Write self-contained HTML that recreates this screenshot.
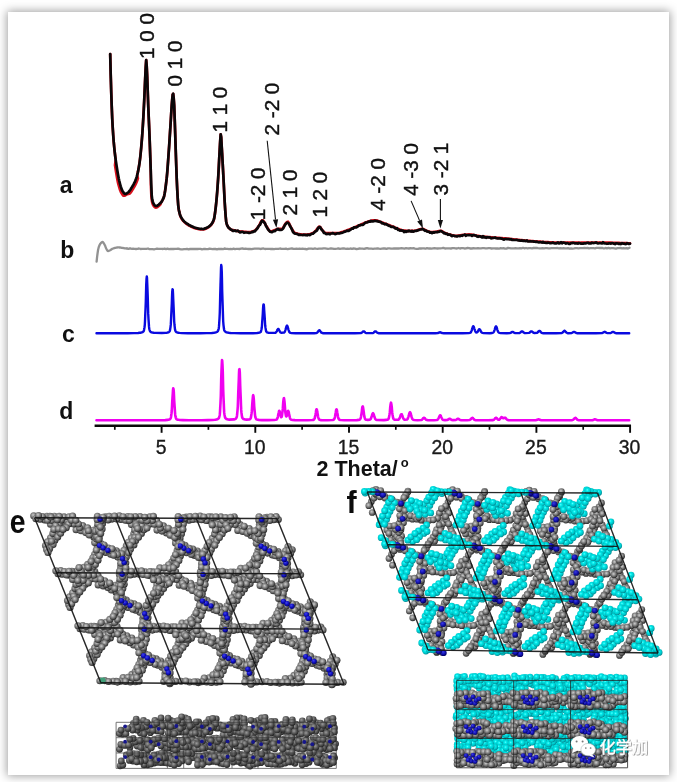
<!DOCTYPE html>
<html><head><meta charset="utf-8"><title>XRD patterns and structures</title>
<style>
html,body{margin:0;padding:0;background:#fff;}
body{width:677px;height:782px;overflow:hidden;position:relative;font-family:"Liberation Sans","Noto Sans CJK SC",sans-serif;}
#card{position:absolute;left:8px;top:12px;width:661px;height:763px;background:#fff;box-shadow:0 0 9px 1px rgba(0,0,0,0.38);}
svg{position:absolute;left:0;top:0;}
text{font-family:"Liberation Sans","Noto Sans CJK SC",sans-serif;}
</style></head>
<body>
<div id="card"></div>
<svg width="677" height="782" viewBox="0 0 677 782">
<g opacity="0.999">
<g fill="none" stroke-linejoin="round" stroke-linecap="round">
<polyline points="110.2,54.0 110.7,74.5 111.2,91.3 111.7,105.8 112.2,118.1 112.7,127.4 113.2,135.0 113.7,141.5 114.2,147.0 114.7,151.9 115.2,156.1 115.7,159.8 115.0,165.1 115.5,168.3 116.0,171.5 116.5,174.6 117.0,177.5 117.5,180.2 118.0,182.6 118.5,184.6 119.0,186.4 119.5,188.2 120.0,189.8 120.5,191.1 121.0,192.3 121.5,193.1 122.0,193.9 122.5,194.6 123.0,195.2 123.5,195.7 124.0,195.8 124.5,195.7 125.0,195.5 125.5,195.3 126.0,194.9 126.5,194.5 129.4,193.8 129.9,193.3 130.4,192.8 130.9,192.2 131.4,191.4 131.9,190.7 132.4,189.8 132.9,189.0 133.4,188.2 133.9,187.3 134.4,186.5 134.9,185.6 135.4,184.6 135.9,183.6 136.4,182.5 136.9,181.2 137.4,179.9 137.9,178.4 137.2,175.0 137.7,172.9 138.2,170.6 138.7,167.9 139.2,164.9 139.7,161.6 140.2,157.6 140.7,152.9 141.2,147.6 141.7,141.7 142.2,135.4 142.7,128.0 143.2,119.7 143.7,110.6 144.2,101.0 144.7,89.6 145.2,78.1 145.7,67.7 146.2,60.2 146.7,66.1 147.2,76.4 147.7,90.5 148.2,105.0 148.7,116.9 149.2,128.3 149.7,140.6 150.2,155.0 150.7,169.4 150.9,184.8 151.4,196.7 151.9,200.9 152.4,203.1 152.9,204.5 153.4,205.4 153.9,206.1 154.4,206.8 154.9,207.2 155.4,207.5 155.9,207.6 156.4,207.5 156.9,207.3 157.4,207.0 157.9,206.7 158.4,206.3 158.9,205.9 159.4,205.4 159.9,205.0 160.4,204.4 161.2,202.2 161.7,201.5 162.2,200.7 162.7,199.8 163.2,198.7 163.7,197.5 164.2,195.8 164.7,193.3 165.2,190.1 165.7,186.5 166.2,182.5 166.7,178.2 167.2,172.8 167.7,166.4 168.2,159.5 168.7,152.5 169.2,145.3 169.7,137.5 170.2,129.7 170.7,121.8 171.2,113.5 171.7,105.7 172.2,99.7 172.7,94.6 173.2,93.9 173.7,98.2 174.2,105.5 174.7,119.1 175.2,133.9 175.7,149.5 176.2,164.3 176.7,178.3 177.2,188.9 177.7,197.9 178.2,205.1 178.7,209.3 179.2,211.7 179.7,213.7 180.2,215.7 180.7,216.9 181.2,217.9 181.7,218.8 182.2,219.6 182.7,220.2 183.2,220.9 183.7,221.4 184.2,221.9 184.7,222.4 185.2,222.8 185.7,223.2 186.2,223.6 186.7,224.0 187.2,224.3 187.7,224.7 188.2,225.0 188.7,225.3 189.2,225.6 189.7,225.8 190.2,226.1 190.7,226.4 191.2,226.6 191.7,226.9 192.2,227.1 192.7,227.3 193.2,227.6 193.7,227.8 194.2,228.0 194.7,228.1 195.2,228.3 195.7,228.4 196.2,228.5 196.7,228.7 197.2,228.8 197.7,228.9 198.2,229.0 198.7,229.1 199.2,229.2 199.7,229.3 200.2,229.3 200.7,229.4 201.2,229.4 201.7,229.5 202.2,229.5 202.7,229.5 203.2,229.5 203.7,229.4 204.2,229.2 204.7,229.1 205.2,228.9 205.7,228.7 206.2,228.5 206.7,228.2 207.2,227.9 207.7,227.7 208.2,227.4 208.7,227.1 209.2,226.7 209.7,226.3 210.2,225.9 210.7,225.4 211.2,224.8 211.7,224.2 212.2,223.4 212.7,222.5 213.2,221.6 213.7,220.5 214.2,218.2 214.7,215.3 215.2,211.7 215.7,207.6 216.2,203.2 216.7,197.9 217.2,191.8 217.7,184.9 218.2,177.5 218.7,168.5 219.2,158.8 219.7,150.0 220.2,140.8 220.7,134.4 221.2,137.5 221.7,146.5 222.2,154.9 222.7,163.8 223.2,173.1 223.7,182.5 224.2,192.5 224.7,202.2 225.2,209.9 225.7,216.7 226.2,221.7 226.7,223.8 227.2,225.2 227.7,226.3 228.2,227.1 228.7,227.7 229.2,228.2 229.7,228.6 230.2,229.0 230.7,229.4 231.2,229.7 231.7,230.0 232.0,230.2 233.0,230.0 234.0,230.3 235.0,230.6 236.0,230.8 237.0,231.0 238.0,231.2 239.0,231.3 240.0,231.4 241.0,231.5 242.0,231.6 243.0,231.7 244.0,231.8 245.0,231.9 246.0,231.9 247.0,232.0 248.0,232.0 249.0,232.0 250.0,232.0 251.0,231.9 252.0,231.7 253.0,231.3 254.0,230.9 255.0,230.4 256.0,229.7 257.0,228.4 258.0,226.9 259.0,225.4 260.0,223.7 261.0,221.7 262.0,220.3 263.0,220.3 264.0,221.7 265.0,223.7 266.0,225.4 267.0,227.0 268.0,228.8 269.0,230.3 270.0,231.3 271.0,231.4 272.0,231.2 273.0,230.8 274.0,230.4 275.0,230.1 276.0,229.6 277.0,229.2 278.0,228.9 279.0,228.9 280.0,228.9 281.0,228.9 282.0,228.9 283.0,228.0 284.0,226.1 285.0,224.4 286.0,223.1 287.0,222.0 288.0,221.7 289.0,223.2 290.0,225.5 291.0,227.3 292.0,229.1 293.0,230.9 294.0,232.3 295.0,233.0 296.0,233.4 297.0,233.6 298.0,233.9 299.0,234.1 300.0,234.3 301.0,234.4 302.0,234.5 303.0,234.6 304.0,234.6 305.0,234.6 306.0,234.6 307.0,234.5 308.0,234.4 309.0,234.2 310.0,234.0 311.0,233.7 312.0,233.4 313.0,233.0 314.0,232.3 315.0,231.4 316.0,230.4 317.0,229.2 318.0,227.7 319.0,226.7 320.0,226.8 321.0,228.2 322.0,229.8 323.0,230.9 324.0,232.0 325.0,232.8 326.0,233.0 327.0,233.0 328.0,233.0 329.0,233.0 330.0,233.0 331.0,233.0 332.0,233.0 333.0,233.0 334.0,233.0 335.0,233.0 336.0,233.0 337.0,233.0 338.0,233.0 339.0,232.9 340.0,232.7 341.0,232.4 342.0,232.1 343.0,231.8 344.0,231.4 345.0,231.0 346.0,230.7 347.0,230.3 348.0,229.9 349.0,229.6 350.0,229.2 351.0,228.8 352.0,228.4 353.0,228.0 354.0,227.6 355.0,227.1 356.0,226.7 357.0,226.2 358.0,225.8 359.0,225.4 360.0,224.9 361.0,224.5 362.0,224.1 363.0,223.6 364.0,223.2 365.0,222.7 366.0,222.3 367.0,222.0 368.0,221.6 369.0,221.4 370.0,221.1 371.0,220.8 372.0,220.6 373.0,220.4 374.0,220.3 375.0,220.3 376.0,220.4 377.0,220.6 378.0,220.9 379.0,221.3 380.0,221.7 381.0,222.1 382.0,222.4 383.0,222.8 384.0,223.2 385.0,223.5 386.0,223.9 387.0,224.3 388.0,224.7 389.0,225.1 390.0,225.5 391.0,225.9 392.0,226.3 393.0,226.6 394.0,227.0 395.0,227.4 396.0,227.9 397.0,228.3 398.0,228.8 399.0,229.2 400.0,229.6 401.0,229.9 402.0,230.2 403.0,230.5 404.0,230.6 405.0,230.7 406.0,230.8 407.0,230.8 408.0,230.8 409.0,230.8 410.0,230.8 411.0,230.8 412.0,230.8 413.0,230.8 414.0,230.8 415.0,230.7 416.0,230.5 417.0,230.2 418.0,229.9 419.0,229.5 420.0,229.2 421.0,229.0 422.0,228.9 423.0,228.9 424.0,229.3 425.0,229.9 426.0,230.5 427.0,230.9 428.0,231.3 429.0,231.6 430.0,231.9 431.0,232.0 432.0,232.0 433.0,232.0 434.0,231.9 435.0,231.8 436.0,231.8 437.0,231.6 438.0,231.3 439.0,231.0 440.0,230.8 441.0,230.8 442.0,231.2 443.0,231.8 444.0,232.4 445.0,232.9 446.0,233.3 447.0,233.7 448.0,234.1 449.0,234.4 450.0,234.6 451.0,234.9 452.0,235.2 453.0,235.4 454.0,235.7 455.0,235.8 456.0,235.8 457.0,235.8 458.0,235.7 459.0,235.6 460.0,235.4 461.0,235.2 462.0,235.1 463.0,234.9 464.0,234.8 465.0,234.7 466.0,234.6 467.0,234.5 468.0,234.5 469.0,234.4 470.0,234.5 471.0,234.6 472.0,234.7 473.0,234.9 474.0,235.1 475.0,235.3 476.0,235.5 477.0,235.7 478.0,235.9 479.0,236.1 480.0,236.2 481.0,236.4 482.0,236.5 483.0,236.6 484.0,236.7 485.0,236.8 486.0,236.9 487.0,237.0 488.0,237.1 489.0,237.1 490.0,237.2 491.0,237.3 492.0,237.4 493.0,237.5 494.0,237.5 495.0,237.6 496.0,237.7 497.0,237.8 498.0,237.9 499.0,237.9 500.0,238.0 501.0,238.1 502.0,238.2 503.0,238.3 504.0,238.4 505.0,238.4 506.0,238.5 507.0,238.6 508.0,238.7 509.0,238.8 510.0,238.9 511.0,239.1 512.0,239.2 513.0,239.3 514.0,239.4 515.0,239.5 516.0,239.6 517.0,239.7 518.0,239.8 519.0,239.9 520.0,240.0 521.0,240.1 522.0,240.2 523.0,240.3 524.0,240.4 525.0,240.5 526.0,240.6 527.0,240.7 528.0,240.8 529.0,240.9 530.0,240.9 531.0,241.0 532.0,241.1 533.0,241.2 534.0,241.3 535.0,241.3 536.0,241.4 537.0,241.5 538.0,241.6 539.0,241.7 540.0,241.7 541.0,241.8 542.0,241.9 543.0,242.0 544.0,242.0 545.0,242.1 546.0,242.1 547.0,242.2 548.0,242.2 549.0,242.3 550.0,242.3 551.0,242.4 552.0,242.4 553.0,242.4 554.0,242.5 555.0,242.5 556.0,242.5 557.0,242.5 558.0,242.5 559.0,242.5 560.0,242.6 561.0,242.6 562.0,242.6 563.0,242.6 564.0,242.6 565.0,242.6 566.0,242.7 567.0,242.7 568.0,242.7 569.0,242.7 570.0,242.7 571.0,242.7 572.0,242.7 573.0,242.7 574.0,242.7 575.0,242.7 576.0,242.7 577.0,242.7 578.0,242.7 579.0,242.7 580.0,242.8 581.0,242.7 582.0,242.7 583.0,242.7 584.0,242.7 585.0,242.7 586.0,242.7 587.0,242.7 588.0,242.7 589.0,242.7 590.0,242.7 591.0,242.7 592.0,242.7 593.0,242.7 594.0,242.7 595.0,242.7 596.0,242.7 597.0,242.7 598.0,242.7 599.0,242.7 600.0,242.7 601.0,242.7 602.0,242.7 603.0,242.7 604.0,242.7 605.0,242.7 606.0,242.7 607.0,242.7 608.0,242.7 609.0,242.7 610.0,242.7 611.0,242.7 612.0,242.8 613.0,242.8 614.0,242.8 615.0,242.8 616.0,242.8 617.0,242.9 618.0,242.9 619.0,242.9 620.0,243.0 621.0,243.0 622.0,243.0 623.0,243.1 624.0,243.1 625.0,243.1 626.0,243.2 627.0,243.2 628.0,243.3 629.0,243.3 630.0,243.3" stroke="#d8101c" stroke-width="2.7"/>
<polyline points="110.2,54.0 110.7,74.5 111.2,91.2 111.7,105.7 112.2,118.0 112.7,127.3 113.2,135.0 113.7,141.6 114.2,147.0 114.7,151.8 115.2,156.1 115.7,159.9 116.2,163.3 116.7,166.4 117.2,169.7 117.7,172.8 118.2,175.6 118.7,178.3 119.2,180.6 119.7,182.6 120.2,184.5 120.7,186.4 121.2,187.8 121.7,189.4 122.2,190.5 122.7,191.3 123.2,191.9 123.7,192.8 124.2,193.4 124.7,193.9 125.2,193.8 125.7,193.9 126.2,193.6 126.7,193.4 127.2,193.2 127.7,192.6 128.2,192.3 128.7,191.9 129.2,191.2 129.7,190.6 130.2,190.0 130.7,189.2 131.2,188.2 131.7,187.5 132.2,186.8 132.7,185.7 133.2,185.0 133.7,184.1 134.2,183.0 134.7,182.3 135.2,181.0 135.7,179.6 136.2,178.4 136.7,176.9 137.2,175.0 137.7,173.0 138.2,170.5 138.7,167.9 139.2,165.1 139.7,161.6 140.2,157.6 140.7,152.8 141.2,147.6 141.7,141.6 142.2,135.3 142.7,128.0 143.2,119.8 143.7,110.8 144.2,100.8 144.7,89.6 145.2,78.2 145.7,67.5 146.2,60.2 146.7,66.1 147.2,76.5 147.7,90.6 148.2,105.0 148.7,116.9 149.2,128.2 149.7,140.8 150.2,155.0 150.7,169.4 151.2,183.2 151.7,195.1 152.2,199.3 152.7,201.4 153.2,202.9 153.7,203.8 154.2,204.7 154.7,205.2 155.2,205.6 155.7,206.0 156.2,206.0 156.7,206.0 157.2,205.7 157.7,205.5 158.2,204.9 158.7,204.7 159.2,204.1 159.7,203.6 160.2,203.3 160.7,202.7 161.2,202.2 161.7,201.8 162.2,200.6 162.7,199.7 163.2,198.7 163.7,197.6 164.2,195.8 164.7,193.2 165.2,190.2 165.7,186.5 166.2,182.4 166.7,178.2 167.2,172.8 167.7,166.3 168.2,159.5 168.7,152.4 169.2,145.4 169.7,137.5 170.2,129.7 170.7,121.8 171.2,113.5 171.7,105.5 172.2,99.6 172.7,94.6 173.2,93.7 173.7,98.3 174.2,105.3 174.7,119.1 175.2,133.8 175.7,149.6 176.2,164.3 176.7,178.1 177.2,189.0 177.7,198.1 178.2,205.1 178.7,209.2 179.2,211.7 179.7,213.6 180.2,215.3 180.7,216.3 181.2,217.4 181.7,218.2 182.2,219.0 182.7,219.6 183.2,220.5 183.7,220.9 184.2,221.5 184.7,221.9 185.2,222.2 185.7,222.7 186.2,223.1 186.7,223.5 187.2,223.8 187.7,224.1 188.2,224.3 188.7,224.7 189.2,225.2 189.7,225.3 190.2,225.5 190.7,225.9 191.2,226.3 191.7,226.2 192.2,226.6 192.7,226.8 193.2,226.9 193.7,227.3 194.2,227.5 194.7,227.6 195.2,227.7 195.7,228.0 196.2,228.0 196.7,228.1 197.2,228.2 197.7,228.3 198.2,228.6 198.7,228.5 199.2,228.7 199.7,228.8 200.2,228.8 200.7,228.8 201.2,229.0 201.7,228.9 202.2,229.0 202.7,229.0 203.2,229.1 203.7,228.9 204.2,228.8 204.7,228.5 205.2,228.3 205.7,228.3 206.2,228.1 206.7,227.7 207.2,227.5 207.7,227.2 208.2,227.0 208.7,226.7 209.2,226.2 209.7,226.0 210.2,225.3 210.7,225.0 211.2,224.4 211.7,223.7 212.2,223.1 212.7,222.2 213.2,221.0 213.7,219.8 214.2,218.3 214.7,215.2 215.2,211.7 215.7,207.7 216.2,203.0 216.7,197.7 217.2,191.8 217.7,184.9 218.2,177.5 218.7,168.5 219.2,158.7 219.7,149.8 220.2,140.8 220.7,134.3 221.2,137.3 221.7,146.6 222.2,154.9 222.7,163.9 223.2,173.0 223.7,182.4 224.2,192.4 224.7,202.1 225.2,209.9 225.7,216.6 226.2,221.8 226.7,223.9 227.2,225.4 227.7,226.1 228.2,227.2 228.7,227.7 229.2,228.2 229.7,228.5 230.2,229.0 230.7,229.5 231.2,229.7 231.7,230.0 232.0,230.1 233.0,231.0 234.0,230.9 235.0,230.4 236.0,231.1 237.0,230.9 238.0,230.6 239.0,231.7 240.0,232.5 241.0,232.1 242.0,231.8 243.0,232.0 244.0,232.8 245.0,232.5 246.0,232.5 247.0,232.5 248.0,232.6 249.0,232.9 250.0,232.8 251.0,232.5 252.0,231.8 253.0,232.1 254.0,231.2 255.0,231.4 256.0,229.8 257.0,228.9 258.0,227.5 259.0,225.5 260.0,224.8 261.0,222.7 262.0,220.7 263.0,221.1 264.0,222.3 265.0,223.3 266.0,226.1 267.0,227.6 268.0,229.4 269.0,230.5 270.0,231.7 271.0,231.9 272.0,232.2 273.0,231.5 274.0,231.0 275.0,231.2 276.0,230.0 277.0,229.6 278.0,228.8 279.0,230.0 280.0,229.8 281.0,229.8 282.0,229.7 283.0,228.6 284.0,226.8 285.0,224.9 286.0,223.6 287.0,222.6 288.0,222.8 289.0,223.9 290.0,226.0 291.0,227.6 292.0,229.5 293.0,232.0 294.0,233.0 295.0,233.6 296.0,233.8 297.0,233.8 298.0,234.4 299.0,235.0 300.0,234.7 301.0,234.9 302.0,235.0 303.0,235.2 304.0,234.6 305.0,235.1 306.0,234.9 307.0,235.4 308.0,234.7 309.0,234.9 310.0,235.1 311.0,234.2 312.0,233.8 313.0,233.6 314.0,232.8 315.0,231.6 316.0,231.2 317.0,230.4 318.0,228.1 319.0,227.1 320.0,227.0 321.0,228.9 322.0,230.0 323.0,231.1 324.0,233.0 325.0,233.0 326.0,234.0 327.0,234.1 328.0,233.7 329.0,233.8 330.0,234.3 331.0,233.5 332.0,233.4 333.0,233.1 334.0,233.6 335.0,234.1 336.0,233.9 337.0,233.3 338.0,233.3 339.0,233.3 340.0,233.3 341.0,232.9 342.0,232.8 343.0,232.4 344.0,231.9 345.0,231.6 346.0,231.3 347.0,230.8 348.0,230.7 349.0,230.8 350.0,230.0 351.0,229.4 352.0,228.4 353.0,228.7 354.0,227.4 355.0,227.2 356.0,227.5 357.0,227.0 358.0,226.3 359.0,225.3 360.0,225.4 361.0,224.8 362.0,224.8 363.0,225.0 364.0,223.8 365.0,223.0 366.0,222.5 367.0,222.5 368.0,222.1 369.0,221.5 370.0,221.7 371.0,220.9 372.0,221.5 373.0,221.3 374.0,221.2 375.0,220.6 376.0,221.1 377.0,221.1 378.0,221.4 379.0,221.7 380.0,221.8 381.0,222.1 382.0,223.3 383.0,223.3 384.0,223.8 385.0,224.4 386.0,223.9 387.0,224.6 388.0,225.3 389.0,225.8 390.0,225.9 391.0,226.8 392.0,226.9 393.0,226.8 394.0,227.2 395.0,228.3 396.0,228.6 397.0,228.2 398.0,229.8 399.0,229.9 400.0,230.6 401.0,230.3 402.0,230.7 403.0,230.6 404.0,232.1 405.0,231.2 406.0,231.9 407.0,231.1 408.0,231.4 409.0,230.7 410.0,231.2 411.0,231.6 412.0,230.9 413.0,231.7 414.0,231.4 415.0,230.9 416.0,230.9 417.0,230.6 418.0,230.4 419.0,229.9 420.0,229.5 421.0,229.4 422.0,229.1 423.0,229.0 424.0,229.9 425.0,230.8 426.0,230.5 427.0,231.5 428.0,231.6 429.0,231.8 430.0,232.7 431.0,232.4 432.0,233.1 433.0,232.3 434.0,232.6 435.0,232.3 436.0,232.0 437.0,232.3 438.0,231.8 439.0,231.8 440.0,231.3 441.0,231.0 442.0,231.7 443.0,232.3 444.0,233.3 445.0,233.2 446.0,233.9 447.0,233.7 448.0,234.8 449.0,234.5 450.0,234.6 451.0,235.4 452.0,236.1 453.0,235.5 454.0,235.8 455.0,236.1 456.0,236.0 457.0,236.5 458.0,236.0 459.0,235.9 460.0,236.2 461.0,235.5 462.0,235.8 463.0,235.2 464.0,235.0 465.0,234.6 466.0,235.8 467.0,235.0 468.0,235.1 469.0,235.0 470.0,235.1 471.0,235.1 472.0,235.9 473.0,235.1 474.0,235.1 475.0,235.5 476.0,235.6 477.0,236.5 478.0,236.8 479.0,236.3 480.0,236.3 481.0,236.8 482.0,237.5 483.0,236.1 484.0,237.4 485.0,237.0 486.0,237.8 487.0,237.1 488.0,237.5 489.0,237.2 490.0,237.4 491.0,238.3 492.0,238.2 493.0,237.9 494.0,237.8 495.0,237.5 496.0,238.1 497.0,238.3 498.0,238.4 499.0,238.5 500.0,238.2 501.0,238.6 502.0,238.7 503.0,239.3 504.0,239.6 505.0,239.0 506.0,238.8 507.0,239.2 508.0,239.1 509.0,239.1 510.0,239.5 511.0,239.2 512.0,239.9 513.0,239.8 514.0,240.0 515.0,240.0 516.0,239.9 517.0,239.9 518.0,240.3 519.0,240.3 520.0,240.6 521.0,240.7 522.0,240.3 523.0,240.9 524.0,240.5 525.0,240.9 526.0,241.1 527.0,240.5 528.0,241.4 529.0,241.5 530.0,241.4 531.0,241.4 532.0,241.5 533.0,241.4 534.0,241.7 535.0,241.7 536.0,242.0 537.0,241.6 538.0,242.2 539.0,242.3 540.0,242.2 541.0,242.2 542.0,242.6 543.0,241.9 544.0,242.7 545.0,242.7 546.0,242.8 547.0,242.9 548.0,242.6 549.0,242.8 550.0,243.1 551.0,243.1 552.0,243.0 553.0,242.5 554.0,243.2 555.0,243.4 556.0,243.4 557.0,243.1 558.0,242.5 559.0,243.4 560.0,243.1 561.0,242.2 562.0,243.3 563.0,242.6 564.0,242.7 565.0,243.0 566.0,243.6 567.0,243.1 568.0,243.3 569.0,243.9 570.0,243.8 571.0,243.2 572.0,243.2 573.0,242.8 574.0,243.0 575.0,243.4 576.0,243.4 577.0,243.3 578.0,243.6 579.0,243.0 580.0,243.3 581.0,243.6 582.0,243.5 583.0,243.7 584.0,243.4 585.0,243.2 586.0,243.4 587.0,242.9 588.0,242.7 589.0,243.5 590.0,243.2 591.0,243.4 592.0,242.7 593.0,243.1 594.0,243.0 595.0,242.9 596.0,242.4 597.0,243.1 598.0,243.5 599.0,243.3 600.0,243.0 601.0,243.2 602.0,243.5 603.0,242.2 604.0,243.2 605.0,243.4 606.0,243.5 607.0,243.8 608.0,243.6 609.0,243.4 610.0,243.4 611.0,243.6 612.0,243.1 613.0,243.3 614.0,243.7 615.0,244.1 616.0,243.3 617.0,243.4 618.0,243.5 619.0,244.0 620.0,243.5 621.0,244.1 622.0,243.2 623.0,243.6 624.0,243.6 625.0,244.0 626.0,244.1 627.0,243.2 628.0,243.5 629.0,244.0 630.0,243.7" stroke="#0a0608" stroke-width="2.7"/>
<polyline points="96.6,261.6 97.1,256.8 97.6,253.0 98.1,249.8 98.6,247.7 99.1,246.2 99.6,245.0 100.1,244.0 100.6,243.4 101.1,242.8 101.6,242.4 102.1,242.1 102.6,242.0 103.1,242.3 103.6,243.0 104.1,243.8 104.6,244.7 105.1,245.7 105.6,247.0 106.1,248.2 106.6,249.2 107.1,250.1 107.6,250.9 108.1,251.0 108.6,250.9 109.1,250.7 109.6,250.5 110.1,250.3 110.6,250.0 111.1,249.6 111.6,249.3 112.1,248.9 112.6,248.7 113.1,248.5 113.6,248.3 114.1,248.2 114.6,248.0 115.1,247.9 115.6,247.8 116.1,247.7 116.6,247.6 117.1,247.5 117.6,247.4 118.1,247.4 118.6,247.4 119.1,247.4 119.6,247.5 120.1,247.5 120.6,247.6 121.1,247.7 121.6,247.8 122.1,247.9 122.6,247.9 123.1,248.0 123.6,248.1 124.1,248.2 124.6,248.3 125.1,248.3 125.6,248.3 126.1,248.6 126.6,248.5 127.1,248.6 127.6,248.4 128.1,248.9 128.6,248.9 129.1,248.7 129.6,248.7 130.0,248.2 131.5,248.8 133.0,248.7 134.5,248.9 136.0,249.0 137.5,248.8 139.0,248.5 140.5,249.0 142.0,248.8 143.5,248.9 145.0,248.9 146.5,248.9 148.0,248.5 149.5,249.2 151.0,249.1 152.5,249.2 154.0,249.4 155.5,249.0 157.0,248.6 158.5,248.8 160.0,248.8 161.5,248.9 163.0,249.0 164.5,248.6 166.0,249.1 167.5,248.7 169.0,249.1 170.5,249.0 172.0,248.9 173.5,249.0 175.0,248.9 176.5,248.9 178.0,248.7 179.5,249.0 181.0,249.4 182.5,249.4 184.0,249.2 185.5,249.1 187.0,248.8 188.5,249.3 190.0,249.0 191.5,249.0 193.0,248.9 194.5,249.0 196.0,248.9 197.5,249.0 199.0,248.8 200.5,248.9 202.0,249.4 203.5,249.0 205.0,248.9 206.5,249.1 208.0,249.1 209.5,248.7 211.0,248.9 212.5,249.1 214.0,249.0 215.5,249.0 217.0,249.3 218.5,248.8 220.0,249.0 221.5,248.8 223.0,249.2 224.5,248.5 226.0,248.8 227.5,248.8 229.0,249.1 230.5,249.0 232.0,249.2 233.5,248.6 235.0,249.1 236.5,248.9 238.0,248.8 239.5,249.0 241.0,248.7 242.5,248.5 244.0,248.8 245.5,248.6 247.0,248.8 248.5,249.0 250.0,249.0 251.5,249.2 253.0,248.8 254.5,248.6 256.0,248.7 257.5,248.7 259.0,248.6 260.5,249.0 262.0,248.7 263.5,248.5 265.0,249.0 266.5,248.8 268.0,248.9 269.5,248.9 271.0,249.0 272.5,248.9 274.0,249.1 275.5,248.9 277.0,248.9 278.5,248.9 280.0,248.5 281.5,248.8 283.0,248.8 284.5,248.9 286.0,248.6 287.5,249.2 289.0,248.8 290.5,248.6 292.0,248.5 293.5,248.8 295.0,248.8 296.5,248.7 298.0,248.8 299.5,248.7 301.0,248.9 302.5,248.7 304.0,248.8 305.5,249.0 307.0,249.3 308.5,248.6 310.0,248.7 311.5,248.6 313.0,248.9 314.5,248.5 316.0,248.7 317.5,248.8 319.0,248.6 320.5,248.6 322.0,248.6 323.5,248.3 325.0,248.4 326.5,248.6 328.0,248.8 329.5,248.7 331.0,248.4 332.5,248.6 334.0,248.9 335.5,248.8 337.0,248.7 338.5,248.5 340.0,248.8 341.5,248.6 343.0,248.4 344.5,248.5 346.0,248.9 347.5,248.7 349.0,248.9 350.5,248.5 352.0,248.8 353.5,248.5 355.0,248.6 356.5,249.1 358.0,248.8 359.5,248.5 361.0,248.6 362.5,248.7 364.0,248.8 365.5,248.5 367.0,248.2 368.5,248.5 370.0,248.6 371.5,248.6 373.0,248.8 374.5,248.6 376.0,248.7 377.5,248.3 379.0,248.7 380.5,248.9 382.0,248.7 383.5,248.5 385.0,248.5 386.5,248.8 388.0,248.3 389.5,248.4 391.0,248.6 392.5,248.6 394.0,248.4 395.5,248.5 397.0,248.4 398.5,248.5 400.0,248.4 401.5,248.2 403.0,248.4 404.5,248.6 406.0,248.2 407.5,248.4 409.0,248.5 410.5,248.2 412.0,248.4 413.5,248.2 415.0,248.6 416.5,248.8 418.0,248.8 419.5,248.3 421.0,248.5 422.5,248.4 424.0,248.4 425.5,248.7 427.0,248.1 428.5,248.5 430.0,248.3 431.5,248.6 433.0,248.4 434.5,248.2 436.0,248.4 437.5,248.5 439.0,248.3 440.5,248.4 442.0,248.2 443.5,247.9 445.0,248.5 446.5,248.4 448.0,248.3 449.5,248.3 451.0,248.5 452.5,248.2 454.0,248.2 455.5,248.3 457.0,248.5 458.5,248.0 460.0,248.5 461.5,248.2 463.0,248.1 464.5,248.5 466.0,248.3 467.5,248.0 469.0,248.2 470.5,248.5 472.0,248.5 473.5,248.2 475.0,248.4 476.5,248.4 478.0,248.1 479.5,248.3 481.0,248.3 482.5,248.2 484.0,248.2 485.5,248.3 487.0,248.3 488.5,248.2 490.0,248.2 491.5,248.5 493.0,248.3 494.5,248.4 496.0,248.5 497.5,248.4 499.0,248.7 500.5,248.1 502.0,248.4 503.5,248.2 505.0,248.6 506.5,248.6 508.0,247.9 509.5,248.1 511.0,248.4 512.5,248.4 514.0,248.4 515.5,248.2 517.0,248.3 518.5,248.4 520.0,248.2 521.5,248.4 523.0,247.8 524.5,248.4 526.0,248.0 527.5,248.4 529.0,248.2 530.5,248.1 532.0,248.3 533.5,248.0 535.0,248.0 536.5,247.9 538.0,248.2 539.5,248.3 541.0,248.4 542.5,248.2 544.0,248.4 545.5,248.2 547.0,248.2 548.5,248.3 550.0,248.4 551.5,248.2 553.0,248.2 554.5,248.2 556.0,248.2 557.5,248.0 559.0,248.4 560.5,248.1 562.0,248.3 563.5,248.1 565.0,248.3 566.5,248.3 568.0,248.1 569.5,248.6 571.0,248.3 572.5,248.6 574.0,248.4 575.5,248.1 577.0,248.1 578.5,248.3 580.0,248.2 581.5,248.2 583.0,248.2 584.5,247.8 586.0,248.2 587.5,247.8 589.0,248.3 590.5,248.1 592.0,248.1 593.5,248.2 595.0,248.3 596.5,247.9 598.0,247.9 599.5,248.0 601.0,247.8 602.5,248.0 604.0,248.5 605.5,248.0 607.0,248.3 608.5,247.9 610.0,248.3 611.5,248.1 613.0,248.2 614.5,248.3 616.0,248.6 617.5,248.2 619.0,248.2 620.5,248.0 622.0,248.3 623.5,248.2 625.0,248.4 626.5,248.2 628.0,248.5 629.5,247.8" stroke="#929292" stroke-width="2.3"/>
<polyline points="96.5,333.3 102.8,333.3 109.0,333.3 115.2,333.3 121.5,333.3 127.8,333.2 134.0,333.1 138.0,333.0 139.8,332.8 140.8,332.7 141.5,332.5 142.0,332.3 142.5,332.1 142.8,332.0 143.0,331.8 143.2,331.6 143.5,331.3 143.8,330.8 144.0,330.1 144.2,329.1 144.5,327.4 144.8,324.8 145.0,321.0 145.2,315.9 145.5,309.3 145.8,301.6 146.0,293.2 146.2,285.3 146.5,279.2 146.8,276.4 147.0,277.6 147.2,282.6 147.5,289.9 147.8,298.2 148.0,306.3 148.2,313.4 148.5,319.1 148.8,323.4 149.0,326.4 149.2,328.5 149.5,329.8 149.8,330.6 150.0,331.1 150.2,331.5 150.5,331.7 150.8,331.9 151.0,332.1 151.5,332.3 152.0,332.5 152.8,332.6 153.8,332.8 155.5,332.9 161.8,333.0 165.5,332.9 167.0,332.7 167.8,332.5 168.2,332.4 168.8,332.1 169.0,332.0 169.2,331.8 169.5,331.4 169.8,330.9 170.0,330.2 170.2,329.0 170.5,327.1 170.8,324.4 171.0,320.6 171.2,315.8 171.5,309.9 171.8,303.5 172.0,297.2 172.2,292.1 172.5,289.3 172.8,289.6 173.0,293.0 173.2,298.4 173.5,304.8 173.8,311.2 174.0,316.8 174.2,321.5 174.5,325.0 174.8,327.6 175.0,329.3 175.2,330.4 175.5,331.1 175.8,331.5 176.0,331.8 176.2,332.0 176.5,332.2 177.0,332.4 177.5,332.6 178.2,332.7 179.5,332.9 181.8,333.1 188.0,333.2 194.2,333.2 200.5,333.2 206.8,333.1 211.8,333.0 213.8,332.8 215.0,332.6 215.8,332.4 216.2,332.3 216.8,332.0 217.0,331.9 217.2,331.7 217.5,331.5 217.8,331.3 218.0,330.9 218.2,330.4 218.5,329.5 218.8,328.2 219.0,326.2 219.2,323.1 219.5,318.6 219.8,312.4 220.0,304.5 220.2,295.2 220.5,285.2 220.8,275.7 221.0,268.4 221.2,265.0 221.5,266.5 221.8,272.4 222.0,281.3 222.2,291.2 222.5,300.9 222.8,309.4 223.0,316.3 223.2,321.5 223.5,325.1 223.8,327.5 224.0,329.1 224.2,330.1 224.5,330.7 224.8,331.1 225.0,331.4 225.2,331.7 225.5,331.8 226.0,332.1 226.5,332.3 227.0,332.5 227.8,332.6 228.8,332.8 230.5,333.0 234.2,333.1 240.5,333.2 246.8,333.2 253.0,333.2 257.0,333.0 258.5,332.8 259.5,332.6 260.0,332.4 260.2,332.3 260.5,332.1 260.8,331.8 261.0,331.3 261.2,330.5 261.5,329.2 261.8,327.5 262.0,325.0 262.2,321.8 262.5,318.0 262.8,313.7 263.0,309.6 263.2,306.3 263.5,304.4 263.8,304.6 264.0,306.8 264.2,310.4 264.5,314.6 264.8,318.8 265.0,322.5 265.2,325.5 265.5,327.9 265.8,329.5 266.0,330.6 266.2,331.4 266.5,331.8 266.8,332.1 267.0,332.3 267.5,332.5 268.2,332.7 269.5,332.9 275.5,332.7 275.8,332.5 276.0,332.3 276.2,332.0 276.5,331.6 276.8,331.2 277.0,330.7 277.2,330.1 277.5,329.6 277.8,329.2 278.0,328.9 278.5,329.0 278.8,329.4 279.0,329.8 279.2,330.3 279.5,330.9 279.8,331.3 280.0,331.8 280.2,332.1 280.5,332.4 280.8,332.6 281.2,332.8 284.0,332.6 284.2,332.4 284.5,332.1 284.8,331.7 285.0,331.2 285.2,330.6 285.5,329.8 285.8,328.9 286.0,328.0 286.2,327.1 286.5,326.3 286.8,325.7 287.0,325.5 287.2,325.7 287.5,326.3 287.8,327.1 288.0,328.0 288.2,328.9 288.5,329.8 288.8,330.6 289.0,331.2 289.2,331.8 289.5,332.2 289.8,332.4 290.0,332.6 290.5,332.9 291.5,333.1 295.5,333.2 301.8,333.3 308.0,333.3 314.2,333.2 316.2,333.1 316.8,332.9 317.0,332.7 317.2,332.5 317.5,332.3 317.8,332.0 318.0,331.7 318.2,331.3 318.5,330.9 318.8,330.6 319.0,330.4 319.5,330.3 319.8,330.5 320.0,330.8 320.2,331.2 320.5,331.5 320.8,331.9 321.0,332.2 321.2,332.5 321.5,332.7 321.8,332.8 322.2,333.0 323.5,333.2 329.8,333.3 336.0,333.3 342.2,333.3 348.5,333.3 354.8,333.3 360.8,333.1 361.2,332.9 361.5,332.8 361.8,332.7 362.0,332.5 362.2,332.3 362.5,332.0 362.8,331.8 363.0,331.6 363.2,331.4 364.0,331.4 364.2,331.6 364.5,331.8 364.8,332.1 365.0,332.3 365.2,332.5 365.5,332.7 366.0,333.0 366.8,333.1 373.0,333.0 373.5,332.7 373.8,332.5 374.0,332.3 374.2,332.1 374.5,331.8 374.8,331.6 375.0,331.4 375.8,331.4 376.0,331.6 376.2,331.8 376.5,332.0 376.8,332.3 377.0,332.5 377.2,332.7 377.5,332.8 378.0,333.0 379.0,333.2 385.2,333.3 391.5,333.3 397.8,333.3 404.0,333.3 410.2,333.3 416.5,333.3 422.8,333.3 429.0,333.3 435.2,333.3 437.8,333.1 438.2,332.9 438.8,332.7 439.2,332.5 439.8,332.3 440.8,332.5 441.2,332.7 441.8,332.9 442.2,333.1 443.8,333.2 450.0,333.3 456.2,333.3 462.5,333.3 468.8,333.1 469.8,332.9 470.2,332.7 470.5,332.6 470.8,332.3 471.0,332.0 471.2,331.5 471.5,331.0 471.8,330.3 472.0,329.5 472.2,328.6 472.5,327.8 472.8,327.0 473.0,326.5 473.2,326.2 473.5,326.3 473.8,326.8 474.0,327.4 474.2,328.3 474.5,329.1 474.8,329.9 475.0,330.6 475.2,331.2 475.5,331.7 475.8,332.1 476.0,332.3 476.5,332.5 477.0,332.4 477.2,332.2 477.5,331.9 477.8,331.6 478.0,331.2 478.2,330.7 478.5,330.2 478.8,329.8 479.0,329.4 479.2,329.2 479.5,329.2 479.8,329.4 480.0,329.7 480.2,330.2 480.5,330.7 480.8,331.2 481.0,331.6 481.2,332.0 481.5,332.3 481.8,332.5 482.0,332.7 482.5,332.9 483.5,333.1 489.8,333.2 492.2,333.0 493.0,332.7 493.2,332.5 493.5,332.3 493.8,331.9 494.0,331.5 494.2,330.9 494.5,330.2 494.8,329.3 495.0,328.5 495.2,327.7 495.5,326.9 495.8,326.5 496.0,326.3 496.2,326.5 496.5,326.9 496.8,327.7 497.0,328.5 497.2,329.3 497.5,330.2 497.8,330.9 498.0,331.5 498.2,331.9 498.5,332.3 498.8,332.5 499.0,332.7 499.5,332.9 500.5,333.1 506.8,333.2 510.0,333.0 510.5,332.9 510.8,332.7 511.0,332.6 511.2,332.4 511.5,332.2 511.8,332.1 512.0,331.9 513.0,331.9 513.2,332.1 513.5,332.2 513.8,332.4 514.0,332.6 514.2,332.7 514.8,333.0 515.5,333.1 519.5,333.0 520.0,332.7 520.2,332.6 520.5,332.4 520.8,332.1 521.0,331.9 521.2,331.7 521.5,331.5 522.0,331.3 522.5,331.5 522.8,331.7 523.0,331.9 523.2,332.1 523.5,332.4 523.8,332.6 524.0,332.7 524.5,333.0 525.2,333.1 529.0,332.9 529.5,332.7 529.8,332.5 530.0,332.3 530.2,332.0 530.5,331.8 530.8,331.6 531.0,331.4 531.8,331.4 532.0,331.5 532.2,331.7 532.5,332.0 532.8,332.2 533.0,332.4 533.2,332.6 533.5,332.8 534.0,333.0 537.2,332.7 537.5,332.5 537.8,332.3 538.0,332.0 538.2,331.7 538.5,331.4 538.8,331.2 539.0,330.9 539.8,330.9 540.0,331.1 540.2,331.4 540.5,331.7 540.8,332.0 541.0,332.3 541.2,332.5 541.5,332.7 541.8,332.9 542.2,333.0 543.5,333.2 549.8,333.3 556.0,333.3 561.5,333.1 562.0,332.9 562.2,332.8 562.5,332.6 562.8,332.4 563.0,332.2 563.2,331.9 563.5,331.6 563.8,331.3 564.0,331.0 564.2,330.8 564.8,330.8 565.0,331.0 565.2,331.3 565.5,331.6 565.8,331.9 566.0,332.2 566.2,332.4 566.5,332.6 566.8,332.8 567.2,333.0 568.2,333.2 571.8,333.0 572.2,332.8 572.5,332.6 572.8,332.4 573.0,332.2 573.2,332.1 573.5,331.9 574.5,331.9 574.8,332.1 575.0,332.3 575.2,332.4 575.5,332.6 575.8,332.8 576.2,333.0 577.0,333.2 583.2,333.3 589.5,333.3 595.8,333.3 602.0,333.1 602.5,332.9 603.0,332.7 603.2,332.5 603.5,332.3 603.8,332.2 604.0,332.0 604.5,331.8 605.2,332.0 605.5,332.2 605.8,332.4 606.0,332.5 606.2,332.7 606.8,332.9 607.5,333.1 610.8,333.0 611.2,332.8 611.5,332.6 611.8,332.4 612.0,332.3 612.2,332.1 612.5,331.9 613.5,331.9 613.8,332.1 614.0,332.3 614.2,332.4 614.5,332.6 614.8,332.8 615.2,333.0 616.0,333.2 622.2,333.3 628.5,333.3 629.2,333.3" stroke="#0a0ae0" stroke-width="2.4"/>
<polyline points="96.5,420.3 102.8,420.3 109.0,420.3 115.2,420.3 121.5,420.3 127.8,420.3 134.0,420.3 140.2,420.3 146.5,420.3 152.8,420.3 159.0,420.2 165.2,420.1 167.5,419.9 168.5,419.8 169.2,419.6 169.8,419.3 170.0,419.2 170.2,418.9 170.5,418.5 170.8,417.9 171.0,417.0 171.2,415.5 171.5,413.4 171.8,410.5 172.0,406.8 172.2,402.5 172.5,397.8 172.8,393.4 173.0,389.9 173.2,388.3 173.5,389.0 173.8,391.8 174.0,395.9 174.2,400.6 174.5,405.2 174.8,409.1 175.0,412.3 175.2,414.7 175.5,416.4 175.8,417.6 176.0,418.3 176.2,418.8 176.5,419.1 176.8,419.3 177.2,419.5 177.8,419.7 178.5,419.8 179.8,420.0 182.8,420.1 189.0,420.2 195.2,420.2 201.5,420.2 207.8,420.1 212.8,420.0 214.8,419.8 216.0,419.6 216.8,419.4 217.2,419.3 217.8,419.0 218.0,418.9 218.2,418.7 218.5,418.5 218.8,418.2 219.0,417.8 219.2,417.1 219.5,416.0 219.8,414.4 220.0,411.8 220.2,408.1 220.5,403.0 220.8,396.3 221.0,388.3 221.2,379.5 221.5,370.9 221.8,363.9 222.0,360.1 222.2,360.5 222.5,365.1 222.8,372.5 223.0,381.2 223.2,389.9 223.5,397.7 223.8,404.1 224.0,408.9 224.2,412.4 224.5,414.7 224.8,416.2 225.0,417.2 225.2,417.8 225.5,418.2 225.8,418.5 226.0,418.7 226.2,418.9 226.8,419.1 227.2,419.3 228.0,419.5 229.2,419.6 234.0,419.4 234.8,419.2 235.2,419.0 235.5,418.9 235.8,418.7 236.0,418.5 236.2,418.1 236.5,417.6 236.8,416.8 237.0,415.5 237.2,413.5 237.5,410.6 237.8,406.5 238.0,401.1 238.2,394.5 238.5,387.1 238.8,379.7 239.0,373.4 239.2,369.5 239.5,369.2 239.8,372.4 240.0,378.3 240.2,385.6 240.5,393.1 240.8,399.9 241.0,405.5 241.2,409.9 241.5,413.0 241.8,415.2 242.0,416.6 242.2,417.5 242.5,418.0 242.8,418.4 243.0,418.7 243.2,418.9 243.8,419.1 244.2,419.3 245.0,419.5 246.5,419.6 249.2,419.5 249.8,419.3 250.0,419.1 250.2,418.9 250.5,418.6 250.8,418.0 251.0,417.1 251.2,415.8 251.5,413.9 251.8,411.4 252.0,408.3 252.2,404.8 252.5,401.1 252.8,397.9 253.0,395.7 253.2,395.2 253.5,396.4 253.8,399.1 254.0,402.6 254.2,406.3 254.5,409.7 254.8,412.5 255.0,414.8 255.2,416.4 255.5,417.6 255.8,418.3 256.0,418.8 256.2,419.1 256.5,419.3 257.0,419.5 257.8,419.7 259.0,419.9 261.8,420.1 268.0,420.1 274.2,420.0 275.8,419.8 276.5,419.6 276.8,419.4 277.0,419.1 277.2,418.7 277.5,418.1 277.8,417.3 278.0,416.2 278.2,414.9 278.5,413.6 278.8,412.3 279.0,411.3 279.2,410.8 279.5,411.0 279.8,411.7 280.0,412.8 280.2,414.1 280.5,415.2 280.8,416.2 281.0,416.9 281.2,417.2 281.5,417.1 281.8,416.6 282.0,415.5 282.2,413.9 282.5,411.6 282.8,408.9 283.0,405.7 283.2,402.6 283.5,399.9 283.8,398.2 284.0,398.1 284.2,399.4 284.5,402.0 284.8,405.1 285.0,408.2 285.2,411.0 285.5,413.3 285.8,415.0 286.0,416.1 286.2,416.5 286.5,416.4 286.8,415.9 287.0,415.1 287.2,413.9 287.5,412.7 287.8,411.7 288.0,410.9 288.2,410.8 288.5,411.3 288.8,412.3 289.0,413.6 289.2,414.9 289.5,416.2 289.8,417.2 290.0,418.1 290.2,418.7 290.5,419.1 290.8,419.4 291.0,419.6 291.5,419.8 292.5,420.0 295.0,420.1 301.2,420.2 307.5,420.2 312.2,420.0 313.2,419.9 313.8,419.7 314.0,419.5 314.2,419.2 314.5,418.7 314.8,418.1 315.0,417.1 315.2,415.9 315.5,414.5 315.8,412.9 316.0,411.3 316.2,410.0 316.5,409.3 316.8,409.4 317.0,410.2 317.2,411.6 317.5,413.2 317.8,414.8 318.0,416.2 318.2,417.3 318.5,418.2 318.8,418.8 319.0,419.3 319.2,419.5 319.5,419.7 320.0,419.9 321.2,420.1 327.5,420.2 332.2,420.0 333.2,419.9 333.8,419.6 334.0,419.4 334.2,419.0 334.5,418.5 334.8,417.7 335.0,416.7 335.2,415.4 335.5,413.8 335.8,412.2 336.0,410.7 336.2,409.7 336.5,409.3 336.8,409.7 337.0,410.7 337.2,412.2 337.5,413.8 337.8,415.4 338.0,416.7 338.2,417.7 338.5,418.5 338.8,419.0 339.0,419.4 339.2,419.6 339.8,419.9 340.8,420.0 344.2,420.2 350.5,420.2 356.8,420.1 358.8,419.9 359.5,419.7 359.8,419.6 360.0,419.4 360.2,419.1 360.5,418.6 360.8,417.8 361.0,416.8 361.2,415.4 361.5,413.6 361.8,411.6 362.0,409.6 362.2,407.8 362.5,406.6 362.8,406.3 363.0,407.0 363.2,408.4 363.5,410.4 363.8,412.4 364.0,414.3 364.2,415.9 364.5,417.2 364.8,418.1 365.0,418.8 365.2,419.2 365.5,419.4 365.8,419.6 366.2,419.8 367.8,419.9 369.8,419.7 370.0,419.6 370.2,419.4 370.5,419.2 370.8,418.8 371.0,418.4 371.2,417.8 371.5,417.1 371.8,416.3 372.0,415.4 372.2,414.6 372.5,413.9 372.8,413.4 373.0,413.2 373.2,413.4 373.5,413.9 373.8,414.6 374.0,415.4 374.2,416.3 374.5,417.1 374.8,417.8 375.0,418.4 375.2,418.9 375.5,419.2 375.8,419.5 376.0,419.7 376.5,419.9 377.5,420.0 383.8,420.1 386.2,419.9 387.2,419.8 387.8,419.6 388.0,419.5 388.2,419.2 388.5,418.9 388.8,418.3 389.0,417.4 389.2,416.2 389.5,414.5 389.8,412.4 390.0,410.0 390.2,407.4 390.5,405.1 390.8,403.4 391.0,402.7 391.2,403.4 391.5,405.1 391.8,407.4 392.0,410.0 392.2,412.4 392.5,414.5 392.8,416.2 393.0,417.4 393.2,418.3 393.5,418.8 393.8,419.2 394.0,419.4 394.5,419.7 395.2,419.8 398.5,419.6 398.8,419.4 399.0,419.2 399.2,418.8 399.5,418.4 399.8,417.8 400.0,417.2 400.2,416.5 400.5,415.8 400.8,415.1 401.0,414.5 401.2,414.2 401.5,414.2 401.8,414.4 402.0,415.0 402.2,415.6 402.5,416.3 402.8,417.1 403.0,417.7 403.2,418.3 403.5,418.7 403.8,419.1 404.0,419.4 404.2,419.6 404.8,419.8 407.0,419.5 407.2,419.3 407.5,419.0 407.8,418.6 408.0,418.1 408.2,417.4 408.5,416.6 408.8,415.7 409.0,414.7 409.2,413.8 409.5,413.0 409.8,412.4 410.0,412.2 410.2,412.4 410.5,413.0 410.8,413.8 411.0,414.8 411.2,415.7 411.5,416.7 411.8,417.5 412.0,418.1 412.2,418.7 412.5,419.1 412.8,419.4 413.0,419.6 413.5,419.8 414.2,420.0 417.5,420.2 421.2,420.0 421.8,419.8 422.0,419.6 422.2,419.4 422.5,419.1 422.8,418.8 423.0,418.5 423.2,418.2 423.5,418.0 423.8,417.8 424.2,417.8 424.5,418.0 424.8,418.2 425.0,418.5 425.2,418.8 425.5,419.1 425.8,419.4 426.0,419.6 426.2,419.8 426.8,420.0 427.8,420.1 434.0,420.2 436.8,420.0 437.2,419.8 437.5,419.7 437.8,419.5 438.0,419.2 438.2,418.9 438.5,418.4 438.8,417.9 439.0,417.3 439.2,416.7 439.5,416.1 439.8,415.7 440.0,415.3 440.2,415.3 440.5,415.4 440.8,415.8 441.0,416.4 441.2,417.0 441.5,417.6 441.8,418.1 442.0,418.6 442.2,419.0 442.5,419.4 442.8,419.6 443.0,419.8 443.5,420.0 445.0,420.1 447.2,420.0 447.8,419.8 448.0,419.6 448.2,419.5 448.5,419.3 448.8,419.1 449.0,418.9 449.5,418.7 450.2,419.0 450.5,419.1 450.8,419.3 451.0,419.5 451.2,419.7 451.8,419.9 452.5,420.1 456.0,419.9 456.2,419.7 456.5,419.6 456.8,419.4 457.0,419.2 457.2,419.1 457.5,418.9 458.5,418.9 458.8,419.1 459.0,419.2 459.2,419.4 459.5,419.6 459.8,419.7 460.2,420.0 461.0,420.1 467.2,420.2 469.5,420.0 470.0,419.8 470.2,419.7 470.5,419.5 470.8,419.2 471.0,418.9 471.2,418.6 471.5,418.3 471.8,418.1 472.0,417.9 472.5,417.8 472.8,418.0 473.0,418.2 473.2,418.5 473.5,418.8 473.8,419.1 474.0,419.4 474.2,419.6 474.5,419.8 475.0,420.0 475.8,420.2 482.0,420.3 488.2,420.2 493.0,420.1 493.5,419.9 493.8,419.8 494.0,419.6 494.2,419.4 494.5,419.1 494.8,418.8 495.0,418.5 495.2,418.2 495.5,418.0 495.8,417.8 496.2,417.8 496.5,417.9 496.8,418.2 497.0,418.5 497.2,418.8 497.5,419.1 497.8,419.3 498.0,419.5 498.5,419.7 499.2,419.6 499.5,419.4 499.8,419.2 500.0,418.9 500.2,418.6 500.5,418.3 500.8,417.9 501.0,417.6 501.2,417.3 501.5,417.1 502.0,417.2 502.2,417.5 502.5,417.7 502.8,418.0 503.0,418.1 504.0,418.1 504.2,417.9 504.5,417.7 505.2,417.7 505.5,417.9 505.8,418.2 506.0,418.5 506.2,418.8 506.5,419.1 506.8,419.4 507.0,419.6 507.2,419.7 507.8,420.0 508.5,420.1 514.8,420.3 521.0,420.3 527.2,420.3 533.5,420.3 536.2,420.1 536.8,419.9 537.2,419.7 537.8,419.5 538.2,419.3 539.2,419.5 539.8,419.7 540.2,419.9 540.8,420.1 542.2,420.3 548.5,420.3 554.8,420.3 561.0,420.3 567.2,420.3 572.2,420.1 573.0,419.8 573.2,419.7 573.5,419.5 573.8,419.2 574.0,419.0 574.2,418.6 574.5,418.3 574.8,418.1 575.0,417.9 575.5,417.8 575.8,418.0 576.0,418.2 576.2,418.5 576.5,418.8 576.8,419.1 577.0,419.4 577.2,419.6 577.5,419.8 578.0,420.0 578.8,420.2 585.0,420.3 591.2,420.3 592.8,420.1 593.2,419.9 593.8,419.7 594.2,419.5 594.8,419.3 595.8,419.5 596.2,419.7 596.8,419.9 597.2,420.1 598.8,420.3 605.0,420.3 611.2,420.3 617.5,420.3 623.8,420.3 629.2,420.3" stroke="#f000f0" stroke-width="2.6"/>
</g>
<g stroke="#0a0a0a" stroke-linecap="butt">
<line x1="94.6" y1="425.7" x2="631" y2="425.7" stroke-width="2.5"/>
<line x1="161.6" y1="425" x2="161.6" y2="432.8" stroke-width="1.9"/>
<line x1="255.3" y1="425" x2="255.3" y2="432.8" stroke-width="1.9"/>
<line x1="349.0" y1="425" x2="349.0" y2="432.8" stroke-width="1.9"/>
<line x1="442.7" y1="425" x2="442.7" y2="432.8" stroke-width="1.9"/>
<line x1="536.4" y1="425" x2="536.4" y2="432.8" stroke-width="1.9"/>
<line x1="630.1" y1="425" x2="630.1" y2="432.8" stroke-width="1.9"/>
<line x1="114.8" y1="425" x2="114.8" y2="429.8" stroke-width="1.7"/>
<line x1="208.4" y1="425" x2="208.4" y2="429.8" stroke-width="1.7"/>
<line x1="302.1" y1="425" x2="302.1" y2="429.8" stroke-width="1.7"/>
<line x1="395.8" y1="425" x2="395.8" y2="429.8" stroke-width="1.7"/>
<line x1="489.5" y1="425" x2="489.5" y2="429.8" stroke-width="1.7"/>
<line x1="583.2" y1="425" x2="583.2" y2="429.8" stroke-width="1.7"/>
</g>
<g font-size="19.4" fill="#1a1a1a" stroke="#1a1a1a" stroke-width="0.35" text-anchor="middle">
<text x="161.1" y="453.8">5</text>
<text x="254.8" y="453.8">10</text>
<text x="348.5" y="453.8">15</text>
<text x="442.2" y="453.8">20</text>
<text x="535.9" y="453.8">25</text>
<text x="629.6" y="453.8">30</text>
</g>
<text x="316.5" y="475.5" font-size="21.5" font-weight="bold" fill="#111">2 Theta/<tspan dx="3" dy="-9" font-size="13">o</tspan></text>
<g font-size="23" font-weight="bold" fill="#111">
<text x="59.8" y="193.2">a</text>
<text x="60.3" y="258.2">b</text>
<text x="62" y="342.2">c</text>
<text x="59.3" y="419.2">d</text>
</g>
<text transform="translate(153.9,58.9) rotate(-90)" font-size="20.6" fill="#111" stroke="#111" stroke-width="0.42">1 0 0</text>
<text transform="translate(182.3,86.4) rotate(-90)" font-size="20.6" fill="#111" stroke="#111" stroke-width="0.42">0 1 0</text>
<text transform="translate(227.1,132.5) rotate(-90)" font-size="20.6" fill="#111" stroke="#111" stroke-width="0.42">1 1 0</text>
<text transform="translate(279.1,135.4) rotate(-90)" font-size="20.6" fill="#111" stroke="#111" stroke-width="0.42">2 -2 0</text>
<text transform="translate(265.0,220.2) rotate(-90)" font-size="20.6" fill="#111" stroke="#111" stroke-width="0.42">1 -2 0</text>
<text transform="translate(297.0,215.4) rotate(-90)" font-size="20.6" fill="#111" stroke="#111" stroke-width="0.42">2 1 0</text>
<text transform="translate(326.5,217.6) rotate(-90)" font-size="20.6" fill="#111" stroke="#111" stroke-width="0.42">1 2 0</text>
<text transform="translate(384.6,210.8) rotate(-90)" font-size="20.6" fill="#111" stroke="#111" stroke-width="0.42">4 -2 0</text>
<text transform="translate(418.2,195.8) rotate(-90)" font-size="20.6" fill="#111" stroke="#111" stroke-width="0.42">4 -3 0</text>
<text transform="translate(447.5,195.4) rotate(-90)" font-size="20.6" fill="#111" stroke="#111" stroke-width="0.42">3 -2 1</text>
<line x1="267.2" y1="140.7" x2="275.5" y2="219.5" stroke="#111" stroke-width="1.1"/><polygon points="276.4,228.0 272.9,219.8 278.1,219.3" fill="#111"/>
<line x1="411.1" y1="200.9" x2="419.6" y2="220.6" stroke="#111" stroke-width="1.1"/><polygon points="423.0,228.4 417.2,221.6 422.0,219.6" fill="#111"/>
<line x1="440.4" y1="199.1" x2="440.4" y2="219.9" stroke="#111" stroke-width="1.1"/><polygon points="440.4,228.4 437.8,219.9 443.0,219.9" fill="#111"/>
</g>
<defs>
<radialGradient id="gg" cx="0.42" cy="0.38" r="0.6"><stop offset="0" stop-color="#cecece"/><stop offset="0.4" stop-color="#909090"/><stop offset="0.78" stop-color="#555"/><stop offset="1" stop-color="#2a2a2a"/></radialGradient>
<radialGradient id="gb" cx="0.38" cy="0.34" r="0.7"><stop offset="0" stop-color="#4040f0"/><stop offset="0.5" stop-color="#1212c4"/><stop offset="1" stop-color="#000060"/></radialGradient>
<radialGradient id="gc" cx="0.42" cy="0.38" r="0.62"><stop offset="0" stop-color="#5cffff"/><stop offset="0.3" stop-color="#00eaea"/><stop offset="0.72" stop-color="#00c2c6"/><stop offset="1" stop-color="#008890"/></radialGradient>
<radialGradient id="gd" cx="0.38" cy="0.34" r="0.7"><stop offset="0" stop-color="#9a9a9a"/><stop offset="0.5" stop-color="#5a5a5a"/><stop offset="1" stop-color="#1e1e1e"/></radialGradient>
<radialGradient id="gb2" cx="0.38" cy="0.34" r="0.7"><stop offset="0" stop-color="#3838e8"/><stop offset="0.6" stop-color="#1010a8"/><stop offset="1" stop-color="#000058"/></radialGradient>
<filter id="wsh" x="-10%" y="-20%" width="120%" height="140%"><feDropShadow dx="0.6" dy="0.6" stdDeviation="0.7" flood-color="#333" flood-opacity="0.75"/></filter>
<filter id="soft" x="-5%" y="-5%" width="110%" height="110%"><feGaussianBlur stdDeviation="0.35"/></filter>
</defs>
<style>
.g circle{fill:url(#gg)}
.b circle{fill:url(#gb)}
.c circle{fill:url(#gc)}
.d circle{fill:url(#gd)}
.b2 circle{fill:url(#gb2)}
.b3 circle{fill:#15158c}
.fs .b circle{fill:url(#gb2)}
</style><g filter="url(#soft)"><g class="g">
<circle cx="133.8" cy="533.7" r="3.55"/><circle cx="300.4" cy="606.7" r="3.55"/><circle cx="222.6" cy="526.0" r="3.55"/><circle cx="304.3" cy="671.3" r="3.55"/><circle cx="140.0" cy="516.6" r="3.55"/><circle cx="225.6" cy="637.7" r="3.55"/><circle cx="217.6" cy="533.8" r="3.55"/><circle cx="93.2" cy="530.2" r="3.55"/><circle cx="293.8" cy="638.9" r="3.55"/><circle cx="140.6" cy="660.1" r="3.55"/><circle cx="91.1" cy="626.3" r="3.55"/><circle cx="174.8" cy="536.6" r="3.55"/><circle cx="156.2" cy="658.9" r="3.55"/><circle cx="187.1" cy="584.8" r="3.55"/><circle cx="213.3" cy="521.0" r="3.55"/><circle cx="120.3" cy="639.9" r="3.55"/><circle cx="170.1" cy="677.8" r="3.55"/><circle cx="122.8" cy="588.5" r="3.55"/><circle cx="214.2" cy="678.6" r="3.55"/><circle cx="306.6" cy="632.5" r="3.55"/><circle cx="226.1" cy="572.2" r="3.55"/><circle cx="305.8" cy="609.8" r="3.55"/><circle cx="110.3" cy="622.4" r="3.55"/><circle cx="241.6" cy="592.8" r="3.55"/><circle cx="180.4" cy="555.9" r="3.55"/><circle cx="227.3" cy="639.7" r="3.55"/><circle cx="156.6" cy="520.5" r="3.55"/><circle cx="132.4" cy="520.8" r="3.55"/><circle cx="110.4" cy="637.9" r="3.55"/><circle cx="172.0" cy="626.7" r="3.55"/><circle cx="237.9" cy="593.1" r="3.55"/><circle cx="278.8" cy="627.1" r="3.55"/><circle cx="116.1" cy="681.4" r="3.55"/><circle cx="179.2" cy="647.8" r="3.55"/><circle cx="262.0" cy="681.8" r="3.55"/><circle cx="266.9" cy="681.5" r="3.55"/><circle cx="143.5" cy="610.0" r="3.55"/><circle cx="156.9" cy="584.8" r="3.55"/><circle cx="181.0" cy="681.3" r="3.55"/><circle cx="288.0" cy="557.7" r="3.55"/><circle cx="269.6" cy="588.4" r="3.55"/><circle cx="263.4" cy="630.7" r="3.55"/><circle cx="239.8" cy="626.6" r="3.55"/><circle cx="152.2" cy="600.4" r="3.55"/><circle cx="205.4" cy="560.4" r="3.55"/><circle cx="266.5" cy="581.4" r="3.55"/><circle cx="244.5" cy="589.0" r="3.55"/><circle cx="182.0" cy="623.0" r="3.55"/><circle cx="203.4" cy="570.0" r="3.55"/><circle cx="246.6" cy="671.2" r="3.55"/><circle cx="301.4" cy="610.3" r="3.55"/><circle cx="253.7" cy="652.9" r="3.55"/><circle cx="152.8" cy="571.8" r="3.55"/><circle cx="124.2" cy="584.2" r="3.55"/><circle cx="156.1" cy="600.0" r="3.55"/><circle cx="224.4" cy="610.4" r="3.55"/><circle cx="166.5" cy="532.9" r="3.55"/><circle cx="267.1" cy="636.3" r="3.55"/><circle cx="317.0" cy="665.3" r="3.55"/><circle cx="304.6" cy="612.8" r="3.55"/><circle cx="318.3" cy="630.1" r="3.55"/><circle cx="293.1" cy="572.0" r="3.55"/><circle cx="203.4" cy="582.6" r="3.55"/><circle cx="84.1" cy="529.4" r="3.55"/><circle cx="284.1" cy="558.5" r="3.55"/><circle cx="250.7" cy="568.7" r="3.55"/><circle cx="99.1" cy="650.2" r="3.55"/><circle cx="138.8" cy="574.1" r="3.55"/><circle cx="228.3" cy="609.1" r="3.55"/><circle cx="142.7" cy="612.0" r="3.55"/><circle cx="221.3" cy="667.9" r="3.55"/><circle cx="105.0" cy="548.8" r="3.55"/><circle cx="127.9" cy="607.5" r="3.55"/><circle cx="46.9" cy="516.3" r="3.55"/><circle cx="188.9" cy="520.2" r="3.55"/><circle cx="149.6" cy="604.9" r="3.55"/><circle cx="176.8" cy="557.6" r="3.55"/><circle cx="144.6" cy="637.3" r="3.55"/><circle cx="283.5" cy="611.5" r="3.55"/><circle cx="97.3" cy="546.4" r="3.55"/><circle cx="176.4" cy="531.5" r="3.55"/><circle cx="327.1" cy="674.3" r="3.55"/><circle cx="278.2" cy="682.4" r="3.55"/><circle cx="220.1" cy="529.5" r="3.55"/><circle cx="98.2" cy="584.9" r="3.55"/><circle cx="305.4" cy="616.4" r="3.55"/><circle cx="121.0" cy="594.4" r="3.55"/><circle cx="116.3" cy="616.2" r="3.55"/><circle cx="333.8" cy="660.9" r="3.55"/><circle cx="219.7" cy="574.4" r="3.55"/><circle cx="189.6" cy="634.8" r="3.55"/><circle cx="225.5" cy="613.3" r="3.55"/><circle cx="220.8" cy="641.8" r="3.55"/><circle cx="216.4" cy="682.3" r="3.55"/><circle cx="142.9" cy="618.3" r="3.55"/><circle cx="133.9" cy="544.9" r="3.55"/><circle cx="125.5" cy="573.5" r="3.55"/><circle cx="160.7" cy="592.4" r="3.55"/><circle cx="223.3" cy="670.8" r="3.55"/><circle cx="175.5" cy="542.9" r="3.55"/><circle cx="225.8" cy="656.7" r="3.55"/><circle cx="125.8" cy="562.7" r="3.55"/><circle cx="181.3" cy="546.5" r="3.55"/><circle cx="254.8" cy="630.9" r="3.55"/><circle cx="145.8" cy="620.6" r="3.55"/><circle cx="284.9" cy="599.4" r="3.55"/><circle cx="102.7" cy="639.0" r="3.55"/><circle cx="169.5" cy="666.7" r="3.55"/><circle cx="211.4" cy="516.9" r="3.55"/><circle cx="251.0" cy="535.5" r="3.55"/><circle cx="205.5" cy="579.1" r="3.55"/><circle cx="141.5" cy="656.5" r="3.55"/><circle cx="203.3" cy="574.9" r="3.55"/><circle cx="217.8" cy="644.0" r="3.55"/><circle cx="113.2" cy="626.7" r="3.55"/><circle cx="214.6" cy="645.5" r="3.55"/><circle cx="171.9" cy="561.7" r="3.55"/><circle cx="197.3" cy="551.1" r="3.55"/><circle cx="123.3" cy="607.0" r="3.55"/><circle cx="218.9" cy="520.3" r="3.55"/><circle cx="181.5" cy="533.7" r="3.55"/><circle cx="181.1" cy="527.4" r="3.55"/><circle cx="204.7" cy="638.3" r="3.55"/><circle cx="286.4" cy="579.5" r="3.55"/><circle cx="287.5" cy="563.4" r="3.55"/><circle cx="131.4" cy="524.6" r="3.55"/><circle cx="296.0" cy="604.6" r="3.55"/><circle cx="207.8" cy="636.2" r="3.55"/><circle cx="152.6" cy="658.1" r="3.55"/><circle cx="179.2" cy="585.2" r="3.55"/><circle cx="219.1" cy="647.7" r="3.55"/><circle cx="230.6" cy="605.2" r="3.55"/><circle cx="228.9" cy="623.2" r="3.55"/><circle cx="209.1" cy="677.9" r="3.55"/><circle cx="222.5" cy="630.0" r="3.55"/><circle cx="180.8" cy="636.0" r="3.55"/><circle cx="219.5" cy="606.3" r="3.55"/><circle cx="215.6" cy="537.9" r="3.55"/><circle cx="206.6" cy="681.9" r="3.55"/><circle cx="186.9" cy="622.8" r="3.55"/><circle cx="246.0" cy="677.5" r="3.55"/><circle cx="250.7" cy="630.8" r="3.55"/><circle cx="145.2" cy="571.8" r="3.55"/><circle cx="280.4" cy="589.0" r="3.55"/><circle cx="299.4" cy="641.2" r="3.55"/><circle cx="98.4" cy="543.0" r="3.55"/><circle cx="312.1" cy="663.5" r="3.55"/><circle cx="93.8" cy="658.8" r="3.55"/><circle cx="86.6" cy="579.4" r="3.55"/><circle cx="223.7" cy="653.6" r="3.55"/><circle cx="240.7" cy="568.3" r="3.55"/><circle cx="289.0" cy="604.6" r="3.55"/><circle cx="233.6" cy="658.6" r="3.55"/><circle cx="228.9" cy="618.2" r="3.55"/><circle cx="83.8" cy="567.3" r="3.55"/><circle cx="98.5" cy="626.3" r="3.55"/><circle cx="190.6" cy="583.3" r="3.55"/><circle cx="142.8" cy="622.0" r="3.55"/><circle cx="247.1" cy="664.5" r="3.55"/><circle cx="332.7" cy="656.9" r="3.55"/><circle cx="222.6" cy="626.8" r="3.55"/><circle cx="138.1" cy="520.1" r="3.55"/><circle cx="275.2" cy="627.6" r="3.55"/><circle cx="282.4" cy="567.6" r="3.55"/><circle cx="138.9" cy="664.4" r="3.55"/><circle cx="251.1" cy="673.4" r="3.55"/><circle cx="306.5" cy="630.5" r="3.55"/><circle cx="131.0" cy="605.9" r="3.55"/><circle cx="108.3" cy="548.0" r="3.55"/><circle cx="118.4" cy="605.1" r="3.55"/><circle cx="116.0" cy="592.2" r="3.55"/><circle cx="105.4" cy="516.8" r="3.55"/><circle cx="222.2" cy="533.8" r="3.55"/><circle cx="104.7" cy="680.6" r="3.55"/><circle cx="120.7" cy="519.4" r="3.55"/><circle cx="49.2" cy="545.0" r="3.55"/><circle cx="240.1" cy="524.6" r="3.55"/><circle cx="95.8" cy="630.5" r="3.55"/><circle cx="62.0" cy="574.2" r="3.55"/><circle cx="186.6" cy="552.7" r="3.55"/><circle cx="281.0" cy="590.8" r="3.55"/><circle cx="147.2" cy="627.4" r="3.55"/><circle cx="306.4" cy="613.7" r="3.55"/><circle cx="259.0" cy="516.8" r="3.55"/><circle cx="145.3" cy="524.6" r="3.55"/><circle cx="91.6" cy="651.9" r="3.55"/><circle cx="204.5" cy="565.9" r="3.55"/><circle cx="301.8" cy="613.0" r="3.55"/><circle cx="134.2" cy="574.2" r="3.55"/><circle cx="181.5" cy="579.4" r="3.55"/><circle cx="80.6" cy="583.9" r="3.55"/><circle cx="160.3" cy="575.2" r="3.55"/><circle cx="191.5" cy="630.9" r="3.55"/><circle cx="154.6" cy="596.7" r="3.55"/><circle cx="101.5" cy="629.8" r="3.55"/><circle cx="244.9" cy="581.1" r="3.55"/><circle cx="82.6" cy="525.6" r="3.55"/><circle cx="208.3" cy="550.1" r="3.55"/><circle cx="68.7" cy="604.5" r="3.55"/><circle cx="176.5" cy="579.4" r="3.55"/><circle cx="222.1" cy="647.2" r="3.55"/><circle cx="172.6" cy="564.5" r="3.55"/><circle cx="284.6" cy="635.0" r="3.55"/><circle cx="262.3" cy="534.0" r="3.55"/><circle cx="256.0" cy="627.3" r="3.55"/><circle cx="252.8" cy="562.0" r="3.55"/><circle cx="276.5" cy="589.2" r="3.55"/><circle cx="94.7" cy="554.3" r="3.55"/><circle cx="76.1" cy="529.8" r="3.55"/><circle cx="55.1" cy="523.8" r="3.55"/><circle cx="105.5" cy="630.0" r="3.55"/><circle cx="80.0" cy="628.7" r="3.55"/><circle cx="163.8" cy="681.5" r="3.55"/><circle cx="77.0" cy="595.2" r="3.55"/><circle cx="60.6" cy="570.5" r="3.55"/><circle cx="257.2" cy="627.9" r="3.55"/><circle cx="140.1" cy="524.2" r="3.55"/><circle cx="147.4" cy="611.6" r="3.55"/><circle cx="292.9" cy="606.7" r="3.55"/><circle cx="213.7" cy="641.3" r="3.55"/><circle cx="91.7" cy="564.2" r="3.55"/><circle cx="273.0" cy="623.9" r="3.55"/><circle cx="166.7" cy="668.0" r="3.55"/><circle cx="157.9" cy="595.6" r="3.55"/><circle cx="194.4" cy="551.8" r="3.55"/><circle cx="267.0" cy="517.3" r="3.55"/><circle cx="320.8" cy="627.1" r="3.55"/><circle cx="69.6" cy="596.9" r="3.55"/><circle cx="157.0" cy="530.1" r="3.55"/><circle cx="241.1" cy="575.5" r="3.55"/><circle cx="121.6" cy="610.7" r="3.55"/><circle cx="284.3" cy="582.9" r="3.55"/><circle cx="79.4" cy="574.8" r="3.55"/><circle cx="285.2" cy="607.8" r="3.55"/><circle cx="194.6" cy="555.5" r="3.55"/><circle cx="175.6" cy="681.4" r="3.55"/><circle cx="94.7" cy="571.2" r="3.55"/><circle cx="167.9" cy="675.7" r="3.55"/><circle cx="93.9" cy="537.2" r="3.55"/><circle cx="202.2" cy="593.1" r="3.55"/><circle cx="337.7" cy="682.4" r="3.55"/><circle cx="229.4" cy="612.5" r="3.55"/><circle cx="300.6" cy="672.2" r="3.55"/><circle cx="257.8" cy="652.2" r="3.55"/><circle cx="126.0" cy="575.0" r="3.55"/><circle cx="271.7" cy="620.2" r="3.55"/><circle cx="245.7" cy="529.9" r="3.55"/><circle cx="273.3" cy="590.7" r="3.55"/><circle cx="256.0" cy="561.8" r="3.55"/><circle cx="100.9" cy="543.6" r="3.55"/><circle cx="169.3" cy="575.8" r="3.55"/><circle cx="116.1" cy="591.4" r="3.55"/><circle cx="249.2" cy="528.5" r="3.55"/><circle cx="153.1" cy="661.0" r="3.55"/><circle cx="173.4" cy="533.7" r="3.55"/><circle cx="118.7" cy="594.0" r="3.55"/><circle cx="111.4" cy="590.0" r="3.55"/><circle cx="103.5" cy="634.0" r="3.55"/><circle cx="225.9" cy="644.0" r="3.55"/><circle cx="143.3" cy="528.4" r="3.55"/><circle cx="328.9" cy="680.8" r="3.55"/><circle cx="260.2" cy="648.2" r="3.55"/><circle cx="284.2" cy="575.3" r="3.55"/><circle cx="143.8" cy="665.7" r="3.55"/><circle cx="202.2" cy="560.9" r="3.55"/><circle cx="162.2" cy="571.7" r="3.55"/><circle cx="181.1" cy="643.7" r="3.55"/><circle cx="191.5" cy="554.5" r="3.55"/><circle cx="145.1" cy="653.7" r="3.55"/><circle cx="126.3" cy="600.1" r="3.55"/><circle cx="217.3" cy="526.1" r="3.55"/><circle cx="286.9" cy="554.3" r="3.55"/><circle cx="139.8" cy="641.3" r="3.55"/><circle cx="112.8" cy="634.1" r="3.55"/><circle cx="115.3" cy="585.2" r="3.55"/><circle cx="165.4" cy="583.5" r="3.55"/><circle cx="266.7" cy="549.4" r="3.55"/><circle cx="192.9" cy="519.4" r="3.55"/><circle cx="127.5" cy="549.8" r="3.55"/><circle cx="109.2" cy="516.2" r="3.55"/><circle cx="105.9" cy="622.3" r="3.55"/><circle cx="265.4" cy="634.8" r="3.55"/><circle cx="201.6" cy="563.6" r="3.55"/><circle cx="102.0" cy="550.1" r="3.55"/><circle cx="73.2" cy="572.0" r="3.55"/><circle cx="237.3" cy="629.7" r="3.55"/><circle cx="119.0" cy="591.7" r="3.55"/><circle cx="70.8" cy="575.1" r="3.55"/><circle cx="278.7" cy="610.1" r="3.55"/><circle cx="94.0" cy="626.4" r="3.55"/><circle cx="284.6" cy="589.2" r="3.55"/><circle cx="210.3" cy="520.6" r="3.55"/><circle cx="102.5" cy="523.7" r="3.55"/><circle cx="254.3" cy="568.1" r="3.55"/><circle cx="330.3" cy="661.4" r="3.55"/><circle cx="111.1" cy="623.1" r="3.55"/><circle cx="105.2" cy="635.4" r="3.55"/><circle cx="173.8" cy="630.5" r="3.55"/><circle cx="86.1" cy="572.0" r="3.55"/><circle cx="270.6" cy="551.5" r="3.55"/><circle cx="314.4" cy="630.9" r="3.55"/><circle cx="48.7" cy="520.0" r="3.55"/><circle cx="270.0" cy="548.6" r="3.55"/><circle cx="270.6" cy="635.3" r="3.55"/><circle cx="144.6" cy="629.6" r="3.55"/><circle cx="142.7" cy="640.4" r="3.55"/><circle cx="249.9" cy="670.7" r="3.55"/><circle cx="254.2" cy="534.0" r="3.55"/><circle cx="179.7" cy="539.7" r="3.55"/><circle cx="164.3" cy="575.3" r="3.55"/><circle cx="149.4" cy="524.3" r="3.55"/><circle cx="163.4" cy="525.9" r="3.55"/><circle cx="213.8" cy="609.7" r="3.55"/><circle cx="282.5" cy="563.9" r="3.55"/><circle cx="94.7" cy="647.8" r="3.55"/><circle cx="71.2" cy="600.0" r="3.55"/><circle cx="224.5" cy="648.2" r="3.55"/><circle cx="123.0" cy="598.6" r="3.55"/><circle cx="311.6" cy="627.7" r="3.55"/><circle cx="93.3" cy="655.0" r="3.55"/><circle cx="196.2" cy="585.6" r="3.55"/><circle cx="334.0" cy="683.0" r="3.55"/><circle cx="239.6" cy="581.3" r="3.55"/><circle cx="124.1" cy="605.2" r="3.55"/><circle cx="294.5" cy="678.4" r="3.55"/><circle cx="292.2" cy="549.7" r="3.55"/><circle cx="303.6" cy="657.4" r="3.55"/><circle cx="215.1" cy="574.6" r="3.55"/><circle cx="203.5" cy="601.6" r="3.55"/><circle cx="103.8" cy="519.9" r="3.55"/><circle cx="237.4" cy="520.8" r="3.55"/><circle cx="257.4" cy="579.7" r="3.55"/><circle cx="174.3" cy="655.5" r="3.55"/><circle cx="128.3" cy="520.6" r="3.55"/><circle cx="146.3" cy="639.2" r="3.55"/><circle cx="119.4" cy="582.2" r="3.55"/><circle cx="288.0" cy="546.5" r="3.55"/><circle cx="217.6" cy="571.5" r="3.55"/><circle cx="168.2" cy="660.5" r="3.55"/><circle cx="198.2" cy="554.8" r="3.55"/><circle cx="104.1" cy="545.0" r="3.55"/><circle cx="64.5" cy="524.4" r="3.55"/><circle cx="285.7" cy="638.8" r="3.55"/><circle cx="279.5" cy="557.7" r="3.55"/><circle cx="84.1" cy="629.2" r="3.55"/><circle cx="135.9" cy="524.1" r="3.55"/><circle cx="253.4" cy="564.9" r="3.55"/><circle cx="185.0" cy="545.3" r="3.55"/><circle cx="200.4" cy="601.8" r="3.55"/><circle cx="88.7" cy="630.0" r="3.55"/><circle cx="280.6" cy="594.7" r="3.55"/><circle cx="66.3" cy="520.4" r="3.55"/><circle cx="284.3" cy="570.3" r="3.55"/><circle cx="170.6" cy="667.2" r="3.55"/><circle cx="212.3" cy="538.4" r="3.55"/><circle cx="198.6" cy="586.6" r="3.55"/><circle cx="54.0" cy="537.3" r="3.55"/><circle cx="281.2" cy="575.2" r="3.55"/><circle cx="94.7" cy="542.6" r="3.55"/><circle cx="237.8" cy="585.1" r="3.55"/><circle cx="54.4" cy="516.2" r="3.55"/><circle cx="55.9" cy="533.2" r="3.55"/><circle cx="175.1" cy="561.5" r="3.55"/><circle cx="201.5" cy="585.7" r="3.55"/><circle cx="228.3" cy="612.0" r="3.55"/><circle cx="303.6" cy="627.2" r="3.55"/><circle cx="302.9" cy="649.9" r="3.55"/><circle cx="289.8" cy="608.3" r="3.55"/><circle cx="244.6" cy="626.4" r="3.55"/><circle cx="50.6" cy="537.8" r="3.55"/><circle cx="275.1" cy="617.2" r="3.55"/><circle cx="302.6" cy="661.0" r="3.55"/><circle cx="186.2" cy="517.0" r="3.55"/><circle cx="188.7" cy="588.0" r="3.55"/><circle cx="141.1" cy="646.8" r="3.55"/><circle cx="281.3" cy="602.2" r="3.55"/><circle cx="228.6" cy="629.0" r="3.55"/><circle cx="97.4" cy="516.3" r="3.55"/><circle cx="62.5" cy="528.1" r="3.55"/><circle cx="216.3" cy="672.0" r="3.55"/><circle cx="280.8" cy="592.5" r="3.55"/><circle cx="131.9" cy="517.3" r="3.55"/><circle cx="165.0" cy="673.4" r="3.55"/><circle cx="253.6" cy="631.2" r="3.55"/><circle cx="272.4" cy="554.9" r="3.55"/><circle cx="295.3" cy="679.1" r="3.55"/><circle cx="76.4" cy="571.2" r="3.55"/><circle cx="169.3" cy="531.1" r="3.55"/><circle cx="173.8" cy="558.0" r="3.55"/><circle cx="209.1" cy="520.8" r="3.55"/><circle cx="73.5" cy="524.0" r="3.55"/><circle cx="94.7" cy="634.4" r="3.55"/><circle cx="304.7" cy="641.2" r="3.55"/><circle cx="304.1" cy="663.8" r="3.55"/><circle cx="309.6" cy="629.5" r="3.55"/><circle cx="227.3" cy="660.7" r="3.55"/><circle cx="241.2" cy="528.4" r="3.55"/><circle cx="176.2" cy="627.5" r="3.55"/><circle cx="81.1" cy="530.8" r="3.55"/><circle cx="54.9" cy="540.2" r="3.55"/><circle cx="141.8" cy="525.7" r="3.55"/><circle cx="292.1" cy="575.7" r="3.55"/><circle cx="213.5" cy="677.9" r="3.55"/><circle cx="242.4" cy="584.7" r="3.55"/><circle cx="185.8" cy="643.7" r="3.55"/><circle cx="211.3" cy="682.5" r="3.55"/><circle cx="278.3" cy="519.5" r="3.55"/><circle cx="270.6" cy="682.5" r="3.55"/><circle cx="105.7" cy="552.4" r="3.55"/><circle cx="327.1" cy="678.0" r="3.55"/><circle cx="174.5" cy="575.5" r="3.55"/><circle cx="68.6" cy="524.1" r="3.55"/><circle cx="278.6" cy="598.4" r="3.55"/><circle cx="177.4" cy="539.2" r="3.55"/><circle cx="139.6" cy="674.6" r="3.55"/><circle cx="191.3" cy="622.8" r="3.55"/><circle cx="294.0" cy="675.4" r="3.55"/><circle cx="262.4" cy="579.8" r="3.55"/><circle cx="276.1" cy="516.6" r="3.55"/><circle cx="199.1" cy="612.7" r="3.55"/><circle cx="119.4" cy="601.4" r="3.55"/><circle cx="147.9" cy="622.8" r="3.55"/><circle cx="113.1" cy="681.3" r="3.55"/><circle cx="131.9" cy="674.4" r="3.55"/><circle cx="303.5" cy="630.4" r="3.55"/><circle cx="247.9" cy="680.3" r="3.55"/><circle cx="223.7" cy="612.4" r="3.55"/><circle cx="197.7" cy="609.7" r="3.55"/><circle cx="82.7" cy="625.5" r="3.55"/><circle cx="76.1" cy="592.3" r="3.55"/><circle cx="283.1" cy="555.5" r="3.55"/><circle cx="104.7" cy="580.7" r="3.55"/><circle cx="304.7" cy="622.8" r="3.55"/><circle cx="307.2" cy="654.6" r="3.55"/><circle cx="305.8" cy="666.7" r="3.55"/><circle cx="87.6" cy="527.9" r="3.55"/><circle cx="72.7" cy="592.8" r="3.55"/><circle cx="237.8" cy="530.4" r="3.55"/><circle cx="160.7" cy="661.0" r="3.55"/><circle cx="107.8" cy="587.6" r="3.55"/><circle cx="301.0" cy="665.3" r="3.55"/><circle cx="164.9" cy="677.0" r="3.55"/><circle cx="206.9" cy="575.3" r="3.55"/><circle cx="199.9" cy="592.1" r="3.55"/><circle cx="277.1" cy="586.0" r="3.55"/><circle cx="200.9" cy="608.2" r="3.55"/><circle cx="223.8" cy="622.4" r="3.55"/><circle cx="201.0" cy="630.8" r="3.55"/><circle cx="140.2" cy="667.4" r="3.55"/><circle cx="242.8" cy="531.4" r="3.55"/><circle cx="92.5" cy="567.5" r="3.55"/><circle cx="92.8" cy="630.1" r="3.55"/><circle cx="135.3" cy="681.8" r="3.55"/><circle cx="95.3" cy="627.0" r="3.55"/><circle cx="230.7" cy="627.3" r="3.55"/><circle cx="112.1" cy="519.1" r="3.55"/><circle cx="279.7" cy="634.9" r="3.55"/><circle cx="131.4" cy="538.1" r="3.55"/><circle cx="232.5" cy="575.7" r="3.55"/><circle cx="64.0" cy="516.9" r="3.55"/><circle cx="195.6" cy="622.9" r="3.55"/><circle cx="122.5" cy="582.2" r="3.55"/><circle cx="99.2" cy="537.7" r="3.55"/><circle cx="306.6" cy="638.1" r="3.55"/><circle cx="268.0" cy="585.1" r="3.55"/><circle cx="94.2" cy="561.2" r="3.55"/><circle cx="89.6" cy="655.5" r="3.55"/><circle cx="99.9" cy="680.8" r="3.55"/><circle cx="194.8" cy="619.6" r="3.55"/><circle cx="142.1" cy="520.2" r="3.55"/><circle cx="110.6" cy="585.9" r="3.55"/><circle cx="228.2" cy="627.8" r="3.55"/><circle cx="204.2" cy="678.1" r="3.55"/><circle cx="214.6" cy="533.9" r="3.55"/><circle cx="192.8" cy="549.1" r="3.55"/><circle cx="259.4" cy="524.5" r="3.55"/><circle cx="69.0" cy="516.7" r="3.55"/><circle cx="175.0" cy="626.9" r="3.55"/><circle cx="331.6" cy="664.8" r="3.55"/><circle cx="154.3" cy="524.3" r="3.55"/><circle cx="300.6" cy="574.8" r="3.55"/><circle cx="61.0" cy="525.4" r="3.55"/><circle cx="134.1" cy="603.8" r="3.55"/><circle cx="142.7" cy="653.1" r="3.55"/><circle cx="141.4" cy="533.5" r="3.55"/><circle cx="327.7" cy="671.7" r="3.55"/><circle cx="246.9" cy="585.2" r="3.55"/><circle cx="262.1" cy="644.1" r="3.55"/><circle cx="75.0" cy="588.4" r="3.55"/><circle cx="335.2" cy="663.9" r="3.55"/><circle cx="116.4" cy="550.8" r="3.55"/><circle cx="267.5" cy="630.9" r="3.55"/><circle cx="168.8" cy="670.2" r="3.55"/><circle cx="92.5" cy="533.4" r="3.55"/><circle cx="140.8" cy="649.0" r="3.55"/><circle cx="130.3" cy="682.0" r="3.55"/><circle cx="178.1" cy="643.8" r="3.55"/><circle cx="261.2" cy="556.3" r="3.55"/><circle cx="233.7" cy="572.1" r="3.55"/><circle cx="163.6" cy="588.6" r="3.55"/><circle cx="108.6" cy="634.4" r="3.55"/><circle cx="59.3" cy="523.9" r="3.55"/><circle cx="209.3" cy="639.9" r="3.55"/><circle cx="186.5" cy="630.4" r="3.55"/><circle cx="234.5" cy="593.6" r="3.55"/><circle cx="279.5" cy="587.0" r="3.55"/><circle cx="151.0" cy="607.8" r="3.55"/><circle cx="224.8" cy="666.2" r="3.55"/><circle cx="172.6" cy="630.7" r="3.55"/><circle cx="122.4" cy="574.6" r="3.55"/><circle cx="332.6" cy="668.2" r="3.55"/><circle cx="180.0" cy="538.0" r="3.55"/><circle cx="110.7" cy="554.2" r="3.55"/><circle cx="208.0" cy="604.2" r="3.55"/><circle cx="297.7" cy="611.1" r="3.55"/><circle cx="197.3" cy="616.6" r="3.55"/><circle cx="239.0" cy="665.8" r="3.55"/><circle cx="286.0" cy="606.0" r="3.55"/><circle cx="103.2" cy="585.9" r="3.55"/><circle cx="64.4" cy="571.5" r="3.55"/><circle cx="297.6" cy="607.4" r="3.55"/><circle cx="97.2" cy="654.6" r="3.55"/><circle cx="180.2" cy="634.3" r="3.55"/><circle cx="101.0" cy="638.3" r="3.55"/><circle cx="225.6" cy="632.0" r="3.55"/><circle cx="309.3" cy="609.5" r="3.55"/><circle cx="315.2" cy="661.9" r="3.55"/><circle cx="243.1" cy="667.7" r="3.55"/><circle cx="297.4" cy="672.4" r="3.55"/><circle cx="332.2" cy="673.8" r="3.55"/><circle cx="119.3" cy="515.8" r="3.55"/><circle cx="259.3" cy="655.5" r="3.55"/><circle cx="298.0" cy="675.2" r="3.55"/><circle cx="243.1" cy="572.1" r="3.55"/><circle cx="266.8" cy="644.2" r="3.55"/><circle cx="249.0" cy="676.2" r="3.55"/><circle cx="136.7" cy="571.1" r="3.55"/><circle cx="115.8" cy="630.2" r="3.55"/><circle cx="268.6" cy="639.0" r="3.55"/><circle cx="282.8" cy="595.2" r="3.55"/><circle cx="52.9" cy="533.4" r="3.55"/><circle cx="90.8" cy="659.5" r="3.55"/><circle cx="142.3" cy="670.3" r="3.55"/><circle cx="206.1" cy="554.0" r="3.55"/><circle cx="189.7" cy="551.2" r="3.55"/><circle cx="308.3" cy="661.2" r="3.55"/><circle cx="100.3" cy="519.5" r="3.55"/><circle cx="118.6" cy="588.3" r="3.55"/><circle cx="171.8" cy="659.9" r="3.55"/><circle cx="324.1" cy="668.2" r="3.55"/><circle cx="255.4" cy="575.9" r="3.55"/><circle cx="116.8" cy="609.3" r="3.55"/><circle cx="177.7" cy="537.0" r="3.55"/><circle cx="144.5" cy="612.9" r="3.55"/><circle cx="61.3" cy="520.0" r="3.55"/><circle cx="110.5" cy="630.4" r="3.55"/><circle cx="254.2" cy="663.4" r="3.55"/><circle cx="265.5" cy="520.4" r="3.55"/><circle cx="144.7" cy="656.3" r="3.55"/><circle cx="237.3" cy="659.4" r="3.55"/><circle cx="235.1" cy="524.6" r="3.55"/><circle cx="124.7" cy="578.7" r="3.55"/><circle cx="155.9" cy="588.7" r="3.55"/><circle cx="258.5" cy="537.3" r="3.55"/><circle cx="225.6" cy="625.1" r="3.55"/><circle cx="218.4" cy="528.8" r="3.55"/><circle cx="86.4" cy="626.5" r="3.55"/><circle cx="218.4" cy="640.7" r="3.55"/><circle cx="179.3" cy="543.3" r="3.55"/><circle cx="179.0" cy="639.8" r="3.55"/><circle cx="164.9" cy="529.6" r="3.55"/><circle cx="95.8" cy="651.3" r="3.55"/><circle cx="58.0" cy="573.7" r="3.55"/><circle cx="309.2" cy="628.2" r="3.55"/><circle cx="169.1" cy="567.7" r="3.55"/><circle cx="134.7" cy="529.7" r="3.55"/><circle cx="69.5" cy="575.3" r="3.55"/><circle cx="287.8" cy="575.7" r="3.55"/><circle cx="331.6" cy="667.7" r="3.55"/><circle cx="221.6" cy="660.6" r="3.55"/><circle cx="136.5" cy="525.8" r="3.55"/><circle cx="158.0" cy="665.3" r="3.55"/><circle cx="230.2" cy="524.6" r="3.55"/><circle cx="175.7" cy="648.3" r="3.55"/><circle cx="184.7" cy="520.2" r="3.55"/><circle cx="178.1" cy="527.4" r="3.55"/><circle cx="33.7" cy="515.8" r="3.55"/><circle cx="201.5" cy="557.3" r="3.55"/><circle cx="168.6" cy="564.7" r="3.55"/><circle cx="227.0" cy="605.8" r="3.55"/><circle cx="274.8" cy="635.0" r="3.55"/><circle cx="159.8" cy="583.6" r="3.55"/><circle cx="100.1" cy="643.2" r="3.55"/><circle cx="200.4" cy="571.7" r="3.55"/><circle cx="123.6" cy="565.6" r="3.55"/><circle cx="208.5" cy="516.8" r="3.55"/><circle cx="125.4" cy="520.2" r="3.55"/><circle cx="261.8" cy="636.4" r="3.55"/><circle cx="305.5" cy="648.7" r="3.55"/><circle cx="135.7" cy="606.6" r="3.55"/><circle cx="272.4" cy="586.6" r="3.55"/><circle cx="185.6" cy="581.0" r="3.55"/><circle cx="310.3" cy="601.7" r="3.55"/><circle cx="149.9" cy="571.6" r="3.55"/><circle cx="197.0" cy="591.7" r="3.55"/><circle cx="123.1" cy="677.6" r="3.55"/><circle cx="283.0" cy="561.2" r="3.55"/><circle cx="223.8" cy="574.9" r="3.55"/><circle cx="182.9" cy="647.5" r="3.55"/><circle cx="250.0" cy="568.0" r="3.55"/><circle cx="287.3" cy="641.8" r="3.55"/><circle cx="320.0" cy="666.3" r="3.55"/><circle cx="56.8" cy="528.3" r="3.55"/><circle cx="78.0" cy="588.2" r="3.55"/><circle cx="76.0" cy="584.4" r="3.55"/><circle cx="263.4" cy="583.6" r="3.55"/><circle cx="157.8" cy="661.6" r="3.55"/><circle cx="252.9" cy="572.4" r="3.55"/><circle cx="212.8" cy="638.5" r="3.55"/><circle cx="250.6" cy="667.2" r="3.55"/><circle cx="309.9" cy="618.6" r="3.55"/><circle cx="250.1" cy="583.6" r="3.55"/><circle cx="81.3" cy="571.4" r="3.55"/><circle cx="107.2" cy="639.5" r="3.55"/><circle cx="289.3" cy="572.5" r="3.55"/><circle cx="140.7" cy="643.3" r="3.55"/><circle cx="312.9" cy="608.6" r="3.55"/><circle cx="203.7" cy="588.8" r="3.55"/><circle cx="256.5" cy="571.9" r="3.55"/><circle cx="103.4" cy="626.4" r="3.55"/><circle cx="98.1" cy="647.3" r="3.55"/><circle cx="234.4" cy="626.8" r="3.55"/><circle cx="314.7" cy="659.0" r="3.55"/><circle cx="285.6" cy="550.9" r="3.55"/><circle cx="155.0" cy="664.3" r="3.55"/><circle cx="260.1" cy="585.6" r="3.55"/><circle cx="116.7" cy="519.0" r="3.55"/><circle cx="50.5" cy="524.3" r="3.55"/><circle cx="216.7" cy="524.4" r="3.55"/><circle cx="128.0" cy="677.4" r="3.55"/><circle cx="279.5" cy="683.1" r="3.55"/><circle cx="57.7" cy="537.0" r="3.55"/><circle cx="130.5" cy="603.1" r="3.55"/><circle cx="101.1" cy="622.6" r="3.55"/><circle cx="250.4" cy="682.9" r="3.55"/><circle cx="127.1" cy="603.9" r="3.55"/><circle cx="203.3" cy="558.1" r="3.55"/><circle cx="178.9" cy="560.6" r="3.55"/><circle cx="206.3" cy="641.4" r="3.55"/><circle cx="117.8" cy="557.1" r="3.55"/><circle cx="247.3" cy="533.2" r="3.55"/><circle cx="95.4" cy="564.5" r="3.55"/><circle cx="44.6" cy="519.9" r="3.55"/><circle cx="106.2" cy="584.4" r="3.55"/><circle cx="225.6" cy="630.1" r="3.55"/><circle cx="265.8" cy="545.6" r="3.55"/><circle cx="161.9" cy="531.1" r="3.55"/><circle cx="100.4" cy="521.5" r="3.55"/><circle cx="264.6" cy="517.8" r="3.55"/><circle cx="300.1" cy="648.2" r="3.55"/><circle cx="200.0" cy="590.4" r="3.55"/><circle cx="39.9" cy="519.2" r="3.55"/><circle cx="262.2" cy="546.8" r="3.55"/><circle cx="180.1" cy="650.7" r="3.55"/><circle cx="81.4" cy="578.9" r="3.55"/><circle cx="310.3" cy="612.9" r="3.55"/><circle cx="281.8" cy="608.6" r="3.55"/><circle cx="67.5" cy="600.5" r="3.55"/><circle cx="272.2" cy="623.2" r="3.55"/><circle cx="97.9" cy="575.3" r="3.55"/><circle cx="215.5" cy="529.9" r="3.55"/><circle cx="183.8" cy="517.5" r="3.55"/><circle cx="169.7" cy="630.4" r="3.55"/><circle cx="113.8" cy="619.2" r="3.55"/><circle cx="267.5" cy="553.1" r="3.55"/><circle cx="224.1" cy="528.6" r="3.55"/><circle cx="166.0" cy="664.1" r="3.55"/><circle cx="142.0" cy="662.9" r="3.55"/><circle cx="310.4" cy="656.1" r="3.55"/><circle cx="212.0" cy="606.3" r="3.55"/><circle cx="143.8" cy="529.7" r="3.55"/><circle cx="161.0" cy="629.2" r="3.55"/><circle cx="208.4" cy="572.2" r="3.55"/><circle cx="149.8" cy="516.9" r="3.55"/><circle cx="281.2" cy="582.9" r="3.55"/><circle cx="143.9" cy="609.0" r="3.55"/><circle cx="302.3" cy="668.3" r="3.55"/><circle cx="97.3" cy="527.1" r="3.55"/><circle cx="206.1" cy="556.9" r="3.55"/><circle cx="241.7" cy="661.4" r="3.55"/><circle cx="132.4" cy="677.4" r="3.55"/><circle cx="141.5" cy="629.6" r="3.55"/><circle cx="135.3" cy="671.5" r="3.55"/><circle cx="181.2" cy="521.8" r="3.55"/><circle cx="220.9" cy="524.5" r="3.55"/><circle cx="175.6" cy="571.5" r="3.55"/><circle cx="234.2" cy="661.5" r="3.55"/><circle cx="190.0" cy="516.5" r="3.55"/><circle cx="183.3" cy="524.0" r="3.55"/><circle cx="290.6" cy="553.4" r="3.55"/><circle cx="220.0" cy="664.8" r="3.55"/><circle cx="70.1" cy="607.5" r="3.55"/><circle cx="119.9" cy="607.8" r="3.55"/><circle cx="259.8" cy="560.9" r="3.55"/><circle cx="84.5" cy="583.1" r="3.55"/><circle cx="164.0" cy="580.8" r="3.55"/><circle cx="77.2" cy="578.9" r="3.55"/><circle cx="171.6" cy="579.4" r="3.55"/><circle cx="59.2" cy="516.4" r="3.55"/><circle cx="122.5" cy="569.7" r="3.55"/><circle cx="202.6" cy="611.1" r="3.55"/><circle cx="282.3" cy="557.6" r="3.55"/><circle cx="193.8" cy="634.6" r="3.55"/><circle cx="128.3" cy="542.2" r="3.55"/><circle cx="275.4" cy="555.8" r="3.55"/><circle cx="256.8" cy="648.7" r="3.55"/><circle cx="85.1" cy="584.4" r="3.55"/><circle cx="108.5" cy="681.5" r="3.55"/><circle cx="121.3" cy="560.6" r="3.55"/><circle cx="245.9" cy="667.6" r="3.55"/><circle cx="139.5" cy="609.5" r="3.55"/><circle cx="205.1" cy="584.5" r="3.55"/><circle cx="92.1" cy="662.5" r="3.55"/><circle cx="283.2" cy="593.5" r="3.55"/><circle cx="93.9" cy="536.3" r="3.55"/><circle cx="276.6" cy="623.3" r="3.55"/><circle cx="287.3" cy="574.2" r="3.55"/><circle cx="279.4" cy="620.3" r="3.55"/><circle cx="129.5" cy="520.3" r="3.55"/><circle cx="47.5" cy="541.9" r="3.55"/><circle cx="154.6" cy="575.9" r="3.55"/><circle cx="168.4" cy="528.2" r="3.55"/><circle cx="195.6" cy="588.8" r="3.55"/><circle cx="116.9" cy="626.2" r="3.55"/><circle cx="120.7" cy="566.9" r="3.55"/><circle cx="117.7" cy="586.3" r="3.55"/><circle cx="121.3" cy="554.9" r="3.55"/><circle cx="166.0" cy="584.8" r="3.55"/><circle cx="82.7" cy="588.3" r="3.55"/><circle cx="299.2" cy="668.7" r="3.55"/><circle cx="219.5" cy="671.7" r="3.55"/><circle cx="177.2" cy="550.3" r="3.55"/><circle cx="136.8" cy="533.5" r="3.55"/><circle cx="290.3" cy="640.3" r="3.55"/><circle cx="71.7" cy="603.8" r="3.55"/><circle cx="85.7" cy="532.6" r="3.55"/><circle cx="213.3" cy="541.9" r="3.55"/><circle cx="259.5" cy="553.4" r="3.55"/><circle cx="137.1" cy="667.7" r="3.55"/><circle cx="258.0" cy="550.6" r="3.55"/><circle cx="51.6" cy="520.5" r="3.55"/><circle cx="96.5" cy="533.2" r="3.55"/><circle cx="127.7" cy="516.5" r="3.55"/><circle cx="120.6" cy="598.1" r="3.55"/><circle cx="142.0" cy="634.1" r="3.55"/><circle cx="256.7" cy="681.9" r="3.55"/><circle cx="315.4" cy="627.2" r="3.55"/><circle cx="206.7" cy="563.1" r="3.55"/><circle cx="306.8" cy="657.2" r="3.55"/><circle cx="194.1" cy="616.8" r="3.55"/><circle cx="254.6" cy="558.3" r="3.55"/><circle cx="108.1" cy="519.9" r="3.55"/><circle cx="151.6" cy="575.4" r="3.55"/><circle cx="231.0" cy="663.0" r="3.55"/><circle cx="96.6" cy="538.9" r="3.55"/><circle cx="290.2" cy="678.4" r="3.55"/><circle cx="97.0" cy="535.0" r="3.55"/><circle cx="205.1" cy="605.6" r="3.55"/><circle cx="258.7" cy="535.6" r="3.55"/><circle cx="119.4" cy="574.5" r="3.55"/><circle cx="260.1" cy="530.8" r="3.55"/><circle cx="125.2" cy="556.6" r="3.55"/><circle cx="198.5" cy="619.9" r="3.55"/><circle cx="220.8" cy="516.9" r="3.55"/><circle cx="136.8" cy="643.5" r="3.55"/><circle cx="152.6" cy="604.2" r="3.55"/><circle cx="235.6" cy="597.1" r="3.55"/><circle cx="133.6" cy="645.0" r="3.55"/><circle cx="246.0" cy="630.0" r="3.55"/><circle cx="237.0" cy="600.4" r="3.55"/><circle cx="200.8" cy="579.4" r="3.55"/><circle cx="47.5" cy="520.3" r="3.55"/><circle cx="260.1" cy="543.6" r="3.55"/><circle cx="91.1" cy="571.7" r="3.55"/><circle cx="311.3" cy="659.8" r="3.55"/><circle cx="199.4" cy="605.4" r="3.55"/><circle cx="328.8" cy="668.9" r="3.55"/><circle cx="207.2" cy="600.5" r="3.55"/><circle cx="201.5" cy="598.4" r="3.55"/><circle cx="73.7" cy="596.3" r="3.55"/><circle cx="162.0" cy="667.2" r="3.55"/><circle cx="125.2" cy="553.7" r="3.55"/><circle cx="236.8" cy="589.1" r="3.55"/><circle cx="285.3" cy="678.6" r="3.55"/><circle cx="278.1" cy="551.5" r="3.55"/><circle cx="288.8" cy="636.6" r="3.55"/><circle cx="212.7" cy="517.5" r="3.55"/><circle cx="78.9" cy="583.3" r="3.55"/><circle cx="178.3" cy="655.1" r="3.55"/><circle cx="208.8" cy="607.9" r="3.55"/><circle cx="262.6" cy="544.2" r="3.55"/><circle cx="75.2" cy="599.6" r="3.55"/><circle cx="211.2" cy="575.4" r="3.55"/><circle cx="126.3" cy="545.9" r="3.55"/><circle cx="255.6" cy="536.9" r="3.55"/><circle cx="220.7" cy="675.1" r="3.55"/><circle cx="72.6" cy="579.4" r="3.55"/><circle cx="323.7" cy="665.6" r="3.55"/><circle cx="197.5" cy="519.3" r="3.55"/><circle cx="292.4" cy="683.0" r="3.55"/><circle cx="270.1" cy="627.8" r="3.55"/><circle cx="230.2" cy="659.4" r="3.55"/><circle cx="66.2" cy="527.8" r="3.55"/><circle cx="45.5" cy="545.5" r="3.55"/><circle cx="194.2" cy="627.1" r="3.55"/><circle cx="150.0" cy="662.5" r="3.55"/><circle cx="189.2" cy="548.3" r="3.55"/><circle cx="206.2" cy="520.5" r="3.55"/><circle cx="144.6" cy="631.6" r="3.55"/><circle cx="92.9" cy="557.7" r="3.55"/><circle cx="189.2" cy="627.4" r="3.55"/><circle cx="108.2" cy="627.0" r="3.55"/><circle cx="234.2" cy="516.7" r="3.55"/><circle cx="89.0" cy="568.0" r="3.55"/><circle cx="226.4" cy="662.5" r="3.55"/><circle cx="127.5" cy="571.8" r="3.55"/><circle cx="281.3" cy="572.0" r="3.55"/><circle cx="227.8" cy="634.2" r="3.55"/><circle cx="161.5" cy="584.3" r="3.55"/><circle cx="201.3" cy="640.3" r="3.55"/><circle cx="35.9" cy="518.7" r="3.55"/><circle cx="189.6" cy="682.0" r="3.55"/><circle cx="152.4" cy="520.4" r="3.55"/><circle cx="227.9" cy="520.9" r="3.55"/><circle cx="259.0" cy="547.0" r="3.55"/><circle cx="223.1" cy="663.3" r="3.55"/><circle cx="233.6" cy="604.5" r="3.55"/><circle cx="282.4" cy="586.0" r="3.55"/><circle cx="97.1" cy="643.4" r="3.55"/><circle cx="138.2" cy="646.4" r="3.55"/><circle cx="245.2" cy="575.7" r="3.55"/><circle cx="300.9" cy="653.6" r="3.55"/><circle cx="297.5" cy="682.8" r="3.55"/><circle cx="178.6" cy="553.1" r="3.55"/><circle cx="103.4" cy="518.5" r="3.55"/><circle cx="323.0" cy="630.0" r="3.55"/><circle cx="158.9" cy="588.6" r="3.55"/><circle cx="179.3" cy="530.5" r="3.55"/><circle cx="126.3" cy="557.1" r="3.55"/><circle cx="249.2" cy="660.9" r="3.55"/><circle cx="71.9" cy="571.4" r="3.55"/><circle cx="182.9" cy="529.4" r="3.55"/><circle cx="166.8" cy="679.8" r="3.55"/><circle cx="172.0" cy="572.0" r="3.55"/><circle cx="139.9" cy="612.2" r="3.55"/><circle cx="282.7" cy="682.3" r="3.55"/><circle cx="169.5" cy="663.8" r="3.55"/><circle cx="224.6" cy="530.0" r="3.55"/><circle cx="159.8" cy="567.9" r="3.55"/><circle cx="198.7" cy="634.5" r="3.55"/><circle cx="53.1" cy="544.6" r="3.55"/><circle cx="51.6" cy="541.3" r="3.55"/><circle cx="55.8" cy="570.8" r="3.55"/><circle cx="217.8" cy="678.0" r="3.55"/><circle cx="49.9" cy="516.4" r="3.55"/><circle cx="122.4" cy="557.8" r="3.55"/><circle cx="213.0" cy="674.9" r="3.55"/><circle cx="172.7" cy="652.4" r="3.55"/><circle cx="303.5" cy="638.1" r="3.55"/><circle cx="201.7" cy="681.8" r="3.55"/><circle cx="252.9" cy="682.5" r="3.55"/><circle cx="216.6" cy="540.8" r="3.55"/><circle cx="177.8" cy="535.3" r="3.55"/><circle cx="60.6" cy="533.3" r="3.55"/><circle cx="55.7" cy="525.5" r="3.55"/><circle cx="247.7" cy="668.4" r="3.55"/><circle cx="191.4" cy="638.3" r="3.55"/><circle cx="106.6" cy="638.1" r="3.55"/><circle cx="143.1" cy="649.5" r="3.55"/><circle cx="201.1" cy="615.7" r="3.55"/><circle cx="263.0" cy="639.2" r="3.55"/><circle cx="256.3" cy="543.2" r="3.55"/><circle cx="178.6" cy="524.2" r="3.55"/><circle cx="143.4" cy="615.6" r="3.55"/><circle cx="181.7" cy="543.9" r="3.55"/><circle cx="201.5" cy="567.2" r="3.55"/><circle cx="144.9" cy="643.5" r="3.55"/><circle cx="210.8" cy="545.6" r="3.55"/><circle cx="145.4" cy="662.0" r="3.55"/><circle cx="162.3" cy="579.3" r="3.55"/><circle cx="304.8" cy="619.1" r="3.55"/><circle cx="90.7" cy="579.1" r="3.55"/><circle cx="96.8" cy="536.7" r="3.55"/><circle cx="190.8" cy="619.8" r="3.55"/><circle cx="248.4" cy="627.3" r="3.55"/><circle cx="158.1" cy="579.2" r="3.55"/><circle cx="300.2" cy="647.3" r="3.55"/><circle cx="170.2" cy="535.2" r="3.55"/><circle cx="255.5" cy="537.8" r="3.55"/><circle cx="270.8" cy="516.7" r="3.55"/><circle cx="141.5" cy="570.9" r="3.55"/><circle cx="244.2" cy="526.2" r="3.55"/><circle cx="191.5" cy="586.2" r="3.55"/><circle cx="169.8" cy="683.7" r="3.55"/><circle cx="275.7" cy="620.1" r="3.55"/><circle cx="222.9" cy="520.5" r="3.55"/><circle cx="203.7" cy="634.6" r="3.55"/><circle cx="305.1" cy="650.4" r="3.55"/><circle cx="88.3" cy="582.9" r="3.55"/><circle cx="138.1" cy="647.3" r="3.55"/><circle cx="311.5" cy="605.6" r="3.55"/><circle cx="120.6" cy="681.3" r="3.55"/><circle cx="252.5" cy="579.8" r="3.55"/><circle cx="307.5" cy="663.0" r="3.55"/><circle cx="256.4" cy="554.9" r="3.55"/><circle cx="170.1" cy="672.9" r="3.55"/><circle cx="233.4" cy="630.5" r="3.55"/><circle cx="199.5" cy="588.6" r="3.55"/><circle cx="336.9" cy="660.2" r="3.55"/><circle cx="269.2" cy="640.3" r="3.55"/><circle cx="265.4" cy="627.2" r="3.55"/><circle cx="138.9" cy="652.7" r="3.55"/><circle cx="129.9" cy="642.7" r="3.55"/><circle cx="178.8" cy="575.7" r="3.55"/><circle cx="225.6" cy="517.5" r="3.55"/><circle cx="96.0" cy="557.3" r="3.55"/><circle cx="251.6" cy="667.7" r="3.55"/><circle cx="176.8" cy="630.9" r="3.55"/><circle cx="203.9" cy="599.0" r="3.55"/><circle cx="304.7" cy="654.0" r="3.55"/><circle cx="139.0" cy="681.3" r="3.55"/><circle cx="103.0" cy="517.2" r="3.55"/><circle cx="120.6" cy="585.3" r="3.55"/><circle cx="174.7" cy="537.5" r="3.55"/><circle cx="99.3" cy="633.9" r="3.55"/><circle cx="309.9" cy="623.6" r="3.55"/><circle cx="192.4" cy="590.4" r="3.55"/><circle cx="170.6" cy="656.0" r="3.55"/><circle cx="95.6" cy="579.0" r="3.55"/><circle cx="79.8" cy="592.0" r="3.55"/><circle cx="123.9" cy="550.3" r="3.55"/><circle cx="147.1" cy="520.7" r="3.55"/><circle cx="148.4" cy="612.1" r="3.55"/><circle cx="209.2" cy="542.5" r="3.55"/><circle cx="120.6" cy="557.0" r="3.55"/><circle cx="130.5" cy="549.1" r="3.55"/><circle cx="197.8" cy="626.6" r="3.55"/><circle cx="211.3" cy="549.4" r="3.55"/><circle cx="220.4" cy="609.9" r="3.55"/><circle cx="192.0" cy="623.5" r="3.55"/><circle cx="257.2" cy="531.8" r="3.55"/><circle cx="255.3" cy="655.9" r="3.55"/><circle cx="249.5" cy="565.0" r="3.55"/><circle cx="93.7" cy="575.2" r="3.55"/><circle cx="262.0" cy="527.7" r="3.55"/><circle cx="209.7" cy="553.1" r="3.55"/><circle cx="214.8" cy="545.2" r="3.55"/><circle cx="229.4" cy="601.3" r="3.55"/><circle cx="226.7" cy="621.1" r="3.55"/><circle cx="131.8" cy="638.0" r="3.55"/><circle cx="97.8" cy="552.8" r="3.55"/><circle cx="258.9" cy="527.7" r="3.55"/><circle cx="150.4" cy="575.7" r="3.55"/><circle cx="89.3" cy="535.0" r="3.55"/><circle cx="108.9" cy="550.9" r="3.55"/><circle cx="154.1" cy="572.4" r="3.55"/><circle cx="147.4" cy="608.8" r="3.55"/><circle cx="148.4" cy="655.1" r="3.55"/><circle cx="126.8" cy="635.7" r="3.55"/><circle cx="146.1" cy="605.4" r="3.55"/><circle cx="222.6" cy="657.0" r="3.55"/><circle cx="201.9" cy="594.8" r="3.55"/><circle cx="280.0" cy="613.1" r="3.55"/><circle cx="206.6" cy="568.0" r="3.55"/><circle cx="251.1" cy="678.3" r="3.55"/><circle cx="158.8" cy="626.2" r="3.55"/><circle cx="88.4" cy="575.4" r="3.55"/><circle cx="243.2" cy="579.7" r="3.55"/><circle cx="256.7" cy="635.2" r="3.55"/><circle cx="197.7" cy="598.0" r="3.55"/><circle cx="175.5" cy="554.6" r="3.55"/><circle cx="219.9" cy="653.1" r="3.55"/><circle cx="215.0" cy="604.2" r="3.55"/><circle cx="330.0" cy="676.7" r="3.55"/><circle cx="235.5" cy="576.2" r="3.55"/><circle cx="257.1" cy="565.2" r="3.55"/><circle cx="97.8" cy="523.9" r="3.55"/><circle cx="153.5" cy="626.3" r="3.55"/><circle cx="160.3" cy="528.1" r="3.55"/><circle cx="57.3" cy="519.8" r="3.55"/><circle cx="118.1" cy="612.3" r="3.55"/><circle cx="134.8" cy="537.6" r="3.55"/><circle cx="139.3" cy="529.2" r="3.55"/><circle cx="101.2" cy="551.9" r="3.55"/><circle cx="114.6" cy="622.5" r="3.55"/><circle cx="121.7" cy="553.9" r="3.55"/><circle cx="135.9" cy="674.3" r="3.55"/><circle cx="332.2" cy="678.8" r="3.55"/><circle cx="223.8" cy="618.7" r="3.55"/><circle cx="99.8" cy="635.6" r="3.55"/><circle cx="152.4" cy="630.1" r="3.55"/><circle cx="233.2" cy="520.7" r="3.55"/><circle cx="130.3" cy="575.0" r="3.55"/><circle cx="263.0" cy="623.4" r="3.55"/><circle cx="257.7" cy="557.9" r="3.55"/><circle cx="231.3" cy="576.0" r="3.55"/><circle cx="135.8" cy="610.3" r="3.55"/><circle cx="122.6" cy="601.2" r="3.55"/><circle cx="327.7" cy="666.0" r="3.55"/><circle cx="148.0" cy="617.8" r="3.55"/><circle cx="131.3" cy="571.3" r="3.55"/><circle cx="258.8" cy="520.0" r="3.55"/><circle cx="104.8" cy="643.3" r="3.55"/><circle cx="171.8" cy="682.0" r="3.55"/><circle cx="125.8" cy="567.7" r="3.55"/><circle cx="165.1" cy="629.6" r="3.55"/><circle cx="144.7" cy="624.7" r="3.55"/><circle cx="142.9" cy="574.5" r="3.55"/><circle cx="221.8" cy="649.5" r="3.55"/><circle cx="167.4" cy="579.7" r="3.55"/><circle cx="73.7" cy="575.5" r="3.55"/><circle cx="83.1" cy="580.4" r="3.55"/><circle cx="328.1" cy="665.0" r="3.55"/><circle cx="242.7" cy="665.1" r="3.55"/><circle cx="224.4" cy="616.0" r="3.55"/><circle cx="219.4" cy="537.6" r="3.55"/><circle cx="167.0" cy="572.3" r="3.55"/><circle cx="298.4" cy="571.8" r="3.55"/><circle cx="223.7" cy="640.8" r="3.55"/><circle cx="258.2" cy="539.5" r="3.55"/><circle cx="49.6" cy="548.8" r="3.55"/><circle cx="182.4" cy="630.3" r="3.55"/><circle cx="164.7" cy="567.7" r="3.55"/><circle cx="272.5" cy="631.3" r="3.55"/><circle cx="275.3" cy="552.1" r="3.55"/><circle cx="46.6" cy="549.5" r="3.55"/><circle cx="87.7" cy="564.3" r="3.55"/><circle cx="183.7" cy="639.4" r="3.55"/><circle cx="114.5" cy="516.1" r="3.55"/><circle cx="296.0" cy="574.9" r="3.55"/><circle cx="146.8" cy="633.8" r="3.55"/><circle cx="216.6" cy="607.0" r="3.55"/><circle cx="253.0" cy="627.2" r="3.55"/><circle cx="242.0" cy="629.6" r="3.55"/><circle cx="128.8" cy="552.8" r="3.55"/><circle cx="83.4" cy="575.0" r="3.55"/><circle cx="264.1" cy="524.2" r="3.55"/><circle cx="235.0" cy="572.7" r="3.55"/><circle cx="305.4" cy="610.8" r="3.55"/><circle cx="169.4" cy="682.4" r="3.55"/><circle cx="260.5" cy="540.0" r="3.55"/><circle cx="143.4" cy="647.8" r="3.55"/><circle cx="294.7" cy="641.8" r="3.55"/><circle cx="263.7" cy="529.7" r="3.55"/><circle cx="219.2" cy="646.9" r="3.55"/><circle cx="79.5" cy="527.8" r="3.55"/><circle cx="287.5" cy="568.4" r="3.55"/><circle cx="308.8" cy="634.7" r="3.55"/><circle cx="66.6" cy="575.0" r="3.55"/><circle cx="231.9" cy="608.2" r="3.55"/><circle cx="331.5" cy="683.4" r="3.55"/><circle cx="147.0" cy="528.1" r="3.55"/><circle cx="231.4" cy="597.7" r="3.55"/><circle cx="212.2" cy="524.9" r="3.55"/><circle cx="122.7" cy="634.1" r="3.55"/><circle cx="113.5" cy="551.5" r="3.55"/><circle cx="125.1" cy="572.3" r="3.55"/><circle cx="319.9" cy="662.6" r="3.55"/><circle cx="123.7" cy="637.9" r="3.55"/><circle cx="69.0" cy="571.3" r="3.55"/><circle cx="161.6" cy="664.6" r="3.55"/><circle cx="298.8" cy="644.4" r="3.55"/><circle cx="188.2" cy="639.9" r="3.55"/><circle cx="157.0" cy="592.7" r="3.55"/><circle cx="215.9" cy="516.8" r="3.55"/><circle cx="159.3" cy="524.3" r="3.55"/><circle cx="283.5" cy="554.6" r="3.55"/><circle cx="206.4" cy="573.9" r="3.55"/><circle cx="77.9" cy="625.8" r="3.55"/><circle cx="200.3" cy="574.8" r="3.55"/><circle cx="230.6" cy="517.2" r="3.55"/><circle cx="153.4" cy="516.4" r="3.55"/><circle cx="306.6" cy="625.6" r="3.55"/><circle cx="250.9" cy="684.2" r="3.55"/><circle cx="53.9" cy="529.4" r="3.55"/><circle cx="119.5" cy="571.3" r="3.55"/><circle cx="275.3" cy="682.3" r="3.55"/><circle cx="79.0" cy="567.6" r="3.55"/><circle cx="119.1" cy="590.0" r="3.55"/><circle cx="282.3" cy="640.8" r="3.55"/><circle cx="239.0" cy="579.6" r="3.55"/><circle cx="182.8" cy="550.4" r="3.55"/><circle cx="201.5" cy="519.7" r="3.55"/><circle cx="273.7" cy="519.7" r="3.55"/><circle cx="263.9" cy="647.9" r="3.55"/><circle cx="303.3" cy="646.0" r="3.55"/><circle cx="164.9" cy="667.1" r="3.55"/><circle cx="102.1" cy="529.1" r="3.55"/><circle cx="120.1" cy="615.3" r="3.55"/><circle cx="234.4" cy="580.1" r="3.55"/><circle cx="141.3" cy="645.1" r="3.55"/><circle cx="119.9" cy="579.0" r="3.55"/><circle cx="272.4" cy="638.8" r="3.55"/><circle cx="261.2" cy="634.7" r="3.55"/><circle cx="135.7" cy="540.5" r="3.55"/><circle cx="250.1" cy="531.4" r="3.55"/><circle cx="178.2" cy="516.6" r="3.55"/><circle cx="114.7" cy="588.5" r="3.55"/><circle cx="301.7" cy="675.5" r="3.55"/><circle cx="306.9" cy="644.4" r="3.55"/><circle cx="187.6" cy="638.6" r="3.55"/><circle cx="282.0" cy="616.1" r="3.55"/><circle cx="246.7" cy="665.5" r="3.55"/><circle cx="149.2" cy="658.9" r="3.55"/><circle cx="229.4" cy="655.6" r="3.55"/><circle cx="196.0" cy="613.1" r="3.55"/><circle cx="138.5" cy="671.2" r="3.55"/><circle cx="318.3" cy="659.8" r="3.55"/><circle cx="148.1" cy="630.0" r="3.55"/><circle cx="255.8" cy="659.7" r="3.55"/><circle cx="286.9" cy="557.2" r="3.55"/><circle cx="198.4" cy="682.6" r="3.55"/><circle cx="169.9" cy="568.4" r="3.55"/><circle cx="117.4" cy="554.5" r="3.55"/><circle cx="91.1" cy="561.4" r="3.55"/><circle cx="158.7" cy="580.9" r="3.55"/><circle cx="314.5" cy="604.9" r="3.55"/><circle cx="262.0" cy="522.0" r="3.55"/><circle cx="100.5" cy="546.2" r="3.55"/><circle cx="112.0" cy="548.8" r="3.55"/><circle cx="269.7" cy="520.5" r="3.55"/><circle cx="72.6" cy="516.1" r="3.55"/><circle cx="218.2" cy="668.2" r="3.55"/><circle cx="163.6" cy="626.0" r="3.55"/><circle cx="167.4" cy="626.9" r="3.55"/><circle cx="137.6" cy="528.5" r="3.55"/><circle cx="141.5" cy="637.2" r="3.55"/><circle cx="263.7" cy="550.8" r="3.55"/><circle cx="247.9" cy="572.7" r="3.55"/><circle cx="204.8" cy="550.6" r="3.55"/><circle cx="123.1" cy="516.7" r="3.55"/><circle cx="185.8" cy="549.1" r="3.55"/><circle cx="226.2" cy="654.1" r="3.55"/><circle cx="264.6" cy="639.8" r="3.55"/><circle cx="224.8" cy="609.4" r="3.55"/><circle cx="182.5" cy="583.2" r="3.55"/><circle cx="196.9" cy="592.6" r="3.55"/><circle cx="109.7" cy="583.0" r="3.55"/><circle cx="120.1" cy="630.4" r="3.55"/><circle cx="177.3" cy="533.5" r="3.55"/><circle cx="185.8" cy="681.0" r="3.55"/><circle cx="284.3" cy="577.3" r="3.55"/><circle cx="42.3" cy="516.5" r="3.55"/><circle cx="88.4" cy="530.8" r="3.55"/><circle cx="169.2" cy="583.2" r="3.55"/><circle cx="259.7" cy="576.0" r="3.55"/><circle cx="248.3" cy="580.1" r="3.55"/><circle cx="211.4" cy="603.4" r="3.55"/><circle cx="220.8" cy="612.6" r="3.55"/><circle cx="281.7" cy="579.7" r="3.55"/><circle cx="58.5" cy="528.9" r="3.55"/><circle cx="238.2" cy="571.9" r="3.55"/><circle cx="197.2" cy="681.9" r="3.55"/><circle cx="204.2" cy="607.4" r="3.55"/><circle cx="284.5" cy="602.0" r="3.55"/><circle cx="277.9" cy="592.1" r="3.55"/><circle cx="292.3" cy="603.8" r="3.55"/><circle cx="239.8" cy="588.9" r="3.55"/><circle cx="301.1" cy="682.3" r="3.55"/><circle cx="301.8" cy="642.2" r="3.55"/><circle cx="206.0" cy="572.7" r="3.55"/><circle cx="250.2" cy="576.1" r="3.55"/><circle cx="179.5" cy="626.7" r="3.55"/><circle cx="184.2" cy="518.7" r="3.55"/><circle cx="265.0" cy="519.0" r="3.55"/><circle cx="138.5" cy="605.9" r="3.55"/><circle cx="124.6" cy="560.1" r="3.55"/><circle cx="294.7" cy="610.1" r="3.55"/><circle cx="78.4" cy="524.0" r="3.55"/><circle cx="207.1" cy="546.2" r="3.55"/><circle cx="128.3" cy="639.5" r="3.55"/><circle cx="153.5" cy="579.7" r="3.55"/><circle cx="265.1" cy="586.6" r="3.55"/><circle cx="260.5" cy="627.1" r="3.55"/><circle cx="182.0" cy="552.2" r="3.55"/><circle cx="115.0" cy="612.7" r="3.55"/><circle cx="138.5" cy="537.3" r="3.55"/><circle cx="224.1" cy="649.9" r="3.55"/><circle cx="176.8" cy="651.8" r="3.55"/><circle cx="91.6" cy="630.3" r="3.55"/><circle cx="184.4" cy="626.8" r="3.55"/><circle cx="230.7" cy="572.0" r="3.55"/><circle cx="229.1" cy="630.4" r="3.55"/><circle cx="260.9" cy="538.3" r="3.55"/><circle cx="279.1" cy="555.1" r="3.55"/><circle cx="222.3" cy="645.5" r="3.55"/><circle cx="298.8" cy="678.5" r="3.55"/><circle cx="220.0" cy="681.8" r="3.55"/><circle cx="228.4" cy="575.7" r="3.55"/><circle cx="216.9" cy="674.8" r="3.55"/><circle cx="101.6" cy="582.9" r="3.55"/><circle cx="101.9" cy="647.0" r="3.55"/><circle cx="194.2" cy="681.8" r="3.55"/><circle cx="245.6" cy="568.0" r="3.55"/><circle cx="200.3" cy="582.5" r="3.55"/><circle cx="117.4" cy="682.1" r="3.55"/><circle cx="216.8" cy="610.7" r="3.55"/><circle cx="200.1" cy="516.1" r="3.55"/><circle cx="302.7" cy="644.2" r="3.55"/><circle cx="125.5" cy="681.4" r="3.55"/><circle cx="121.3" cy="592.7" r="3.55"/><circle cx="178.1" cy="546.7" r="3.55"/><circle cx="259.1" cy="644.3" r="3.55"/><circle cx="132.5" cy="541.6" r="3.55"/><circle cx="98.0" cy="560.2" r="3.55"/><circle cx="325.9" cy="682.5" r="3.55"/><circle cx="309.3" cy="612.4" r="3.55"/><circle cx="199.6" cy="594.3" r="3.55"/><circle cx="287.6" cy="682.4" r="3.55"/><circle cx="98.0" cy="639.4" r="3.55"/><circle cx="95.5" cy="531.2" r="3.55"/><circle cx="289.2" cy="550.4" r="3.55"/><circle cx="244.8" cy="682.0" r="3.55"/><circle cx="147.5" cy="575.3" r="3.55"/><circle cx="99.5" cy="555.6" r="3.55"/><circle cx="238.8" cy="596.0" r="3.55"/><circle cx="212.2" cy="571.6" r="3.55"/><circle cx="98.9" cy="539.4" r="3.55"/><circle cx="174.8" cy="659.2" r="3.55"/><circle cx="157.3" cy="571.6" r="3.55"/><circle cx="282.4" cy="598.8" r="3.55"/><circle cx="175.7" cy="634.8" r="3.55"/><circle cx="236.0" cy="664.8" r="3.55"/><circle cx="174.0" cy="530.5" r="3.55"/><circle cx="257.8" cy="631.4" r="3.55"/><circle cx="181.1" cy="519.8" r="3.55"/><circle cx="150.5" cy="597.3" r="3.55"/><circle cx="122.5" cy="576.6" r="3.55"/><circle cx="165.6" cy="670.7" r="3.55"/><circle cx="276.9" cy="613.5" r="3.55"/><circle cx="207.1" cy="557.4" r="3.55"/><circle cx="307.9" cy="606.2" r="3.55"/><circle cx="322.7" cy="661.9" r="3.55"/><circle cx="226.1" cy="524.9" r="3.55"/><circle cx="222.5" cy="637.7" r="3.55"/><circle cx="246.1" cy="673.9" r="3.55"/><circle cx="176.3" cy="564.8" r="3.55"/><circle cx="286.0" cy="584.9" r="3.55"/><circle cx="252.8" cy="660.4" r="3.55"/><circle cx="96.3" cy="550.0" r="3.55"/><circle cx="250.5" cy="664.3" r="3.55"/><circle cx="98.4" cy="530.2" r="3.55"/><circle cx="308.3" cy="640.1" r="3.55"/><circle cx="146.2" cy="660.2" r="3.55"/><circle cx="233.1" cy="600.8" r="3.55"/><circle cx="261.1" cy="651.1" r="3.55"/><circle cx="246.4" cy="583.8" r="3.55"/><circle cx="262.9" cy="552.5" r="3.55"/><circle cx="38.5" cy="515.5" r="3.55"/><circle cx="184.1" cy="586.3" r="3.55"/><circle cx="271.5" cy="583.7" r="3.55"/><circle cx="77.8" cy="580.5" r="3.55"/><circle cx="227.9" cy="528.4" r="3.55"/><circle cx="285.4" cy="566.2" r="3.55"/><circle cx="141.6" cy="626.4" r="3.55"/><circle cx="125.3" cy="640.9" r="3.55"/><circle cx="116.8" cy="597.6" r="3.55"/><circle cx="343.1" cy="682.3" r="3.55"/><circle cx="286.9" cy="573.0" r="3.55"/><circle cx="100.7" cy="533.4" r="3.55"/><circle cx="117.5" cy="619.5" r="3.55"/><circle cx="135.2" cy="516.5" r="3.55"/><circle cx="156.4" cy="629.3" r="3.55"/><circle cx="113.7" cy="555.2" r="3.55"/><circle cx="238.9" cy="662.1" r="3.55"/><circle cx="307.7" cy="621.5" r="3.55"/><circle cx="146.7" cy="615.2" r="3.55"/><circle cx="203.4" cy="576.9" r="3.55"/><circle cx="88.2" cy="567.4" r="3.55"/><circle cx="198.6" cy="557.4" r="3.55"/><circle cx="273.7" cy="549.4" r="3.55"/><circle cx="173.4" cy="567.8" r="3.55"/><circle cx="295.6" cy="645.9" r="3.55"/><circle cx="310.1" cy="630.9" r="3.55"/><circle cx="261.9" cy="520.0" r="3.55"/><circle cx="277.8" cy="593.0" r="3.55"/><circle cx="267.9" cy="623.2" r="3.55"/><circle cx="130.7" cy="516.7" r="3.55"/><circle cx="291.9" cy="643.6" r="3.55"/><circle cx="153.6" cy="593.2" r="3.55"/><circle cx="221.7" cy="643.7" r="3.55"/><circle cx="331.9" cy="684.7" r="3.55"/><circle cx="132.7" cy="640.9" r="3.55"/><circle cx="100.6" cy="579.1" r="3.55"/><circle cx="251.6" cy="656.5" r="3.55"/><circle cx="71.5" cy="520.2" r="3.55"/><circle cx="109.8" cy="619.4" r="3.55"/><circle cx="303.1" cy="647.7" r="3.55"/><circle cx="210.9" cy="643.1" r="3.55"/><circle cx="223.0" cy="634.5" r="3.55"/><circle cx="227.7" cy="615.6" r="3.55"/><circle cx="120.7" cy="563.2" r="3.55"/><circle cx="203.9" cy="517.0" r="3.55"/><circle cx="330.9" cy="671.2" r="3.55"/><circle cx="51.1" cy="517.0" r="3.55"/><circle cx="147.6" cy="628.6" r="3.55"/><circle cx="258.1" cy="533.8" r="3.55"/><circle cx="254.8" cy="530.8" r="3.55"/><circle cx="133.2" cy="678.1" r="3.55"/><circle cx="165.6" cy="665.0" r="3.55"/><circle cx="75.8" cy="520.3" r="3.55"/><circle cx="48.0" cy="552.5" r="3.55"/><circle cx="63.0" cy="529.4" r="3.55"/><circle cx="286.3" cy="560.8" r="3.55"/><circle cx="182.0" cy="638.7" r="3.55"/><circle cx="288.1" cy="600.8" r="3.55"/><circle cx="260.0" cy="640.3" r="3.55"/><circle cx="100.3" cy="527.1" r="3.55"/><circle cx="184.5" cy="634.4" r="3.55"/><circle cx="173.2" cy="662.9" r="3.55"/><circle cx="97.2" cy="519.4" r="3.55"/><circle cx="136.7" cy="677.5" r="3.55"/><circle cx="278.3" cy="617.0" r="3.55"/><circle cx="195.3" cy="516.3" r="3.55"/><circle cx="308.6" cy="616.0" r="3.55"/><circle cx="113.2" cy="616.4" r="3.55"/><circle cx="117.7" cy="634.1" r="3.55"/><circle cx="202.2" cy="555.2" r="3.55"/><circle cx="130.0" cy="545.3" r="3.55"/><circle cx="222.4" cy="571.2" r="3.55"/><circle cx="178.0" cy="519.7" r="3.55"/><circle cx="186.1" cy="635.9" r="3.55"/><circle cx="240.7" cy="584.0" r="3.55"/><circle cx="149.7" cy="626.9" r="3.55"/><circle cx="137.4" cy="640.3" r="3.55"/><circle cx="277.7" cy="631.1" r="3.55"/><circle cx="144.8" cy="517.2" r="3.55"/><circle cx="282.0" cy="631.2" r="3.55"/><circle cx="202.6" cy="554.2" r="3.55"/><circle cx="148.5" cy="600.9" r="3.55"/><circle cx="327.0" cy="668.0" r="3.55"/><circle cx="280.3" cy="605.8" r="3.55"/><circle cx="196.7" cy="630.7" r="3.55"/><circle cx="132.8" cy="609.3" r="3.55"/><circle cx="304.0" cy="634.9" r="3.55"/>
</g>
<g class="b">
<circle cx="203.4" cy="559.0" r="2.7"/><circle cx="206.3" cy="603.4" r="2.7"/><circle cx="99.5" cy="545.6" r="2.7"/><circle cx="228.5" cy="658.5" r="2.7"/><circle cx="249.5" cy="673.2" r="2.7"/><circle cx="124.2" cy="562.6" r="2.7"/><circle cx="247.9" cy="669.3" r="2.7"/><circle cx="152.2" cy="660.5" r="2.7"/><circle cx="122.6" cy="558.7" r="2.7"/><circle cx="269.6" cy="551.0" r="2.7"/><circle cx="180.9" cy="519.4" r="2.7"/><circle cx="284.0" cy="574.9" r="2.7"/><circle cx="305.8" cy="656.6" r="2.7"/><circle cx="146.3" cy="617.6" r="2.7"/><circle cx="100.1" cy="519.2" r="2.7"/><circle cx="225.7" cy="614.2" r="2.7"/><circle cx="224.7" cy="656.2" r="2.7"/><circle cx="166.9" cy="668.9" r="2.7"/><circle cx="143.7" cy="655.7" r="2.7"/><circle cx="202.5" cy="601.0" r="2.7"/><circle cx="184.0" cy="548.2" r="2.7"/><circle cx="211.0" cy="605.9" r="2.7"/><circle cx="130.0" cy="605.5" r="2.7"/><circle cx="125.3" cy="603.0" r="2.7"/><circle cx="144.3" cy="629.3" r="2.7"/><circle cx="227.3" cy="618.0" r="2.7"/><circle cx="306.3" cy="630.1" r="2.7"/><circle cx="285.9" cy="563.2" r="2.7"/><circle cx="233.2" cy="661.0" r="2.7"/><circle cx="306.6" cy="614.6" r="2.7"/><circle cx="103.2" cy="547.9" r="2.7"/><circle cx="107.9" cy="550.4" r="2.7"/><circle cx="330.6" cy="673.7" r="2.7"/><circle cx="205.1" cy="562.9" r="2.7"/><circle cx="283.5" cy="601.4" r="2.7"/><circle cx="284.3" cy="559.4" r="2.7"/><circle cx="261.7" cy="519.7" r="2.7"/><circle cx="329.0" cy="669.8" r="2.7"/><circle cx="309.5" cy="658.9" r="2.7"/><circle cx="308.3" cy="618.4" r="2.7"/><circle cx="188.7" cy="550.7" r="2.7"/><circle cx="291.9" cy="606.3" r="2.7"/><circle cx="121.6" cy="600.7" r="2.7"/><circle cx="203.1" cy="574.6" r="2.7"/><circle cx="144.7" cy="613.8" r="2.7"/><circle cx="122.2" cy="574.2" r="2.7"/><circle cx="261.2" cy="546.2" r="2.7"/><circle cx="147.4" cy="658.0" r="2.7"/><circle cx="287.2" cy="603.7" r="2.7"/><circle cx="180.3" cy="545.9" r="2.7"/><circle cx="225.3" cy="629.7" r="2.7"/><circle cx="314.2" cy="661.5" r="2.7"/><circle cx="168.5" cy="672.7" r="2.7"/><circle cx="264.9" cy="548.5" r="2.7"/>
</g><circle cx="102.6" cy="680.6" r="3.1" fill="#3f9f78"/></g><g stroke="#151515" stroke-width="1.45" opacity="0.92"><line x1="34.6" y1="517.8" x2="100.8" y2="682.8"/><line x1="34.6" y1="517.8" x2="277.0" y2="518.6"/><line x1="115.4" y1="518.1" x2="181.9" y2="683.3"/><line x1="56.7" y1="572.8" x2="299.3" y2="573.8"/><line x1="196.2" y1="518.3" x2="262.9" y2="683.8"/><line x1="78.7" y1="627.8" x2="321.7" y2="629.1"/><line x1="277.0" y1="518.6" x2="344.0" y2="684.3"/><line x1="100.8" y1="682.8" x2="344.0" y2="684.3"/></g><g class="fs" filter="url(#soft)"><g class="g">
<circle cx="540.3" cy="566.3" r="3.35"/><circle cx="436.6" cy="538.0" r="3.35"/><circle cx="558.4" cy="511.4" r="3.35"/><circle cx="517.1" cy="531.2" r="3.35"/><circle cx="573.8" cy="573.1" r="3.35"/><circle cx="378.3" cy="495.2" r="3.35"/><circle cx="586.1" cy="573.4" r="3.35"/><circle cx="480.8" cy="636.4" r="3.35"/><circle cx="443.4" cy="512.8" r="3.35"/><circle cx="625.1" cy="585.3" r="3.35"/><circle cx="582.0" cy="572.2" r="3.35"/><circle cx="517.5" cy="647.0" r="3.35"/><circle cx="403.1" cy="505.9" r="3.35"/><circle cx="425.7" cy="547.8" r="3.35"/><circle cx="468.6" cy="649.4" r="3.35"/><circle cx="429.2" cy="638.8" r="3.35"/><circle cx="396.7" cy="545.8" r="3.35"/><circle cx="448.3" cy="596.6" r="3.35"/><circle cx="606.3" cy="626.6" r="3.35"/><circle cx="444.3" cy="603.2" r="3.35"/><circle cx="588.8" cy="534.2" r="3.35"/><circle cx="416.6" cy="582.8" r="3.35"/><circle cx="568.6" cy="637.7" r="3.35"/><circle cx="421.7" cy="599.5" r="3.35"/><circle cx="531.4" cy="594.8" r="3.35"/><circle cx="502.0" cy="604.3" r="3.35"/><circle cx="563.7" cy="626.6" r="3.35"/><circle cx="572.7" cy="592.8" r="3.35"/><circle cx="632.9" cy="632.5" r="3.35"/><circle cx="430.1" cy="631.4" r="3.35"/><circle cx="514.3" cy="518.7" r="3.35"/><circle cx="472.2" cy="535.0" r="3.35"/><circle cx="527.5" cy="622.1" r="3.35"/><circle cx="481.8" cy="614.2" r="3.35"/><circle cx="422.4" cy="554.5" r="3.35"/><circle cx="486.4" cy="614.4" r="3.35"/><circle cx="518.1" cy="649.8" r="3.35"/><circle cx="552.3" cy="524.6" r="3.35"/><circle cx="478.0" cy="624.0" r="3.35"/><circle cx="570.5" cy="520.1" r="3.35"/><circle cx="524.7" cy="502.5" r="3.35"/><circle cx="513.4" cy="653.5" r="3.35"/><circle cx="597.4" cy="630.0" r="3.35"/><circle cx="437.2" cy="651.2" r="3.35"/><circle cx="552.0" cy="549.1" r="3.35"/><circle cx="549.5" cy="543.2" r="3.35"/><circle cx="575.2" cy="590.4" r="3.35"/><circle cx="554.9" cy="547.9" r="3.35"/><circle cx="437.2" cy="642.0" r="3.35"/><circle cx="595.0" cy="635.0" r="3.35"/><circle cx="439.3" cy="638.1" r="3.35"/><circle cx="621.6" cy="556.2" r="3.35"/><circle cx="542.9" cy="654.4" r="3.35"/><circle cx="473.5" cy="537.2" r="3.35"/><circle cx="552.4" cy="639.7" r="3.35"/><circle cx="586.9" cy="650.7" r="3.35"/><circle cx="530.0" cy="493.8" r="3.35"/><circle cx="526.2" cy="573.8" r="3.35"/><circle cx="467.3" cy="540.5" r="3.35"/><circle cx="473.6" cy="642.6" r="3.35"/><circle cx="516.8" cy="621.8" r="3.35"/><circle cx="518.4" cy="634.1" r="3.35"/><circle cx="481.7" cy="511.0" r="3.35"/><circle cx="457.8" cy="571.1" r="3.35"/><circle cx="590.1" cy="654.5" r="3.35"/><circle cx="429.7" cy="603.5" r="3.35"/><circle cx="558.5" cy="552.0" r="3.35"/><circle cx="474.9" cy="646.8" r="3.35"/><circle cx="500.1" cy="559.3" r="3.35"/><circle cx="441.5" cy="516.9" r="3.35"/><circle cx="465.3" cy="626.3" r="3.35"/><circle cx="493.0" cy="599.9" r="3.35"/><circle cx="527.5" cy="498.8" r="3.35"/><circle cx="505.3" cy="571.6" r="3.35"/><circle cx="485.7" cy="586.8" r="3.35"/><circle cx="642.7" cy="620.4" r="3.35"/><circle cx="589.9" cy="649.5" r="3.35"/><circle cx="577.5" cy="551.6" r="3.35"/><circle cx="601.7" cy="598.1" r="3.35"/><circle cx="554.7" cy="528.7" r="3.35"/><circle cx="513.9" cy="643.0" r="3.35"/><circle cx="538.4" cy="498.8" r="3.35"/><circle cx="386.8" cy="529.9" r="3.35"/><circle cx="392.3" cy="499.5" r="3.35"/><circle cx="413.4" cy="596.1" r="3.35"/><circle cx="421.1" cy="582.7" r="3.35"/><circle cx="444.7" cy="622.2" r="3.35"/><circle cx="518.7" cy="642.6" r="3.35"/><circle cx="595.3" cy="654.2" r="3.35"/><circle cx="409.3" cy="611.0" r="3.35"/><circle cx="630.3" cy="645.6" r="3.35"/><circle cx="483.9" cy="618.5" r="3.35"/><circle cx="424.9" cy="520.7" r="3.35"/><circle cx="482.3" cy="495.4" r="3.35"/><circle cx="461.4" cy="496.3" r="3.35"/><circle cx="569.9" cy="601.4" r="3.35"/><circle cx="439.1" cy="570.2" r="3.35"/><circle cx="639.5" cy="624.1" r="3.35"/><circle cx="501.2" cy="570.1" r="3.35"/><circle cx="391.0" cy="529.4" r="3.35"/><circle cx="534.5" cy="571.8" r="3.35"/><circle cx="513.3" cy="538.5" r="3.35"/><circle cx="538.1" cy="580.5" r="3.35"/><circle cx="564.2" cy="594.1" r="3.35"/><circle cx="582.7" cy="521.2" r="3.35"/><circle cx="408.4" cy="518.2" r="3.35"/><circle cx="587.9" cy="641.0" r="3.35"/><circle cx="605.0" cy="532.0" r="3.35"/><circle cx="425.4" cy="603.5" r="3.35"/><circle cx="525.9" cy="491.8" r="3.35"/><circle cx="608.9" cy="587.4" r="3.35"/><circle cx="389.0" cy="558.4" r="3.35"/><circle cx="371.3" cy="501.7" r="3.35"/><circle cx="550.2" cy="537.7" r="3.35"/><circle cx="430.2" cy="541.4" r="3.35"/><circle cx="561.3" cy="492.8" r="3.35"/><circle cx="592.8" cy="514.1" r="3.35"/><circle cx="439.3" cy="513.2" r="3.35"/><circle cx="490.1" cy="596.8" r="3.35"/><circle cx="411.8" cy="607.1" r="3.35"/><circle cx="514.0" cy="572.7" r="3.35"/><circle cx="476.7" cy="550.1" r="3.35"/><circle cx="423.4" cy="558.7" r="3.35"/><circle cx="486.6" cy="579.4" r="3.35"/><circle cx="497.9" cy="557.1" r="3.35"/><circle cx="548.4" cy="584.6" r="3.35"/><circle cx="594.8" cy="610.9" r="3.35"/><circle cx="375.9" cy="489.4" r="3.35"/><circle cx="538.3" cy="562.0" r="3.35"/><circle cx="529.6" cy="625.7" r="3.35"/><circle cx="449.5" cy="573.1" r="3.35"/><circle cx="412.5" cy="519.2" r="3.35"/><circle cx="586.8" cy="520.7" r="3.35"/><circle cx="417.0" cy="589.3" r="3.35"/><circle cx="508.1" cy="635.8" r="3.35"/><circle cx="626.9" cy="644.5" r="3.35"/><circle cx="610.2" cy="592.3" r="3.35"/><circle cx="594.6" cy="527.9" r="3.35"/><circle cx="484.6" cy="491.4" r="3.35"/><circle cx="573.0" cy="562.8" r="3.35"/><circle cx="562.8" cy="623.2" r="3.35"/><circle cx="402.5" cy="512.5" r="3.35"/><circle cx="526.4" cy="491.3" r="3.35"/><circle cx="521.4" cy="623.0" r="3.35"/><circle cx="560.4" cy="584.0" r="3.35"/><circle cx="581.5" cy="544.9" r="3.35"/><circle cx="441.2" cy="527.0" r="3.35"/><circle cx="634.2" cy="628.0" r="3.35"/><circle cx="477.0" cy="643.6" r="3.35"/><circle cx="497.8" cy="596.8" r="3.35"/><circle cx="559.7" cy="496.7" r="3.35"/><circle cx="570.4" cy="590.8" r="3.35"/><circle cx="389.2" cy="498.0" r="3.35"/><circle cx="492.5" cy="582.8" r="3.35"/><circle cx="560.5" cy="619.4" r="3.35"/><circle cx="536.0" cy="623.9" r="3.35"/><circle cx="442.0" cy="641.7" r="3.35"/><circle cx="440.4" cy="520.5" r="3.35"/><circle cx="460.7" cy="573.4" r="3.35"/><circle cx="455.1" cy="495.6" r="3.35"/><circle cx="448.0" cy="502.1" r="3.35"/><circle cx="574.5" cy="597.6" r="3.35"/><circle cx="596.7" cy="524.4" r="3.35"/><circle cx="620.2" cy="574.1" r="3.35"/><circle cx="449.2" cy="491.4" r="3.35"/><circle cx="396.3" cy="547.1" r="3.35"/><circle cx="449.7" cy="491.0" r="3.35"/><circle cx="422.7" cy="565.2" r="3.35"/><circle cx="489.2" cy="519.7" r="3.35"/><circle cx="396.1" cy="542.1" r="3.35"/><circle cx="423.8" cy="575.4" r="3.35"/><circle cx="561.8" cy="519.0" r="3.35"/><circle cx="639.3" cy="613.5" r="3.35"/><circle cx="452.6" cy="494.1" r="3.35"/><circle cx="523.3" cy="520.4" r="3.35"/><circle cx="392.5" cy="565.2" r="3.35"/><circle cx="488.4" cy="607.9" r="3.35"/><circle cx="582.6" cy="640.7" r="3.35"/><circle cx="409.9" cy="578.7" r="3.35"/><circle cx="495.6" cy="517.8" r="3.35"/><circle cx="471.0" cy="526.0" r="3.35"/><circle cx="503.1" cy="549.4" r="3.35"/><circle cx="487.5" cy="593.4" r="3.35"/><circle cx="615.0" cy="627.5" r="3.35"/><circle cx="589.9" cy="653.8" r="3.35"/><circle cx="410.4" cy="515.7" r="3.35"/><circle cx="594.8" cy="574.3" r="3.35"/><circle cx="570.3" cy="556.1" r="3.35"/><circle cx="547.5" cy="580.8" r="3.35"/><circle cx="637.0" cy="631.0" r="3.35"/><circle cx="461.6" cy="561.4" r="3.35"/><circle cx="598.1" cy="623.9" r="3.35"/><circle cx="602.2" cy="625.4" r="3.35"/><circle cx="471.7" cy="583.9" r="3.35"/><circle cx="584.0" cy="569.8" r="3.35"/><circle cx="454.7" cy="594.0" r="3.35"/><circle cx="446.0" cy="508.6" r="3.35"/><circle cx="569.7" cy="596.3" r="3.35"/><circle cx="618.7" cy="628.1" r="3.35"/><circle cx="641.8" cy="609.5" r="3.35"/><circle cx="450.9" cy="621.3" r="3.35"/><circle cx="515.8" cy="570.8" r="3.35"/><circle cx="583.4" cy="633.3" r="3.35"/><circle cx="477.1" cy="541.1" r="3.35"/><circle cx="436.6" cy="529.6" r="3.35"/><circle cx="391.5" cy="554.4" r="3.35"/><circle cx="487.0" cy="625.7" r="3.35"/><circle cx="442.7" cy="607.3" r="3.35"/><circle cx="565.9" cy="553.4" r="3.35"/><circle cx="531.8" cy="495.9" r="3.35"/><circle cx="574.5" cy="584.1" r="3.35"/><circle cx="498.5" cy="589.7" r="3.35"/><circle cx="402.2" cy="501.7" r="3.35"/><circle cx="455.4" cy="622.4" r="3.35"/><circle cx="467.7" cy="529.9" r="3.35"/><circle cx="599.0" cy="506.9" r="3.35"/><circle cx="416.5" cy="599.8" r="3.35"/><circle cx="435.1" cy="569.6" r="3.35"/><circle cx="577.2" cy="576.8" r="3.35"/><circle cx="372.4" cy="491.1" r="3.35"/><circle cx="593.8" cy="531.7" r="3.35"/><circle cx="615.1" cy="571.1" r="3.35"/><circle cx="489.2" cy="629.7" r="3.35"/><circle cx="597.7" cy="604.8" r="3.35"/><circle cx="570.3" cy="600.1" r="3.35"/><circle cx="586.6" cy="538.0" r="3.35"/><circle cx="529.5" cy="495.1" r="3.35"/><circle cx="470.8" cy="534.2" r="3.35"/><circle cx="553.4" cy="550.6" r="3.35"/><circle cx="493.6" cy="639.7" r="3.35"/><circle cx="576.8" cy="559.9" r="3.35"/><circle cx="473.4" cy="502.6" r="3.35"/><circle cx="558.5" cy="615.1" r="3.35"/><circle cx="380.7" cy="490.6" r="3.35"/><circle cx="644.4" cy="634.8" r="3.35"/><circle cx="506.8" cy="632.3" r="3.35"/><circle cx="475.6" cy="533.2" r="3.35"/><circle cx="466.2" cy="561.5" r="3.35"/><circle cx="588.1" cy="632.8" r="3.35"/><circle cx="478.3" cy="536.8" r="3.35"/><circle cx="579.8" cy="549.9" r="3.35"/><circle cx="535.3" cy="587.9" r="3.35"/><circle cx="458.0" cy="494.4" r="3.35"/><circle cx="445.1" cy="573.5" r="3.35"/><circle cx="584.8" cy="636.7" r="3.35"/><circle cx="401.6" cy="536.2" r="3.35"/><circle cx="635.1" cy="615.9" r="3.35"/><circle cx="602.2" cy="524.9" r="3.35"/><circle cx="550.1" cy="502.9" r="3.35"/><circle cx="479.9" cy="506.3" r="3.35"/><circle cx="583.6" cy="542.4" r="3.35"/><circle cx="511.2" cy="640.0" r="3.35"/><circle cx="478.2" cy="547.4" r="3.35"/><circle cx="596.9" cy="513.6" r="3.35"/><circle cx="434.5" cy="541.2" r="3.35"/><circle cx="426.4" cy="548.8" r="3.35"/><circle cx="551.6" cy="647.8" r="3.35"/><circle cx="520.7" cy="629.1" r="3.35"/><circle cx="573.6" cy="603.8" r="3.35"/><circle cx="572.2" cy="602.2" r="3.35"/><circle cx="437.6" cy="518.3" r="3.35"/><circle cx="599.3" cy="602.1" r="3.35"/><circle cx="523.3" cy="602.4" r="3.35"/><circle cx="441.7" cy="633.2" r="3.35"/><circle cx="567.7" cy="587.8" r="3.35"/><circle cx="460.6" cy="583.6" r="3.35"/><circle cx="594.0" cy="626.2" r="3.35"/><circle cx="452.8" cy="494.8" r="3.35"/><circle cx="574.6" cy="521.1" r="3.35"/><circle cx="602.9" cy="574.4" r="3.35"/><circle cx="519.9" cy="523.9" r="3.35"/><circle cx="554.7" cy="624.9" r="3.35"/><circle cx="438.4" cy="534.3" r="3.35"/><circle cx="512.7" cy="635.7" r="3.35"/><circle cx="486.2" cy="551.3" r="3.35"/><circle cx="441.4" cy="609.2" r="3.35"/><circle cx="459.3" cy="623.0" r="3.35"/><circle cx="399.4" cy="508.8" r="3.35"/><circle cx="578.6" cy="564.6" r="3.35"/><circle cx="415.8" cy="582.1" r="3.35"/><circle cx="622.6" cy="567.1" r="3.35"/><circle cx="559.0" cy="495.7" r="3.35"/><circle cx="547.3" cy="647.9" r="3.35"/><circle cx="612.7" cy="579.3" r="3.35"/><circle cx="440.8" cy="646.0" r="3.35"/><circle cx="623.1" cy="627.7" r="3.35"/><circle cx="503.9" cy="636.2" r="3.35"/><circle cx="544.0" cy="541.0" r="3.35"/><circle cx="640.3" cy="627.4" r="3.35"/><circle cx="481.6" cy="632.7" r="3.35"/><circle cx="409.5" cy="550.8" r="3.35"/><circle cx="610.2" cy="583.9" r="3.35"/><circle cx="599.2" cy="517.5" r="3.35"/><circle cx="543.1" cy="527.0" r="3.35"/><circle cx="566.8" cy="597.6" r="3.35"/><circle cx="579.2" cy="548.9" r="3.35"/><circle cx="527.3" cy="527.7" r="3.35"/><circle cx="407.9" cy="491.0" r="3.35"/><circle cx="495.8" cy="586.1" r="3.35"/><circle cx="476.1" cy="509.2" r="3.35"/><circle cx="553.7" cy="644.6" r="3.35"/><circle cx="536.0" cy="578.6" r="3.35"/><circle cx="522.4" cy="517.1" r="3.35"/><circle cx="416.3" cy="599.1" r="3.35"/><circle cx="529.3" cy="490.1" r="3.35"/><circle cx="538.4" cy="570.5" r="3.35"/><circle cx="516.1" cy="513.6" r="3.35"/><circle cx="513.9" cy="652.2" r="3.35"/><circle cx="403.5" cy="522.7" r="3.35"/><circle cx="478.8" cy="640.0" r="3.35"/><circle cx="452.6" cy="489.7" r="3.35"/><circle cx="395.5" cy="534.5" r="3.35"/><circle cx="554.4" cy="544.5" r="3.35"/><circle cx="441.4" cy="635.4" r="3.35"/><circle cx="596.9" cy="613.1" r="3.35"/><circle cx="396.4" cy="530.1" r="3.35"/><circle cx="428.6" cy="570.9" r="3.35"/><circle cx="553.8" cy="541.6" r="3.35"/><circle cx="560.3" cy="630.1" r="3.35"/><circle cx="557.3" cy="498.4" r="3.35"/><circle cx="443.6" cy="611.4" r="3.35"/><circle cx="479.8" cy="618.9" r="3.35"/><circle cx="439.5" cy="644.0" r="3.35"/><circle cx="546.4" cy="626.8" r="3.35"/><circle cx="502.5" cy="548.4" r="3.35"/><circle cx="521.0" cy="604.0" r="3.35"/><circle cx="411.2" cy="582.1" r="3.35"/><circle cx="509.4" cy="572.7" r="3.35"/><circle cx="443.2" cy="523.4" r="3.35"/><circle cx="396.7" cy="502.2" r="3.35"/><circle cx="511.4" cy="631.8" r="3.35"/><circle cx="572.5" cy="577.7" r="3.35"/><circle cx="394.1" cy="533.7" r="3.35"/><circle cx="407.8" cy="492.1" r="3.35"/><circle cx="525.7" cy="513.4" r="3.35"/><circle cx="425.1" cy="601.4" r="3.35"/><circle cx="489.6" cy="597.3" r="3.35"/><circle cx="417.0" cy="598.5" r="3.35"/><circle cx="433.1" cy="537.0" r="3.35"/><circle cx="425.2" cy="563.4" r="3.35"/><circle cx="534.2" cy="491.3" r="3.35"/><circle cx="404.9" cy="548.7" r="3.35"/><circle cx="444.0" cy="628.1" r="3.35"/><circle cx="581.5" cy="546.0" r="3.35"/><circle cx="520.3" cy="612.3" r="3.35"/><circle cx="555.5" cy="640.9" r="3.35"/><circle cx="622.3" cy="578.2" r="3.35"/><circle cx="604.0" cy="528.2" r="3.35"/><circle cx="543.5" cy="573.5" r="3.35"/><circle cx="500.5" cy="576.1" r="3.35"/><circle cx="410.8" cy="592.6" r="3.35"/><circle cx="481.6" cy="549.2" r="3.35"/><circle cx="429.3" cy="520.3" r="3.35"/><circle cx="513.5" cy="636.4" r="3.35"/><circle cx="590.7" cy="573.3" r="3.35"/><circle cx="529.3" cy="494.4" r="3.35"/><circle cx="406.2" cy="496.0" r="3.35"/><circle cx="501.8" cy="602.2" r="3.35"/><circle cx="376.5" cy="493.1" r="3.35"/><circle cx="604.2" cy="623.0" r="3.35"/><circle cx="548.9" cy="535.5" r="3.35"/><circle cx="512.0" cy="533.7" r="3.35"/><circle cx="445.4" cy="616.1" r="3.35"/><circle cx="446.6" cy="519.9" r="3.35"/><circle cx="567.9" cy="605.0" r="3.35"/><circle cx="589.4" cy="636.7" r="3.35"/><circle cx="574.0" cy="594.8" r="3.35"/><circle cx="493.3" cy="583.5" r="3.35"/><circle cx="642.5" cy="631.5" r="3.35"/><circle cx="500.8" cy="551.0" r="3.35"/><circle cx="466.2" cy="653.3" r="3.35"/><circle cx="396.8" cy="536.6" r="3.35"/><circle cx="553.6" cy="519.9" r="3.35"/><circle cx="456.5" cy="497.2" r="3.35"/><circle cx="569.2" cy="583.5" r="3.35"/><circle cx="491.6" cy="517.3" r="3.35"/><circle cx="421.8" cy="589.0" r="3.35"/><circle cx="465.9" cy="569.5" r="3.35"/><circle cx="493.0" cy="595.6" r="3.35"/><circle cx="624.2" cy="648.1" r="3.35"/><circle cx="518.2" cy="517.4" r="3.35"/><circle cx="496.9" cy="603.0" r="3.35"/><circle cx="594.9" cy="517.8" r="3.35"/><circle cx="487.9" cy="582.8" r="3.35"/><circle cx="516.2" cy="644.9" r="3.35"/><circle cx="588.5" cy="570.9" r="3.35"/><circle cx="466.3" cy="526.5" r="3.35"/><circle cx="511.2" cy="541.7" r="3.35"/><circle cx="479.5" cy="630.7" r="3.35"/><circle cx="491.2" cy="604.2" r="3.35"/><circle cx="547.7" cy="526.5" r="3.35"/><circle cx="399.0" cy="538.6" r="3.35"/><circle cx="590.6" cy="644.0" r="3.35"/><circle cx="416.3" cy="594.8" r="3.35"/><circle cx="639.8" cy="616.0" r="3.35"/><circle cx="473.4" cy="546.4" r="3.35"/><circle cx="633.1" cy="620.7" r="3.35"/><circle cx="453.4" cy="589.8" r="3.35"/><circle cx="401.5" cy="546.8" r="3.35"/><circle cx="510.0" cy="520.2" r="3.35"/><circle cx="390.6" cy="539.9" r="3.35"/><circle cx="480.9" cy="626.2" r="3.35"/><circle cx="619.6" cy="562.7" r="3.35"/><circle cx="492.4" cy="587.9" r="3.35"/><circle cx="469.4" cy="544.4" r="3.35"/><circle cx="637.2" cy="620.2" r="3.35"/><circle cx="518.6" cy="653.2" r="3.35"/><circle cx="590.0" cy="539.0" r="3.35"/><circle cx="463.6" cy="565.6" r="3.35"/><circle cx="536.3" cy="566.7" r="3.35"/><circle cx="598.5" cy="574.8" r="3.35"/><circle cx="594.7" cy="650.8" r="3.35"/><circle cx="421.2" cy="556.5" r="3.35"/><circle cx="509.8" cy="650.2" r="3.35"/><circle cx="519.3" cy="608.1" r="3.35"/><circle cx="590.0" cy="530.6" r="3.35"/><circle cx="537.3" cy="584.3" r="3.35"/><circle cx="497.3" cy="594.0" r="3.35"/><circle cx="481.8" cy="551.4" r="3.35"/><circle cx="538.3" cy="626.6" r="3.35"/><circle cx="398.8" cy="523.6" r="3.35"/><circle cx="459.3" cy="577.9" r="3.35"/><circle cx="448.9" cy="512.9" r="3.35"/><circle cx="481.0" cy="517.1" r="3.35"/><circle cx="465.5" cy="533.9" r="3.35"/><circle cx="431.4" cy="634.8" r="3.35"/><circle cx="412.9" cy="596.5" r="3.35"/><circle cx="596.3" cy="619.7" r="3.35"/><circle cx="598.8" cy="617.8" r="3.35"/><circle cx="439.1" cy="525.0" r="3.35"/><circle cx="575.9" cy="555.7" r="3.35"/><circle cx="392.6" cy="543.8" r="3.35"/><circle cx="534.2" cy="625.7" r="3.35"/><circle cx="477.9" cy="528.2" r="3.35"/><circle cx="566.3" cy="598.0" r="3.35"/><circle cx="542.0" cy="627.2" r="3.35"/><circle cx="505.9" cy="639.7" r="3.35"/><circle cx="546.6" cy="544.5" r="3.35"/><circle cx="546.1" cy="544.9" r="3.35"/><circle cx="409.0" cy="586.1" r="3.35"/><circle cx="507.3" cy="569.2" r="3.35"/><circle cx="567.9" cy="579.6" r="3.35"/><circle cx="552.5" cy="539.6" r="3.35"/><circle cx="549.7" cy="548.3" r="3.35"/><circle cx="578.3" cy="521.6" r="3.35"/><circle cx="493.2" cy="600.6" r="3.35"/><circle cx="615.0" cy="562.6" r="3.35"/><circle cx="574.6" cy="557.7" r="3.35"/><circle cx="463.4" cy="576.3" r="3.35"/><circle cx="493.8" cy="519.7" r="3.35"/><circle cx="530.2" cy="573.3" r="3.35"/><circle cx="466.0" cy="498.4" r="3.35"/><circle cx="489.4" cy="618.7" r="3.35"/><circle cx="497.9" cy="520.6" r="3.35"/><circle cx="519.6" cy="618.8" r="3.35"/><circle cx="421.2" cy="520.2" r="3.35"/><circle cx="513.3" cy="530.1" r="3.35"/><circle cx="456.8" cy="582.5" r="3.35"/><circle cx="545.6" cy="577.5" r="3.35"/><circle cx="469.2" cy="565.8" r="3.35"/><circle cx="608.1" cy="595.5" r="3.35"/><circle cx="431.1" cy="645.3" r="3.35"/><circle cx="554.3" cy="531.0" r="3.35"/><circle cx="590.5" cy="609.3" r="3.35"/><circle cx="557.7" cy="517.5" r="3.35"/><circle cx="599.5" cy="509.4" r="3.35"/><circle cx="631.4" cy="625.7" r="3.35"/><circle cx="398.8" cy="532.6" r="3.35"/><circle cx="436.7" cy="652.5" r="3.35"/><circle cx="593.5" cy="622.7" r="3.35"/><circle cx="368.8" cy="505.7" r="3.35"/><circle cx="606.7" cy="591.3" r="3.35"/><circle cx="491.0" cy="633.0" r="3.35"/><circle cx="471.0" cy="551.3" r="3.35"/><circle cx="416.9" cy="554.9" r="3.35"/><circle cx="572.5" cy="586.8" r="3.35"/><circle cx="592.5" cy="571.5" r="3.35"/><circle cx="533.5" cy="591.5" r="3.35"/><circle cx="549.5" cy="547.5" r="3.35"/><circle cx="522.7" cy="601.4" r="3.35"/><circle cx="491.0" cy="587.1" r="3.35"/><circle cx="591.8" cy="535.3" r="3.35"/><circle cx="562.6" cy="612.7" r="3.35"/><circle cx="384.7" cy="496.0" r="3.35"/><circle cx="465.7" cy="559.0" r="3.35"/><circle cx="534.7" cy="494.8" r="3.35"/><circle cx="436.8" cy="635.5" r="3.35"/><circle cx="469.7" cy="625.9" r="3.35"/><circle cx="595.4" cy="643.6" r="3.35"/><circle cx="453.5" cy="572.6" r="3.35"/><circle cx="583.1" cy="605.1" r="3.35"/><circle cx="538.2" cy="496.7" r="3.35"/><circle cx="573.3" cy="569.5" r="3.35"/><circle cx="525.0" cy="598.4" r="3.35"/><circle cx="506.0" cy="520.7" r="3.35"/><circle cx="496.6" cy="568.9" r="3.35"/><circle cx="421.2" cy="596.1" r="3.35"/><circle cx="586.1" cy="606.6" r="3.35"/><circle cx="491.9" cy="636.7" r="3.35"/><circle cx="613.0" cy="567.4" r="3.35"/><circle cx="477.7" cy="504.1" r="3.35"/><circle cx="437.1" cy="607.7" r="3.35"/><circle cx="556.2" cy="631.6" r="3.35"/><circle cx="576.1" cy="566.5" r="3.35"/><circle cx="513.2" cy="652.8" r="3.35"/><circle cx="612.6" cy="624.7" r="3.35"/><circle cx="577.9" cy="570.7" r="3.35"/><circle cx="372.9" cy="490.7" r="3.35"/><circle cx="496.0" cy="592.0" r="3.35"/><circle cx="532.2" cy="586.7" r="3.35"/><circle cx="518.1" cy="573.6" r="3.35"/><circle cx="600.0" cy="520.8" r="3.35"/><circle cx="542.7" cy="498.7" r="3.35"/><circle cx="557.0" cy="523.6" r="3.35"/><circle cx="619.3" cy="570.8" r="3.35"/><circle cx="550.3" cy="643.6" r="3.35"/><circle cx="450.6" cy="527.2" r="3.35"/><circle cx="469.9" cy="543.9" r="3.35"/><circle cx="430.6" cy="568.5" r="3.35"/><circle cx="566.1" cy="619.6" r="3.35"/><circle cx="563.1" cy="615.2" r="3.35"/><circle cx="614.0" cy="585.0" r="3.35"/><circle cx="472.3" cy="529.9" r="3.35"/><circle cx="557.5" cy="627.1" r="3.35"/><circle cx="473.7" cy="625.4" r="3.35"/><circle cx="572.3" cy="518.3" r="3.35"/><circle cx="384.9" cy="498.1" r="3.35"/><circle cx="580.6" cy="637.1" r="3.35"/><circle cx="542.6" cy="570.1" r="3.35"/><circle cx="396.1" cy="546.4" r="3.35"/><circle cx="461.7" cy="569.8" r="3.35"/><circle cx="400.2" cy="519.0" r="3.35"/><circle cx="439.3" cy="629.1" r="3.35"/><circle cx="592.5" cy="526.0" r="3.35"/><circle cx="457.4" cy="491.0" r="3.35"/><circle cx="470.9" cy="646.2" r="3.35"/><circle cx="451.5" cy="531.0" r="3.35"/><circle cx="475.8" cy="539.1" r="3.35"/><circle cx="487.1" cy="516.2" r="3.35"/><circle cx="485.9" cy="611.8" r="3.35"/><circle cx="591.0" cy="519.2" r="3.35"/><circle cx="394.2" cy="550.7" r="3.35"/><circle cx="596.0" cy="608.9" r="3.35"/><circle cx="515.8" cy="525.5" r="3.35"/><circle cx="485.1" cy="518.6" r="3.35"/><circle cx="517.3" cy="625.4" r="3.35"/><circle cx="419.3" cy="591.3" r="3.35"/><circle cx="489.2" cy="552.8" r="3.35"/><circle cx="550.4" cy="626.3" r="3.35"/><circle cx="414.9" cy="516.8" r="3.35"/><circle cx="522.7" cy="509.0" r="3.35"/><circle cx="556.6" cy="506.7" r="3.35"/><circle cx="442.0" cy="652.2" r="3.35"/><circle cx="528.2" cy="531.5" r="3.35"/><circle cx="445.5" cy="506.1" r="3.35"/><circle cx="518.1" cy="610.1" r="3.35"/><circle cx="533.2" cy="497.5" r="3.35"/><circle cx="562.9" cy="551.9" r="3.35"/><circle cx="619.1" cy="560.2" r="3.35"/><circle cx="450.4" cy="594.2" r="3.35"/><circle cx="388.8" cy="533.4" r="3.35"/><circle cx="482.9" cy="496.4" r="3.35"/><circle cx="578.7" cy="605.1" r="3.35"/><circle cx="473.4" cy="586.9" r="3.35"/><circle cx="630.4" cy="637.2" r="3.35"/><circle cx="484.6" cy="492.4" r="3.35"/><circle cx="515.1" cy="534.8" r="3.35"/><circle cx="433.3" cy="519.8" r="3.35"/><circle cx="604.1" cy="594.9" r="3.35"/><circle cx="412.7" cy="617.8" r="3.35"/><circle cx="419.9" cy="568.2" r="3.35"/><circle cx="501.9" cy="564.0" r="3.35"/><circle cx="558.3" cy="633.6" r="3.35"/><circle cx="533.5" cy="583.2" r="3.35"/><circle cx="400.0" cy="549.5" r="3.35"/><circle cx="529.9" cy="534.5" r="3.35"/><circle cx="561.4" cy="491.7" r="3.35"/><circle cx="522.2" cy="506.5" r="3.35"/><circle cx="549.8" cy="531.1" r="3.35"/><circle cx="600.0" cy="603.2" r="3.35"/><circle cx="501.6" cy="521.1" r="3.35"/><circle cx="555.7" cy="502.5" r="3.35"/><circle cx="493.6" cy="599.3" r="3.35"/><circle cx="520.2" cy="513.2" r="3.35"/><circle cx="569.1" cy="588.7" r="3.35"/><circle cx="437.3" cy="572.0" r="3.35"/><circle cx="481.9" cy="622.7" r="3.35"/><circle cx="441.4" cy="572.9" r="3.35"/><circle cx="506.9" cy="541.9" r="3.35"/><circle cx="480.3" cy="523.1" r="3.35"/><circle cx="496.3" cy="562.1" r="3.35"/><circle cx="395.6" cy="529.4" r="3.35"/><circle cx="645.3" cy="638.6" r="3.35"/><circle cx="602.4" cy="513.8" r="3.35"/><circle cx="518.0" cy="636.4" r="3.35"/><circle cx="545.9" cy="566.5" r="3.35"/><circle cx="414.5" cy="603.4" r="3.35"/><circle cx="448.8" cy="623.7" r="3.35"/><circle cx="424.1" cy="550.4" r="3.35"/><circle cx="374.0" cy="498.1" r="3.35"/><circle cx="483.7" cy="629.1" r="3.35"/><circle cx="479.2" cy="512.9" r="3.35"/><circle cx="568.4" cy="517.7" r="3.35"/><circle cx="512.6" cy="640.8" r="3.35"/><circle cx="624.2" cy="581.5" r="3.35"/><circle cx="647.0" cy="641.6" r="3.35"/><circle cx="493.7" cy="590.1" r="3.35"/><circle cx="389.6" cy="526.0" r="3.35"/><circle cx="509.4" cy="605.7" r="3.35"/><circle cx="381.3" cy="494.1" r="3.35"/><circle cx="510.3" cy="649.7" r="3.35"/><circle cx="567.7" cy="633.9" r="3.35"/><circle cx="619.5" cy="655.4" r="3.35"/><circle cx="554.4" cy="504.5" r="3.35"/><circle cx="453.2" cy="493.5" r="3.35"/><circle cx="461.6" cy="498.5" r="3.35"/><circle cx="477.6" cy="543.9" r="3.35"/><circle cx="592.7" cy="630.9" r="3.35"/><circle cx="430.5" cy="540.6" r="3.35"/><circle cx="589.3" cy="641.8" r="3.35"/><circle cx="419.1" cy="585.4" r="3.35"/><circle cx="621.9" cy="651.4" r="3.35"/><circle cx="552.3" cy="533.7" r="3.35"/><circle cx="611.2" cy="572.5" r="3.35"/><circle cx="499.1" cy="555.1" r="3.35"/><circle cx="592.6" cy="640.0" r="3.35"/><circle cx="473.0" cy="547.7" r="3.35"/><circle cx="476.9" cy="519.4" r="3.35"/><circle cx="590.5" cy="653.2" r="3.35"/><circle cx="448.7" cy="523.9" r="3.35"/><circle cx="436.1" cy="634.8" r="3.35"/><circle cx="463.5" cy="530.4" r="3.35"/><circle cx="450.7" cy="593.4" r="3.35"/><circle cx="594.2" cy="647.9" r="3.35"/><circle cx="513.2" cy="648.5" r="3.35"/><circle cx="626.8" cy="588.3" r="3.35"/><circle cx="575.1" cy="601.1" r="3.35"/><circle cx="445.7" cy="516.6" r="3.35"/><circle cx="610.8" cy="626.6" r="3.35"/><circle cx="436.6" cy="647.5" r="3.35"/><circle cx="393.1" cy="543.4" r="3.35"/><circle cx="521.8" cy="574.1" r="3.35"/><circle cx="606.6" cy="535.0" r="3.35"/><circle cx="544.9" cy="555.6" r="3.35"/><circle cx="427.2" cy="635.3" r="3.35"/><circle cx="475.3" cy="548.5" r="3.35"/><circle cx="466.8" cy="572.8" r="3.35"/><circle cx="557.5" cy="637.3" r="3.35"/><circle cx="372.2" cy="512.5" r="3.35"/><circle cx="601.7" cy="599.2" r="3.35"/><circle cx="547.5" cy="534.7" r="3.35"/><circle cx="570.3" cy="640.7" r="3.35"/><circle cx="558.6" cy="623.5" r="3.35"/><circle cx="522.1" cy="617.0" r="3.35"/><circle cx="498.4" cy="600.3" r="3.35"/><circle cx="421.5" cy="580.4" r="3.35"/><circle cx="468.9" cy="576.8" r="3.35"/><circle cx="433.1" cy="649.2" r="3.35"/><circle cx="432.7" cy="572.0" r="3.35"/><circle cx="565.1" cy="608.7" r="3.35"/><circle cx="458.6" cy="587.1" r="3.35"/><circle cx="420.4" cy="571.7" r="3.35"/><circle cx="419.1" cy="576.4" r="3.35"/><circle cx="511.8" cy="570.3" r="3.35"/><circle cx="497.8" cy="583.4" r="3.35"/><circle cx="486.1" cy="622.4" r="3.35"/><circle cx="594.8" cy="509.3" r="3.35"/><circle cx="506.4" cy="604.3" r="3.35"/><circle cx="540.2" cy="530.9" r="3.35"/><circle cx="565.9" cy="520.1" r="3.35"/><circle cx="457.5" cy="624.8" r="3.35"/><circle cx="584.4" cy="647.3" r="3.35"/><circle cx="547.6" cy="647.1" r="3.35"/><circle cx="439.9" cy="614.2" r="3.35"/><circle cx="440.4" cy="530.7" r="3.35"/><circle cx="414.3" cy="586.4" r="3.35"/><circle cx="472.8" cy="542.7" r="3.35"/><circle cx="418.8" cy="600.6" r="3.35"/><circle cx="593.2" cy="615.9" r="3.35"/><circle cx="525.0" cy="597.4" r="3.35"/><circle cx="504.8" cy="545.4" r="3.35"/><circle cx="565.8" cy="630.6" r="3.35"/><circle cx="587.9" cy="542.3" r="3.35"/><circle cx="415.7" cy="587.2" r="3.35"/><circle cx="470.6" cy="647.0" r="3.35"/><circle cx="420.2" cy="602.2" r="3.35"/><circle cx="394.3" cy="525.5" r="3.35"/><circle cx="525.5" cy="624.6" r="3.35"/><circle cx="414.5" cy="578.2" r="3.35"/><circle cx="477.0" cy="635.3" r="3.35"/><circle cx="400.9" cy="530.0" r="3.35"/><circle cx="517.9" cy="527.5" r="3.35"/><circle cx="616.8" cy="577.7" r="3.35"/><circle cx="441.4" cy="508.5" r="3.35"/><circle cx="475.8" cy="638.8" r="3.35"/><circle cx="424.5" cy="569.4" r="3.35"/><circle cx="469.0" cy="499.8" r="3.35"/><circle cx="491.2" cy="578.9" r="3.35"/><circle cx="590.2" cy="637.4" r="3.35"/><circle cx="436.6" cy="651.8" r="3.35"/><circle cx="446.0" cy="600.6" r="3.35"/><circle cx="480.6" cy="498.0" r="3.35"/><circle cx="476.4" cy="515.9" r="3.35"/><circle cx="434.5" cy="639.1" r="3.35"/><circle cx="556.4" cy="619.8" r="3.35"/><circle cx="627.1" cy="627.2" r="3.35"/><circle cx="473.1" cy="530.6" r="3.35"/><circle cx="532.0" cy="623.3" r="3.35"/><circle cx="455.5" cy="586.0" r="3.35"/><circle cx="477.6" cy="530.5" r="3.35"/><circle cx="400.4" cy="540.6" r="3.35"/><circle cx="456.8" cy="590.8" r="3.35"/><circle cx="549.0" cy="530.4" r="3.35"/><circle cx="563.9" cy="516.6" r="3.35"/><circle cx="376.0" cy="494.5" r="3.35"/><circle cx="545.2" cy="651.5" r="3.35"/><circle cx="634.9" cy="634.5" r="3.35"/><circle cx="632.2" cy="641.9" r="3.35"/><circle cx="518.1" cy="508.9" r="3.35"/><circle cx="440.6" cy="624.5" r="3.35"/><circle cx="398.6" cy="547.9" r="3.35"/><circle cx="446.6" cy="601.6" r="3.35"/><circle cx="570.0" cy="584.2" r="3.35"/><circle cx="578.5" cy="603.0" r="3.35"/><circle cx="614.8" cy="581.2" r="3.35"/><circle cx="593.9" cy="521.4" r="3.35"/><circle cx="428.1" cy="543.8" r="3.35"/><circle cx="562.4" cy="587.5" r="3.35"/><circle cx="497.1" cy="572.4" r="3.35"/><circle cx="603.8" cy="595.7" r="3.35"/><circle cx="601.5" cy="502.9" r="3.35"/><circle cx="537.4" cy="574.1" r="3.35"/><circle cx="563.3" cy="580.1" r="3.35"/><circle cx="553.1" cy="516.4" r="3.35"/><circle cx="516.0" cy="630.0" r="3.35"/><circle cx="556.0" cy="513.3" r="3.35"/><circle cx="468.2" cy="555.0" r="3.35"/><circle cx="530.1" cy="590.5" r="3.35"/><circle cx="432.7" cy="604.9" r="3.35"/><circle cx="545.2" cy="650.4" r="3.35"/><circle cx="475.6" cy="524.1" r="3.35"/><circle cx="400.9" cy="503.7" r="3.35"/><circle cx="452.9" cy="624.8" r="3.35"/><circle cx="629.1" cy="640.7" r="3.35"/><circle cx="586.4" cy="651.2" r="3.35"/><circle cx="592.8" cy="645.9" r="3.35"/><circle cx="507.7" cy="646.3" r="3.35"/><circle cx="614.1" cy="574.7" r="3.35"/><circle cx="407.0" cy="582.6" r="3.35"/><circle cx="404.9" cy="510.6" r="3.35"/><circle cx="552.9" cy="509.6" r="3.35"/><circle cx="544.4" cy="530.4" r="3.35"/><circle cx="574.8" cy="581.8" r="3.35"/><circle cx="472.8" cy="547.0" r="3.35"/><circle cx="405.5" cy="495.0" r="3.35"/><circle cx="513.8" cy="608.5" r="3.35"/><circle cx="375.9" cy="493.7" r="3.35"/><circle cx="435.9" cy="639.9" r="3.35"/><circle cx="459.5" cy="566.1" r="3.35"/><circle cx="404.3" cy="516.7" r="3.35"/><circle cx="379.8" cy="496.8" r="3.35"/><circle cx="441.4" cy="648.8" r="3.35"/><circle cx="624.0" cy="648.9" r="3.35"/><circle cx="428.1" cy="544.9" r="3.35"/><circle cx="617.1" cy="566.9" r="3.35"/><circle cx="399.7" cy="515.5" r="3.35"/><circle cx="453.2" cy="534.0" r="3.35"/><circle cx="612.0" cy="588.6" r="3.35"/><circle cx="448.3" cy="597.7" r="3.35"/><circle cx="468.5" cy="650.5" r="3.35"/><circle cx="440.1" cy="621.0" r="3.35"/><circle cx="435.3" cy="533.2" r="3.35"/><circle cx="433.6" cy="648.7" r="3.35"/><circle cx="495.5" cy="601.4" r="3.35"/><circle cx="419.6" cy="561.5" r="3.35"/><circle cx="461.4" cy="579.8" r="3.35"/><circle cx="608.7" cy="624.2" r="3.35"/><circle cx="516.5" cy="615.1" r="3.35"/><circle cx="517.2" cy="521.0" r="3.35"/><circle cx="527.4" cy="594.1" r="3.35"/><circle cx="545.7" cy="500.2" r="3.35"/><circle cx="434.8" cy="630.9" r="3.35"/><circle cx="621.8" cy="652.5" r="3.35"/><circle cx="606.9" cy="574.0" r="3.35"/><circle cx="483.7" cy="583.3" r="3.35"/><circle cx="628.3" cy="648.8" r="3.35"/><circle cx="400.9" cy="543.4" r="3.35"/><circle cx="542.9" cy="562.1" r="3.35"/><circle cx="493.6" cy="555.5" r="3.35"/><circle cx="542.4" cy="559.6" r="3.35"/><circle cx="558.3" cy="549.8" r="3.35"/><circle cx="443.0" cy="618.0" r="3.35"/><circle cx="403.9" cy="497.7" r="3.35"/><circle cx="412.5" cy="552.2" r="3.35"/><circle cx="509.9" cy="537.5" r="3.35"/><circle cx="417.0" cy="519.2" r="3.35"/><circle cx="461.6" cy="625.7" r="3.35"/><circle cx="527.1" cy="594.9" r="3.35"/><circle cx="507.2" cy="541.1" r="3.35"/><circle cx="553.7" cy="636.2" r="3.35"/><circle cx="450.7" cy="498.4" r="3.35"/><circle cx="635.3" cy="624.4" r="3.35"/><circle cx="583.9" cy="541.6" r="3.35"/><circle cx="542.2" cy="534.4" r="3.35"/><circle cx="550.1" cy="546.9" r="3.35"/><circle cx="478.9" cy="502.1" r="3.35"/><circle cx="555.0" cy="537.3" r="3.35"/><circle cx="564.6" cy="583.6" r="3.35"/><circle cx="401.2" cy="527.7" r="3.35"/><circle cx="504.8" cy="544.4" r="3.35"/><circle cx="550.1" cy="587.6" r="3.35"/><circle cx="569.7" cy="600.7" r="3.35"/><circle cx="540.1" cy="577.0" r="3.35"/><circle cx="499.4" cy="565.9" r="3.35"/><circle cx="525.4" cy="524.4" r="3.35"/><circle cx="405.1" cy="550.8" r="3.35"/><circle cx="516.0" cy="639.0" r="3.35"/><circle cx="547.7" cy="551.9" r="3.35"/><circle cx="495.8" cy="577.1" r="3.35"/><circle cx="420.6" cy="593.3" r="3.35"/><circle cx="634.1" cy="638.3" r="3.35"/><circle cx="418.8" cy="517.4" r="3.35"/><circle cx="498.2" cy="581.1" r="3.35"/><circle cx="470.8" cy="580.1" r="3.35"/><circle cx="594.7" cy="637.3" r="3.35"/>
</g>
<g class="b">
<circle cx="402.7" cy="547.6" r="2.9"/><circle cx="596.4" cy="655.0" r="2.9"/><circle cx="459.8" cy="495.2" r="2.9"/><circle cx="518.1" cy="609.8" r="2.9"/><circle cx="423.5" cy="600.3" r="2.9"/><circle cx="422.9" cy="600.3" r="2.9"/><circle cx="556.1" cy="519.7" r="2.9"/><circle cx="571.7" cy="582.7" r="2.9"/><circle cx="497.9" cy="556.8" r="2.9"/><circle cx="594.8" cy="610.6" r="2.9"/><circle cx="551.8" cy="547.0" r="2.9"/><circle cx="441.4" cy="608.9" r="2.9"/><circle cx="519.8" cy="654.0" r="2.9"/><circle cx="443.1" cy="653.0" r="2.9"/><circle cx="438.5" cy="634.0" r="2.9"/><circle cx="474.8" cy="529.1" r="2.9"/><circle cx="499.6" cy="601.0" r="2.9"/><circle cx="556.1" cy="548.7" r="2.9"/><circle cx="591.9" cy="635.9" r="2.9"/><circle cx="443.8" cy="653.0" r="2.9"/><circle cx="515.2" cy="634.9" r="2.9"/><circle cx="531.7" cy="493.9" r="2.9"/><circle cx="479.3" cy="519.3" r="2.9"/><circle cx="597.1" cy="655.0" r="2.9"/><circle cx="418.3" cy="581.3" r="2.9"/><circle cx="550.4" cy="546.0" r="2.9"/><circle cx="551.5" cy="529.6" r="2.9"/><circle cx="570.6" cy="599.1" r="2.9"/><circle cx="422.8" cy="571.5" r="2.9"/><circle cx="530.2" cy="492.9" r="2.9"/><circle cx="401.0" cy="503.4" r="2.9"/><circle cx="382.4" cy="494.8" r="2.9"/><circle cx="437.4" cy="650.3" r="2.9"/><circle cx="556.7" cy="548.7" r="2.9"/><circle cx="536.5" cy="495.5" r="2.9"/><circle cx="572.0" cy="600.2" r="2.9"/><circle cx="535.9" cy="495.5" r="2.9"/><circle cx="453.5" cy="492.5" r="2.9"/><circle cx="376.7" cy="492.2" r="2.9"/><circle cx="495.3" cy="599.4" r="2.9"/><circle cx="495.0" cy="582.0" r="2.9"/><circle cx="378.2" cy="493.2" r="2.9"/><circle cx="402.6" cy="518.8" r="2.9"/><circle cx="520.4" cy="654.0" r="2.9"/><circle cx="576.9" cy="601.8" r="2.9"/><circle cx="459.2" cy="495.2" r="2.9"/><circle cx="438.9" cy="651.3" r="2.9"/><circle cx="454.9" cy="493.5" r="2.9"/><circle cx="397.0" cy="544.9" r="2.9"/><circle cx="590.8" cy="652.3" r="2.9"/><circle cx="576.3" cy="601.8" r="2.9"/><circle cx="574.6" cy="557.4" r="2.9"/><circle cx="519.7" cy="625.2" r="2.9"/><circle cx="417.2" cy="597.6" r="2.9"/><circle cx="479.4" cy="548.1" r="2.9"/><circle cx="499.5" cy="572.2" r="2.9"/><circle cx="418.7" cy="598.6" r="2.9"/><circle cx="475.1" cy="546.4" r="2.9"/><circle cx="514.1" cy="651.3" r="2.9"/><circle cx="403.3" cy="547.6" r="2.9"/><circle cx="421.2" cy="556.2" r="2.9"/><circle cx="480.0" cy="548.1" r="2.9"/><circle cx="554.4" cy="504.2" r="2.9"/><circle cx="477.7" cy="503.8" r="2.9"/><circle cx="383.1" cy="494.8" r="2.9"/><circle cx="398.4" cy="545.9" r="2.9"/><circle cx="576.2" cy="572.9" r="2.9"/><circle cx="398.1" cy="528.6" r="2.9"/><circle cx="500.2" cy="601.1" r="2.9"/><circle cx="493.9" cy="598.4" r="2.9"/><circle cx="473.7" cy="545.5" r="2.9"/><circle cx="443.1" cy="624.3" r="2.9"/><circle cx="515.6" cy="652.3" r="2.9"/><circle cx="596.4" cy="626.1" r="2.9"/><circle cx="592.2" cy="653.3" r="2.9"/>
</g>
<g class="c">
<circle cx="496.9" cy="509.8" r="3.4"/><circle cx="550.2" cy="595.8" r="3.4"/><circle cx="554.5" cy="597.3" r="3.4"/><circle cx="614.8" cy="545.7" r="3.4"/><circle cx="608.3" cy="551.7" r="3.4"/><circle cx="565.9" cy="561.6" r="3.4"/><circle cx="505.4" cy="497.5" r="3.4"/><circle cx="598.6" cy="492.4" r="3.4"/><circle cx="543.9" cy="607.1" r="3.4"/><circle cx="495.7" cy="515.5" r="3.4"/><circle cx="476.2" cy="578.0" r="3.4"/><circle cx="528.4" cy="546.3" r="3.4"/><circle cx="575.0" cy="645.0" r="3.4"/><circle cx="421.7" cy="643.0" r="3.4"/><circle cx="477.7" cy="573.8" r="3.4"/><circle cx="436.1" cy="560.2" r="3.4"/><circle cx="410.3" cy="564.2" r="3.4"/><circle cx="441.7" cy="564.3" r="3.4"/><circle cx="496.4" cy="630.9" r="3.4"/><circle cx="388.6" cy="544.1" r="3.4"/><circle cx="435.0" cy="608.3" r="3.4"/><circle cx="423.9" cy="533.4" r="3.4"/><circle cx="576.9" cy="505.2" r="3.4"/><circle cx="429.8" cy="505.4" r="3.4"/><circle cx="576.4" cy="529.1" r="3.4"/><circle cx="386.6" cy="519.5" r="3.4"/><circle cx="448.2" cy="610.4" r="3.4"/><circle cx="499.7" cy="528.6" r="3.4"/><circle cx="549.0" cy="608.1" r="3.4"/><circle cx="541.8" cy="616.7" r="3.4"/><circle cx="601.6" cy="612.1" r="3.4"/><circle cx="443.2" cy="580.9" r="3.4"/><circle cx="586.3" cy="651.8" r="3.4"/><circle cx="543.5" cy="512.3" r="3.4"/><circle cx="529.7" cy="648.1" r="3.4"/><circle cx="485.5" cy="597.6" r="3.4"/><circle cx="618.5" cy="617.6" r="3.4"/><circle cx="594.4" cy="539.1" r="3.4"/><circle cx="426.2" cy="646.0" r="3.4"/><circle cx="509.4" cy="613.9" r="3.4"/><circle cx="618.8" cy="621.6" r="3.4"/><circle cx="443.7" cy="557.2" r="3.4"/><circle cx="608.1" cy="544.0" r="3.4"/><circle cx="423.4" cy="504.4" r="3.4"/><circle cx="552.9" cy="578.7" r="3.4"/><circle cx="469.1" cy="602.8" r="3.4"/><circle cx="465.2" cy="502.7" r="3.4"/><circle cx="643.1" cy="643.0" r="3.4"/><circle cx="425.1" cy="616.1" r="3.4"/><circle cx="421.5" cy="511.5" r="3.4"/><circle cx="613.5" cy="610.8" r="3.4"/><circle cx="489.2" cy="561.0" r="3.4"/><circle cx="467.0" cy="630.6" r="3.4"/><circle cx="655.9" cy="654.1" r="3.4"/><circle cx="488.2" cy="552.1" r="3.4"/><circle cx="522.2" cy="540.4" r="3.4"/><circle cx="448.9" cy="549.9" r="3.4"/><circle cx="431.8" cy="501.6" r="3.4"/><circle cx="438.6" cy="583.7" r="3.4"/><circle cx="454.1" cy="537.3" r="3.4"/><circle cx="649.7" cy="632.7" r="3.4"/><circle cx="564.7" cy="501.4" r="3.4"/><circle cx="584.4" cy="591.0" r="3.4"/><circle cx="533.9" cy="617.3" r="3.4"/><circle cx="523.5" cy="578.5" r="3.4"/><circle cx="610.0" cy="609.1" r="3.4"/><circle cx="513.7" cy="564.3" r="3.4"/><circle cx="427.2" cy="510.7" r="3.4"/><circle cx="618.6" cy="587.6" r="3.4"/><circle cx="551.5" cy="596.6" r="3.4"/><circle cx="454.9" cy="550.6" r="3.4"/><circle cx="412.1" cy="506.2" r="3.4"/><circle cx="501.7" cy="514.7" r="3.4"/><circle cx="509.5" cy="595.1" r="3.4"/><circle cx="372.3" cy="491.7" r="3.4"/><circle cx="427.1" cy="612.5" r="3.4"/><circle cx="615.8" cy="542.3" r="3.4"/><circle cx="520.8" cy="586.9" r="3.4"/><circle cx="503.8" cy="613.3" r="3.4"/><circle cx="466.7" cy="511.9" r="3.4"/><circle cx="627.7" cy="591.6" r="3.4"/><circle cx="451.7" cy="545.8" r="3.4"/><circle cx="469.5" cy="588.3" r="3.4"/><circle cx="509.9" cy="489.7" r="3.4"/><circle cx="582.3" cy="609.4" r="3.4"/><circle cx="416.1" cy="501.9" r="3.4"/><circle cx="605.5" cy="555.7" r="3.4"/><circle cx="570.1" cy="540.8" r="3.4"/><circle cx="562.2" cy="598.3" r="3.4"/><circle cx="597.5" cy="587.6" r="3.4"/><circle cx="592.6" cy="569.1" r="3.4"/><circle cx="437.0" cy="563.7" r="3.4"/><circle cx="517.1" cy="562.8" r="3.4"/><circle cx="504.7" cy="558.2" r="3.4"/><circle cx="603.9" cy="616.3" r="3.4"/><circle cx="503.3" cy="525.5" r="3.4"/><circle cx="541.9" cy="586.9" r="3.4"/><circle cx="511.4" cy="498.1" r="3.4"/><circle cx="609.7" cy="614.7" r="3.4"/><circle cx="613.3" cy="644.2" r="3.4"/><circle cx="513.6" cy="593.2" r="3.4"/><circle cx="618.7" cy="545.8" r="3.4"/><circle cx="534.6" cy="538.8" r="3.4"/><circle cx="626.9" cy="596.6" r="3.4"/><circle cx="500.2" cy="504.8" r="3.4"/><circle cx="414.6" cy="506.3" r="3.4"/><circle cx="548.6" cy="599.4" r="3.4"/><circle cx="426.6" cy="525.0" r="3.4"/><circle cx="611.4" cy="539.3" r="3.4"/><circle cx="436.6" cy="494.0" r="3.4"/><circle cx="427.0" cy="624.9" r="3.4"/><circle cx="470.3" cy="593.6" r="3.4"/><circle cx="631.2" cy="598.0" r="3.4"/><circle cx="577.3" cy="534.4" r="3.4"/><circle cx="379.2" cy="524.7" r="3.4"/><circle cx="485.9" cy="645.6" r="3.4"/><circle cx="434.4" cy="490.1" r="3.4"/><circle cx="386.7" cy="507.1" r="3.4"/><circle cx="531.6" cy="551.2" r="3.4"/><circle cx="489.4" cy="597.9" r="3.4"/><circle cx="588.2" cy="560.3" r="3.4"/><circle cx="565.6" cy="507.0" r="3.4"/><circle cx="471.9" cy="598.6" r="3.4"/><circle cx="545.9" cy="545.5" r="3.4"/><circle cx="605.9" cy="613.5" r="3.4"/><circle cx="430.5" cy="616.9" r="3.4"/><circle cx="402.7" cy="568.8" r="3.4"/><circle cx="566.4" cy="642.1" r="3.4"/><circle cx="563.7" cy="565.4" r="3.4"/><circle cx="566.1" cy="542.7" r="3.4"/><circle cx="585.1" cy="605.8" r="3.4"/><circle cx="447.0" cy="553.4" r="3.4"/><circle cx="586.6" cy="490.0" r="3.4"/><circle cx="432.3" cy="559.0" r="3.4"/><circle cx="433.1" cy="489.3" r="3.4"/><circle cx="481.4" cy="577.7" r="3.4"/><circle cx="516.6" cy="556.9" r="3.4"/><circle cx="464.3" cy="639.0" r="3.4"/><circle cx="498.2" cy="512.0" r="3.4"/><circle cx="405.7" cy="598.5" r="3.4"/><circle cx="605.1" cy="607.8" r="3.4"/><circle cx="533.3" cy="608.3" r="3.4"/><circle cx="493.5" cy="511.3" r="3.4"/><circle cx="423.0" cy="528.1" r="3.4"/><circle cx="594.6" cy="492.3" r="3.4"/><circle cx="602.3" cy="551.1" r="3.4"/><circle cx="541.9" cy="503.1" r="3.4"/><circle cx="525.6" cy="550.5" r="3.4"/><circle cx="425.0" cy="514.3" r="3.4"/><circle cx="542.4" cy="593.5" r="3.4"/><circle cx="574.6" cy="627.5" r="3.4"/><circle cx="506.5" cy="505.8" r="3.4"/><circle cx="614.6" cy="592.4" r="3.4"/><circle cx="462.4" cy="541.3" r="3.4"/><circle cx="405.9" cy="593.4" r="3.4"/><circle cx="607.5" cy="538.3" r="3.4"/><circle cx="528.0" cy="643.2" r="3.4"/><circle cx="503.9" cy="511.1" r="3.4"/><circle cx="547.0" cy="594.3" r="3.4"/><circle cx="368.4" cy="491.4" r="3.4"/><circle cx="445.4" cy="539.9" r="3.4"/><circle cx="460.1" cy="609.1" r="3.4"/><circle cx="445.2" cy="567.1" r="3.4"/><circle cx="456.0" cy="525.1" r="3.4"/><circle cx="419.5" cy="536.7" r="3.4"/><circle cx="467.6" cy="616.4" r="3.4"/><circle cx="600.2" cy="579.2" r="3.4"/><circle cx="614.0" cy="616.7" r="3.4"/><circle cx="493.8" cy="647.9" r="3.4"/><circle cx="381.2" cy="537.7" r="3.4"/><circle cx="526.7" cy="558.9" r="3.4"/><circle cx="452.1" cy="554.5" r="3.4"/><circle cx="514.1" cy="491.1" r="3.4"/><circle cx="601.5" cy="647.6" r="3.4"/><circle cx="559.0" cy="600.0" r="3.4"/><circle cx="453.1" cy="647.1" r="3.4"/><circle cx="608.7" cy="641.0" r="3.4"/><circle cx="450.6" cy="614.6" r="3.4"/><circle cx="457.1" cy="645.2" r="3.4"/><circle cx="598.5" cy="534.3" r="3.4"/><circle cx="421.2" cy="625.8" r="3.4"/><circle cx="412.6" cy="541.6" r="3.4"/><circle cx="486.9" cy="509.4" r="3.4"/><circle cx="465.1" cy="615.9" r="3.4"/><circle cx="428.0" cy="592.9" r="3.4"/><circle cx="603.5" cy="541.8" r="3.4"/><circle cx="533.8" cy="646.2" r="3.4"/><circle cx="659.1" cy="652.4" r="3.4"/><circle cx="556.1" cy="570.1" r="3.4"/><circle cx="532.0" cy="640.0" r="3.4"/><circle cx="537.9" cy="525.3" r="3.4"/><circle cx="617.2" cy="611.7" r="3.4"/><circle cx="487.0" cy="564.8" r="3.4"/><circle cx="585.7" cy="560.2" r="3.4"/><circle cx="540.6" cy="610.9" r="3.4"/><circle cx="541.0" cy="639.9" r="3.4"/><circle cx="600.4" cy="554.6" r="3.4"/><circle cx="584.9" cy="493.6" r="3.4"/><circle cx="540.1" cy="634.6" r="3.4"/><circle cx="502.6" cy="652.1" r="3.4"/><circle cx="589.5" cy="561.4" r="3.4"/><circle cx="647.9" cy="644.9" r="3.4"/><circle cx="449.0" cy="492.0" r="3.4"/><circle cx="527.3" cy="615.4" r="3.4"/><circle cx="606.8" cy="543.3" r="3.4"/><circle cx="481.5" cy="564.1" r="3.4"/><circle cx="471.2" cy="618.6" r="3.4"/><circle cx="608.4" cy="613.5" r="3.4"/><circle cx="592.0" cy="585.1" r="3.4"/><circle cx="502.8" cy="647.0" r="3.4"/><circle cx="457.2" cy="616.5" r="3.4"/><circle cx="542.1" cy="620.8" r="3.4"/><circle cx="625.3" cy="600.2" r="3.4"/><circle cx="408.8" cy="596.8" r="3.4"/><circle cx="444.1" cy="586.2" r="3.4"/><circle cx="554.4" cy="574.4" r="3.4"/><circle cx="441.0" cy="538.1" r="3.4"/><circle cx="544.1" cy="638.0" r="3.4"/><circle cx="508.2" cy="493.3" r="3.4"/><circle cx="634.7" cy="645.7" r="3.4"/><circle cx="447.4" cy="563.5" r="3.4"/><circle cx="507.2" cy="617.7" r="3.4"/><circle cx="427.0" cy="531.5" r="3.4"/><circle cx="558.1" cy="644.7" r="3.4"/><circle cx="580.2" cy="501.4" r="3.4"/><circle cx="444.9" cy="563.1" r="3.4"/><circle cx="610.5" cy="618.2" r="3.4"/><circle cx="488.8" cy="506.6" r="3.4"/><circle cx="385.7" cy="540.7" r="3.4"/><circle cx="545.7" cy="508.4" r="3.4"/><circle cx="590.4" cy="565.0" r="3.4"/><circle cx="419.7" cy="503.5" r="3.4"/><circle cx="513.4" cy="494.3" r="3.4"/><circle cx="630.5" cy="601.3" r="3.4"/><circle cx="425.1" cy="649.3" r="3.4"/><circle cx="534.3" cy="544.2" r="3.4"/><circle cx="529.2" cy="612.6" r="3.4"/><circle cx="623.6" cy="612.7" r="3.4"/><circle cx="432.7" cy="613.1" r="3.4"/><circle cx="517.7" cy="538.6" r="3.4"/><circle cx="526.8" cy="541.3" r="3.4"/><circle cx="515.9" cy="568.5" r="3.4"/><circle cx="473.6" cy="595.1" r="3.4"/><circle cx="501.6" cy="630.6" r="3.4"/><circle cx="426.8" cy="500.6" r="3.4"/><circle cx="606.4" cy="649.1" r="3.4"/><circle cx="524.9" cy="611.2" r="3.4"/><circle cx="497.9" cy="626.6" r="3.4"/><circle cx="460.6" cy="615.0" r="3.4"/><circle cx="533.0" cy="613.8" r="3.4"/><circle cx="532.7" cy="525.6" r="3.4"/><circle cx="461.4" cy="544.6" r="3.4"/><circle cx="462.1" cy="546.4" r="3.4"/><circle cx="566.1" cy="598.6" r="3.4"/><circle cx="461.2" cy="590.9" r="3.4"/><circle cx="496.4" cy="503.9" r="3.4"/><circle cx="484.9" cy="568.9" r="3.4"/><circle cx="561.2" cy="505.6" r="3.4"/><circle cx="574.0" cy="653.6" r="3.4"/><circle cx="418.4" cy="530.9" r="3.4"/><circle cx="562.1" cy="556.3" r="3.4"/><circle cx="492.1" cy="651.5" r="3.4"/><circle cx="600.8" cy="564.8" r="3.4"/><circle cx="615.3" cy="618.9" r="3.4"/><circle cx="578.4" cy="617.8" r="3.4"/><circle cx="420.2" cy="509.4" r="3.4"/><circle cx="436.9" cy="592.5" r="3.4"/><circle cx="519.9" cy="581.6" r="3.4"/><circle cx="434.8" cy="559.1" r="3.4"/><circle cx="471.3" cy="503.2" r="3.4"/><circle cx="491.3" cy="506.7" r="3.4"/><circle cx="511.2" cy="490.4" r="3.4"/><circle cx="435.1" cy="586.3" r="3.4"/><circle cx="474.3" cy="590.1" r="3.4"/><circle cx="490.5" cy="646.4" r="3.4"/><circle cx="428.0" cy="557.6" r="3.4"/><circle cx="455.3" cy="639.1" r="3.4"/><circle cx="558.2" cy="564.7" r="3.4"/><circle cx="579.5" cy="648.0" r="3.4"/><circle cx="560.2" cy="573.6" r="3.4"/><circle cx="445.1" cy="491.8" r="3.4"/><circle cx="590.1" cy="494.7" r="3.4"/><circle cx="416.7" cy="539.7" r="3.4"/><circle cx="465.2" cy="586.1" r="3.4"/><circle cx="543.7" cy="631.5" r="3.4"/><circle cx="439.2" cy="567.8" r="3.4"/><circle cx="541.4" cy="516.4" r="3.4"/><circle cx="568.8" cy="652.5" r="3.4"/><circle cx="590.3" cy="594.0" r="3.4"/><circle cx="581.4" cy="594.4" r="3.4"/><circle cx="509.6" cy="650.8" r="3.4"/><circle cx="634.9" cy="599.0" r="3.4"/><circle cx="423.0" cy="621.4" r="3.4"/><circle cx="584.2" cy="513.7" r="3.4"/><circle cx="580.4" cy="626.7" r="3.4"/><circle cx="401.0" cy="573.1" r="3.4"/><circle cx="612.1" cy="638.4" r="3.4"/><circle cx="428.9" cy="607.8" r="3.4"/><circle cx="583.8" cy="563.1" r="3.4"/><circle cx="468.0" cy="499.1" r="3.4"/><circle cx="415.9" cy="507.4" r="3.4"/><circle cx="598.3" cy="564.3" r="3.4"/><circle cx="539.1" cy="541.8" r="3.4"/><circle cx="586.1" cy="614.7" r="3.4"/><circle cx="568.1" cy="507.1" r="3.4"/><circle cx="583.8" cy="618.6" r="3.4"/><circle cx="498.4" cy="644.0" r="3.4"/><circle cx="560.3" cy="561.0" r="3.4"/><circle cx="512.8" cy="560.8" r="3.4"/><circle cx="609.4" cy="526.1" r="3.4"/><circle cx="411.3" cy="500.6" r="3.4"/><circle cx="394.6" cy="502.8" r="3.4"/><circle cx="523.9" cy="585.0" r="3.4"/><circle cx="483.6" cy="560.4" r="3.4"/><circle cx="450.1" cy="540.7" r="3.4"/><circle cx="446.8" cy="577.8" r="3.4"/><circle cx="520.4" cy="557.8" r="3.4"/><circle cx="526.0" cy="535.9" r="3.4"/><circle cx="390.0" cy="511.4" r="3.4"/><circle cx="431.5" cy="553.4" r="3.4"/><circle cx="533.6" cy="547.4" r="3.4"/><circle cx="622.5" cy="604.4" r="3.4"/><circle cx="488.0" cy="501.0" r="3.4"/><circle cx="407.8" cy="540.2" r="3.4"/><circle cx="491.6" cy="534.0" r="3.4"/><circle cx="628.2" cy="597.3" r="3.4"/><circle cx="570.4" cy="648.9" r="3.4"/><circle cx="497.3" cy="652.6" r="3.4"/><circle cx="547.8" cy="619.4" r="3.4"/><circle cx="525.7" cy="492.4" r="3.4"/><circle cx="484.5" cy="505.3" r="3.4"/><circle cx="578.3" cy="631.5" r="3.4"/><circle cx="574.7" cy="650.4" r="3.4"/><circle cx="590.8" cy="491.4" r="3.4"/><circle cx="470.2" cy="611.1" r="3.4"/><circle cx="561.6" cy="569.5" r="3.4"/><circle cx="595.4" cy="494.1" r="3.4"/><circle cx="583.3" cy="506.2" r="3.4"/><circle cx="595.1" cy="565.6" r="3.4"/><circle cx="558.3" cy="598.2" r="3.4"/><circle cx="412.5" cy="560.3" r="3.4"/><circle cx="507.1" cy="562.4" r="3.4"/><circle cx="535.5" cy="637.4" r="3.4"/><circle cx="487.5" cy="537.3" r="3.4"/><circle cx="408.2" cy="568.2" r="3.4"/><circle cx="387.9" cy="515.5" r="3.4"/><circle cx="404.9" cy="596.7" r="3.4"/><circle cx="530.1" cy="542.7" r="3.4"/><circle cx="540.0" cy="520.4" r="3.4"/><circle cx="620.8" cy="639.0" r="3.4"/><circle cx="441.9" cy="493.5" r="3.4"/><circle cx="631.5" cy="592.6" r="3.4"/><circle cx="544.7" cy="499.5" r="3.4"/><circle cx="439.9" cy="556.3" r="3.4"/><circle cx="472.3" cy="607.3" r="3.4"/><circle cx="579.2" cy="653.1" r="3.4"/><circle cx="452.5" cy="611.8" r="3.4"/><circle cx="460.0" cy="642.3" r="3.4"/><circle cx="401.5" cy="590.4" r="3.4"/><circle cx="416.7" cy="510.9" r="3.4"/><circle cx="461.9" cy="617.2" r="3.4"/><circle cx="655.1" cy="652.3" r="3.4"/><circle cx="587.9" cy="490.7" r="3.4"/><circle cx="562.1" cy="639.9" r="3.4"/><circle cx="651.4" cy="651.4" r="3.4"/><circle cx="610.3" cy="548.0" r="3.4"/><circle cx="365.2" cy="493.1" r="3.4"/><circle cx="578.4" cy="515.1" r="3.4"/><circle cx="482.6" cy="594.1" r="3.4"/><circle cx="450.0" cy="558.2" r="3.4"/><circle cx="495.1" cy="648.7" r="3.4"/><circle cx="631.1" cy="575.1" r="3.4"/><circle cx="496.2" cy="537.3" r="3.4"/><circle cx="404.8" cy="563.4" r="3.4"/><circle cx="447.2" cy="584.3" r="3.4"/><circle cx="536.8" cy="610.0" r="3.4"/><circle cx="507.5" cy="513.3" r="3.4"/><circle cx="453.3" cy="542.2" r="3.4"/><circle cx="546.2" cy="589.0" r="3.4"/><circle cx="424.7" cy="510.2" r="3.4"/><circle cx="645.5" cy="653.5" r="3.4"/><circle cx="581.4" cy="558.9" r="3.4"/><circle cx="428.7" cy="497.1" r="3.4"/><circle cx="554.8" cy="591.9" r="3.4"/><circle cx="406.8" cy="572.2" r="3.4"/><circle cx="407.7" cy="504.9" r="3.4"/><circle cx="410.8" cy="536.8" r="3.4"/><circle cx="457.6" cy="543.6" r="3.4"/><circle cx="570.2" cy="511.7" r="3.4"/><circle cx="434.7" cy="497.7" r="3.4"/><circle cx="492.6" cy="507.8" r="3.4"/><circle cx="616.8" cy="635.5" r="3.4"/><circle cx="651.7" cy="645.9" r="3.4"/><circle cx="524.9" cy="646.6" r="3.4"/><circle cx="524.1" cy="564.2" r="3.4"/><circle cx="564.9" cy="552.6" r="3.4"/><circle cx="523.7" cy="554.0" r="3.4"/><circle cx="439.7" cy="589.5" r="3.4"/><circle cx="484.5" cy="540.7" r="3.4"/><circle cx="504.7" cy="593.6" r="3.4"/><circle cx="461.3" cy="511.1" r="3.4"/><circle cx="643.9" cy="648.4" r="3.4"/><circle cx="636.0" cy="595.7" r="3.4"/><circle cx="546.9" cy="611.9" r="3.4"/><circle cx="598.9" cy="541.0" r="3.4"/><circle cx="580.7" cy="511.6" r="3.4"/><circle cx="399.5" cy="577.3" r="3.4"/><circle cx="450.9" cy="565.7" r="3.4"/><circle cx="380.7" cy="520.4" r="3.4"/><circle cx="424.9" cy="629.7" r="3.4"/><circle cx="459.2" cy="516.5" r="3.4"/><circle cx="419.0" cy="515.0" r="3.4"/><circle cx="564.3" cy="537.8" r="3.4"/><circle cx="516.4" cy="590.2" r="3.4"/><circle cx="454.6" cy="542.9" r="3.4"/><circle cx="463.9" cy="610.0" r="3.4"/><circle cx="536.0" cy="517.0" r="3.4"/><circle cx="527.6" cy="566.4" r="3.4"/><circle cx="469.0" cy="508.0" r="3.4"/><circle cx="617.7" cy="640.9" r="3.4"/><circle cx="493.4" cy="540.2" r="3.4"/><circle cx="568.2" cy="556.7" r="3.4"/><circle cx="647.1" cy="649.9" r="3.4"/><circle cx="463.4" cy="633.7" r="3.4"/><circle cx="585.3" cy="502.4" r="3.4"/><circle cx="563.6" cy="509.8" r="3.4"/><circle cx="492.9" cy="502.3" r="3.4"/><circle cx="573.0" cy="537.8" r="3.4"/><circle cx="511.7" cy="609.1" r="3.4"/><circle cx="489.7" cy="641.1" r="3.4"/><circle cx="629.6" cy="579.4" r="3.4"/><circle cx="495.1" cy="531.4" r="3.4"/><circle cx="428.4" cy="620.9" r="3.4"/><circle cx="406.9" cy="559.8" r="3.4"/><circle cx="589.8" cy="555.9" r="3.4"/><circle cx="478.1" cy="591.1" r="3.4"/><circle cx="538.1" cy="511.5" r="3.4"/><circle cx="384.5" cy="524.3" r="3.4"/><circle cx="531.4" cy="543.5" r="3.4"/><circle cx="571.2" cy="644.0" r="3.4"/><circle cx="620.6" cy="607.9" r="3.4"/><circle cx="582.2" cy="497.8" r="3.4"/><circle cx="457.5" cy="520.9" r="3.4"/><circle cx="477.1" cy="599.7" r="3.4"/><circle cx="485.4" cy="555.7" r="3.4"/><circle cx="544.3" cy="617.2" r="3.4"/><circle cx="494.5" cy="643.0" r="3.4"/><circle cx="451.3" cy="642.3" r="3.4"/><circle cx="586.2" cy="595.9" r="3.4"/><circle cx="382.5" cy="516.1" r="3.4"/><circle cx="436.4" cy="554.7" r="3.4"/><circle cx="458.8" cy="636.5" r="3.4"/><circle cx="441.1" cy="491.7" r="3.4"/><circle cx="440.4" cy="562.2" r="3.4"/><circle cx="482.3" cy="599.2" r="3.4"/><circle cx="479.4" cy="569.4" r="3.4"/><circle cx="505.7" cy="650.4" r="3.4"/><circle cx="465.7" cy="592.7" r="3.4"/><circle cx="456.9" cy="546.9" r="3.4"/><circle cx="385.4" cy="545.8" r="3.4"/><circle cx="431.1" cy="589.5" r="3.4"/><circle cx="364.4" cy="491.4" r="3.4"/><circle cx="384.6" cy="510.7" r="3.4"/><circle cx="511.8" cy="587.0" r="3.4"/><circle cx="551.0" cy="590.9" r="3.4"/><circle cx="517.9" cy="492.0" r="3.4"/><circle cx="582.4" cy="651.4" r="3.4"/><circle cx="459.4" cy="620.6" r="3.4"/><circle cx="624.5" cy="620.3" r="3.4"/><circle cx="648.4" cy="650.6" r="3.4"/><circle cx="505.6" cy="608.6" r="3.4"/><circle cx="571.7" cy="649.7" r="3.4"/><circle cx="511.5" cy="559.7" r="3.4"/><circle cx="542.0" cy="545.2" r="3.4"/><circle cx="540.1" cy="507.8" r="3.4"/><circle cx="623.7" cy="595.1" r="3.4"/><circle cx="551.8" cy="604.2" r="3.4"/><circle cx="481.6" cy="597.5" r="3.4"/><circle cx="610.9" cy="521.8" r="3.4"/><circle cx="410.1" cy="509.0" r="3.4"/><circle cx="567.2" cy="647.4" r="3.4"/><circle cx="538.1" cy="545.1" r="3.4"/><circle cx="448.2" cy="645.6" r="3.4"/><circle cx="507.8" cy="590.3" r="3.4"/><circle cx="656.2" cy="649.0" r="3.4"/><circle cx="521.8" cy="492.1" r="3.4"/><circle cx="475.1" cy="603.4" r="3.4"/><circle cx="456.6" cy="607.5" r="3.4"/><circle cx="580.4" cy="532.5" r="3.4"/><circle cx="518.4" cy="565.0" r="3.4"/><circle cx="569.3" cy="508.2" r="3.4"/><circle cx="572.4" cy="515.9" r="3.4"/><circle cx="635.7" cy="600.8" r="3.4"/><circle cx="463.3" cy="520.0" r="3.4"/><circle cx="508.4" cy="605.0" r="3.4"/><circle cx="615.5" cy="547.5" r="3.4"/><circle cx="414.8" cy="555.5" r="3.4"/><circle cx="562.5" cy="646.6" r="3.4"/><circle cx="457.9" cy="538.2" r="3.4"/><circle cx="455.0" cy="611.9" r="3.4"/><circle cx="411.5" cy="551.5" r="3.4"/><circle cx="600.6" cy="585.7" r="3.4"/><circle cx="593.8" cy="563.5" r="3.4"/><circle cx="603.4" cy="559.5" r="3.4"/><circle cx="528.4" cy="607.0" r="3.4"/><circle cx="628.5" cy="605.0" r="3.4"/><circle cx="638.8" cy="640.9" r="3.4"/><circle cx="508.2" cy="554.0" r="3.4"/><circle cx="474.9" cy="595.8" r="3.4"/><circle cx="485.5" cy="639.0" r="3.4"/><circle cx="598.6" cy="568.4" r="3.4"/><circle cx="571.8" cy="531.9" r="3.4"/><circle cx="581.8" cy="622.7" r="3.4"/><circle cx="445.0" cy="533.3" r="3.4"/><circle cx="573.1" cy="631.8" r="3.4"/><circle cx="431.5" cy="492.9" r="3.4"/><circle cx="596.6" cy="582.3" r="3.4"/><circle cx="578.2" cy="511.1" r="3.4"/><circle cx="477.8" cy="596.5" r="3.4"/><circle cx="569.6" cy="502.7" r="3.4"/><circle cx="612.8" cy="622.4" r="3.4"/><circle cx="650.6" cy="654.6" r="3.4"/><circle cx="605.1" cy="546.9" r="3.4"/><circle cx="388.5" cy="502.4" r="3.4"/><circle cx="537.3" cy="615.9" r="3.4"/><circle cx="498.0" cy="649.4" r="3.4"/><circle cx="620.4" cy="632.4" r="3.4"/><circle cx="588.1" cy="498.4" r="3.4"/><circle cx="501.8" cy="650.3" r="3.4"/><circle cx="503.7" cy="532.0" r="3.4"/><circle cx="456.3" cy="613.0" r="3.4"/><circle cx="548.0" cy="503.6" r="3.4"/><circle cx="593.1" cy="591.0" r="3.4"/><circle cx="451.7" cy="606.2" r="3.4"/><circle cx="568.3" cy="534.5" r="3.4"/><circle cx="559.3" cy="594.9" r="3.4"/><circle cx="651.2" cy="628.4" r="3.4"/><circle cx="521.7" cy="533.8" r="3.4"/><circle cx="503.7" cy="625.8" r="3.4"/><circle cx="619.0" cy="594.3" r="3.4"/><circle cx="465.4" cy="619.9" r="3.4"/><circle cx="392.5" cy="544.4" r="3.4"/><circle cx="578.4" cy="651.3" r="3.4"/><circle cx="573.6" cy="510.2" r="3.4"/><circle cx="501.8" cy="617.0" r="3.4"/><circle cx="597.1" cy="558.4" r="3.4"/><circle cx="425.9" cy="651.1" r="3.4"/><circle cx="437.4" cy="490.8" r="3.4"/><circle cx="639.2" cy="647.5" r="3.4"/><circle cx="531.7" cy="612.7" r="3.4"/><circle cx="465.3" cy="544.7" r="3.4"/><circle cx="536.6" cy="643.2" r="3.4"/><circle cx="536.1" cy="621.5" r="3.4"/><circle cx="483.5" cy="572.9" r="3.4"/><circle cx="404.7" cy="577.0" r="3.4"/><circle cx="528.8" cy="555.1" r="3.4"/><circle cx="513.1" cy="555.3" r="3.4"/><circle cx="391.2" cy="498.7" r="3.4"/><circle cx="593.3" cy="557.5" r="3.4"/><circle cx="553.8" cy="600.5" r="3.4"/><circle cx="503.5" cy="501.0" r="3.4"/><circle cx="538.6" cy="618.0" r="3.4"/><circle cx="534.2" cy="521.3" r="3.4"/><circle cx="574.9" cy="512.4" r="3.4"/><circle cx="573.1" cy="504.3" r="3.4"/><circle cx="580.5" cy="614.1" r="3.4"/><circle cx="584.9" cy="554.6" r="3.4"/><circle cx="621.0" cy="618.1" r="3.4"/><circle cx="625.6" cy="609.0" r="3.4"/><circle cx="508.6" cy="502.0" r="3.4"/><circle cx="602.7" cy="536.4" r="3.4"/><circle cx="545.8" cy="603.6" r="3.4"/><circle cx="431.7" cy="604.2" r="3.4"/><circle cx="430.4" cy="561.8" r="3.4"/><circle cx="515.3" cy="584.4" r="3.4"/><circle cx="558.1" cy="578.4" r="3.4"/><circle cx="481.4" cy="643.7" r="3.4"/><circle cx="500.6" cy="533.9" r="3.4"/><circle cx="610.5" cy="647.2" r="3.4"/><circle cx="509.0" cy="559.6" r="3.4"/><circle cx="392.3" cy="507.6" r="3.4"/><circle cx="604.4" cy="567.0" r="3.4"/><circle cx="530.8" cy="537.8" r="3.4"/><circle cx="429.1" cy="649.5" r="3.4"/><circle cx="561.2" cy="541.2" r="3.4"/><circle cx="469.2" cy="544.9" r="3.4"/><circle cx="384.6" cy="544.0" r="3.4"/><circle cx="518.6" cy="493.8" r="3.4"/><circle cx="433.0" cy="649.8" r="3.4"/><circle cx="580.0" cy="525.9" r="3.4"/><circle cx="499.7" cy="622.3" r="3.4"/><circle cx="588.5" cy="587.8" r="3.4"/><circle cx="604.6" cy="644.2" r="3.4"/><circle cx="576.3" cy="623.2" r="3.4"/><circle cx="538.8" cy="546.9" r="3.4"/><circle cx="463.4" cy="507.5" r="3.4"/><circle cx="622.9" cy="589.7" r="3.4"/><circle cx="638.9" cy="599.1" r="3.4"/><circle cx="521.6" cy="563.7" r="3.4"/><circle cx="467.4" cy="637.1" r="3.4"/><circle cx="505.1" cy="621.8" r="3.4"/><circle cx="464.7" cy="515.9" r="3.4"/><circle cx="461.2" cy="524.8" r="3.4"/><circle cx="430.7" cy="512.9" r="3.4"/><circle cx="414.9" cy="533.5" r="3.4"/><circle cx="419.7" cy="630.0" r="3.4"/><circle cx="432.9" cy="594.3" r="3.4"/><circle cx="449.3" cy="535.4" r="3.4"/><circle cx="501.4" cy="510.6" r="3.4"/><circle cx="412.7" cy="597.1" r="3.4"/><circle cx="491.5" cy="556.1" r="3.4"/><circle cx="588.4" cy="609.9" r="3.4"/><circle cx="537.9" cy="591.6" r="3.4"/><circle cx="611.0" cy="544.7" r="3.4"/><circle cx="521.9" cy="567.7" r="3.4"/><circle cx="408.7" cy="555.1" r="3.4"/><circle cx="489.3" cy="542.1" r="3.4"/><circle cx="467.2" cy="606.3" r="3.4"/>
</g></g><g stroke="#151515" stroke-width="1.35" opacity="0.92"><line x1="367.3" y1="492.0" x2="428.0" y2="650.0"/><line x1="367.3" y1="492.0" x2="597.5" y2="493.0"/><line x1="444.0" y1="492.3" x2="504.7" y2="651.0"/><line x1="387.5" y1="544.7" x2="617.7" y2="546.3"/><line x1="520.8" y1="492.7" x2="581.3" y2="652.0"/><line x1="407.8" y1="597.3" x2="637.8" y2="599.7"/><line x1="597.5" y1="493.0" x2="658.0" y2="653.0"/><line x1="428.0" y1="650.0" x2="658.0" y2="653.0"/></g><g filter="url(#soft)"><g class="d">
<circle cx="240.8" cy="754.3" r="3.4"/><circle cx="258.0" cy="720.4" r="3.4"/><circle cx="300.9" cy="744.4" r="3.4"/><circle cx="131.9" cy="743.3" r="3.4"/><circle cx="225.3" cy="745.0" r="3.4"/><circle cx="197.5" cy="729.5" r="3.4"/><circle cx="169.2" cy="727.8" r="3.4"/><circle cx="334.6" cy="757.8" r="3.4"/><circle cx="159.8" cy="740.9" r="3.4"/><circle cx="120.2" cy="765.8" r="3.4"/><circle cx="315.8" cy="753.2" r="3.4"/><circle cx="257.8" cy="747.5" r="3.4"/><circle cx="220.4" cy="763.2" r="3.4"/><circle cx="268.1" cy="738.9" r="3.4"/><circle cx="252.3" cy="744.3" r="3.4"/><circle cx="171.5" cy="733.9" r="3.4"/><circle cx="297.1" cy="744.1" r="3.4"/><circle cx="223.6" cy="749.5" r="3.4"/><circle cx="141.8" cy="758.5" r="3.4"/><circle cx="247.5" cy="764.4" r="3.4"/><circle cx="264.8" cy="761.0" r="3.4"/><circle cx="269.6" cy="742.7" r="3.4"/><circle cx="172.1" cy="748.8" r="3.4"/><circle cx="297.1" cy="728.7" r="3.4"/><circle cx="209.9" cy="731.8" r="3.4"/><circle cx="154.2" cy="763.0" r="3.4"/><circle cx="208.9" cy="753.8" r="3.4"/><circle cx="240.2" cy="718.0" r="3.4"/><circle cx="164.1" cy="753.7" r="3.4"/><circle cx="206.0" cy="755.0" r="3.4"/><circle cx="205.0" cy="762.1" r="3.4"/><circle cx="295.9" cy="724.1" r="3.4"/><circle cx="267.9" cy="763.7" r="3.4"/><circle cx="236.7" cy="746.3" r="3.4"/><circle cx="236.9" cy="730.6" r="3.4"/><circle cx="316.9" cy="722.8" r="3.4"/><circle cx="144.7" cy="740.9" r="3.4"/><circle cx="178.5" cy="755.0" r="3.4"/><circle cx="238.8" cy="742.8" r="3.4"/><circle cx="212.8" cy="722.7" r="3.4"/><circle cx="188.6" cy="731.3" r="3.4"/><circle cx="278.3" cy="756.7" r="3.4"/><circle cx="331.8" cy="744.9" r="3.4"/><circle cx="180.0" cy="760.1" r="3.4"/><circle cx="125.0" cy="730.4" r="3.4"/><circle cx="122.8" cy="765.0" r="3.4"/><circle cx="138.8" cy="742.0" r="3.4"/><circle cx="219.9" cy="725.0" r="3.4"/><circle cx="264.8" cy="733.0" r="3.4"/><circle cx="244.6" cy="739.5" r="3.4"/><circle cx="183.7" cy="758.3" r="3.4"/><circle cx="322.7" cy="733.5" r="3.4"/><circle cx="275.0" cy="721.4" r="3.4"/><circle cx="206.6" cy="739.4" r="3.4"/><circle cx="295.6" cy="740.0" r="3.4"/><circle cx="285.6" cy="731.4" r="3.4"/><circle cx="152.1" cy="760.2" r="3.4"/><circle cx="314.9" cy="758.8" r="3.4"/><circle cx="164.2" cy="747.8" r="3.4"/><circle cx="271.6" cy="764.0" r="3.4"/><circle cx="182.1" cy="760.9" r="3.4"/><circle cx="268.6" cy="724.6" r="3.4"/><circle cx="322.9" cy="756.1" r="3.4"/><circle cx="173.3" cy="729.3" r="3.4"/><circle cx="237.7" cy="737.1" r="3.4"/><circle cx="226.3" cy="741.2" r="3.4"/><circle cx="329.6" cy="719.5" r="3.4"/><circle cx="325.6" cy="757.2" r="3.4"/><circle cx="147.0" cy="755.7" r="3.4"/><circle cx="164.8" cy="723.2" r="3.4"/><circle cx="262.3" cy="741.8" r="3.4"/><circle cx="200.6" cy="728.8" r="3.4"/><circle cx="253.3" cy="728.9" r="3.4"/><circle cx="223.1" cy="735.0" r="3.4"/><circle cx="234.3" cy="731.6" r="3.4"/><circle cx="313.2" cy="737.8" r="3.4"/><circle cx="267.3" cy="752.9" r="3.4"/><circle cx="298.7" cy="734.2" r="3.4"/><circle cx="221.6" cy="728.5" r="3.4"/><circle cx="156.0" cy="728.3" r="3.4"/><circle cx="188.3" cy="737.4" r="3.4"/><circle cx="182.3" cy="754.0" r="3.4"/><circle cx="318.4" cy="742.1" r="3.4"/><circle cx="249.3" cy="745.6" r="3.4"/><circle cx="227.6" cy="735.0" r="3.4"/><circle cx="299.0" cy="726.0" r="3.4"/><circle cx="253.6" cy="721.5" r="3.4"/><circle cx="329.1" cy="730.6" r="3.4"/><circle cx="140.4" cy="733.0" r="3.4"/><circle cx="295.9" cy="747.9" r="3.4"/><circle cx="291.9" cy="747.7" r="3.4"/><circle cx="243.4" cy="746.9" r="3.4"/><circle cx="129.9" cy="747.6" r="3.4"/><circle cx="164.0" cy="762.5" r="3.4"/><circle cx="240.9" cy="763.0" r="3.4"/><circle cx="155.4" cy="743.6" r="3.4"/><circle cx="241.5" cy="727.0" r="3.4"/><circle cx="284.6" cy="738.7" r="3.4"/><circle cx="282.1" cy="754.8" r="3.4"/><circle cx="330.0" cy="763.8" r="3.4"/><circle cx="324.6" cy="729.1" r="3.4"/><circle cx="259.0" cy="743.8" r="3.4"/><circle cx="145.5" cy="743.6" r="3.4"/><circle cx="150.7" cy="757.3" r="3.4"/><circle cx="313.2" cy="719.6" r="3.4"/><circle cx="176.8" cy="729.7" r="3.4"/><circle cx="194.7" cy="724.2" r="3.4"/><circle cx="272.9" cy="729.3" r="3.4"/><circle cx="227.1" cy="749.4" r="3.4"/><circle cx="250.8" cy="720.3" r="3.4"/><circle cx="167.8" cy="748.2" r="3.4"/><circle cx="171.4" cy="756.3" r="3.4"/><circle cx="256.9" cy="731.5" r="3.4"/><circle cx="122.6" cy="734.0" r="3.4"/><circle cx="264.7" cy="752.7" r="3.4"/><circle cx="244.5" cy="762.7" r="3.4"/><circle cx="254.1" cy="732.9" r="3.4"/><circle cx="145.4" cy="728.9" r="3.4"/><circle cx="333.5" cy="755.9" r="3.4"/><circle cx="168.7" cy="755.1" r="3.4"/><circle cx="254.6" cy="755.7" r="3.4"/><circle cx="212.6" cy="753.2" r="3.4"/><circle cx="278.8" cy="764.4" r="3.4"/><circle cx="321.3" cy="728.6" r="3.4"/><circle cx="288.5" cy="722.7" r="3.4"/><circle cx="182.1" cy="732.2" r="3.4"/><circle cx="268.8" cy="758.6" r="3.4"/><circle cx="150.3" cy="732.7" r="3.4"/><circle cx="281.5" cy="764.1" r="3.4"/><circle cx="119.5" cy="749.3" r="3.4"/><circle cx="141.8" cy="742.9" r="3.4"/><circle cx="190.9" cy="757.9" r="3.4"/><circle cx="227.6" cy="744.7" r="3.4"/><circle cx="225.8" cy="760.9" r="3.4"/><circle cx="229.5" cy="740.2" r="3.4"/><circle cx="313.7" cy="752.4" r="3.4"/><circle cx="218.3" cy="758.5" r="3.4"/><circle cx="207.7" cy="759.4" r="3.4"/><circle cx="261.5" cy="722.1" r="3.4"/><circle cx="194.0" cy="757.6" r="3.4"/><circle cx="132.9" cy="761.0" r="3.4"/><circle cx="195.9" cy="756.1" r="3.4"/><circle cx="305.8" cy="748.1" r="3.4"/><circle cx="213.0" cy="738.4" r="3.4"/><circle cx="295.0" cy="727.0" r="3.4"/><circle cx="294.9" cy="763.3" r="3.4"/><circle cx="148.8" cy="730.0" r="3.4"/><circle cx="240.7" cy="722.4" r="3.4"/><circle cx="198.6" cy="722.0" r="3.4"/><circle cx="133.4" cy="723.5" r="3.4"/><circle cx="212.6" cy="761.4" r="3.4"/><circle cx="202.8" cy="756.2" r="3.4"/><circle cx="274.4" cy="726.4" r="3.4"/><circle cx="178.3" cy="724.4" r="3.4"/><circle cx="302.3" cy="720.9" r="3.4"/><circle cx="144.7" cy="748.2" r="3.4"/><circle cx="210.9" cy="757.4" r="3.4"/><circle cx="286.7" cy="743.5" r="3.4"/><circle cx="260.9" cy="762.7" r="3.4"/><circle cx="236.8" cy="717.9" r="3.4"/><circle cx="202.9" cy="734.4" r="3.4"/><circle cx="233.2" cy="739.0" r="3.4"/><circle cx="208.5" cy="743.7" r="3.4"/><circle cx="120.8" cy="744.4" r="3.4"/><circle cx="133.5" cy="753.6" r="3.4"/><circle cx="327.2" cy="741.1" r="3.4"/><circle cx="143.9" cy="755.3" r="3.4"/><circle cx="186.1" cy="753.3" r="3.4"/><circle cx="242.0" cy="757.6" r="3.4"/><circle cx="259.5" cy="727.4" r="3.4"/><circle cx="152.3" cy="744.5" r="3.4"/><circle cx="208.9" cy="719.3" r="3.4"/><circle cx="331.6" cy="729.8" r="3.4"/><circle cx="198.9" cy="741.1" r="3.4"/><circle cx="124.8" cy="745.4" r="3.4"/><circle cx="272.2" cy="747.8" r="3.4"/><circle cx="261.4" cy="718.0" r="3.4"/><circle cx="166.8" cy="726.2" r="3.4"/><circle cx="332.1" cy="759.3" r="3.4"/><circle cx="167.4" cy="763.1" r="3.4"/><circle cx="269.7" cy="728.4" r="3.4"/><circle cx="224.8" cy="729.7" r="3.4"/><circle cx="204.5" cy="729.4" r="3.4"/><circle cx="299.9" cy="756.1" r="3.4"/><circle cx="277.6" cy="725.6" r="3.4"/><circle cx="223.5" cy="740.7" r="3.4"/><circle cx="255.8" cy="760.5" r="3.4"/><circle cx="167.8" cy="739.7" r="3.4"/><circle cx="179.9" cy="745.5" r="3.4"/><circle cx="147.9" cy="749.8" r="3.4"/><circle cx="321.7" cy="758.4" r="3.4"/><circle cx="312.7" cy="746.8" r="3.4"/><circle cx="157.3" cy="730.9" r="3.4"/><circle cx="235.1" cy="757.5" r="3.4"/><circle cx="287.0" cy="728.3" r="3.4"/><circle cx="140.5" cy="723.0" r="3.4"/><circle cx="190.1" cy="743.2" r="3.4"/><circle cx="199.0" cy="734.0" r="3.4"/><circle cx="143.5" cy="720.4" r="3.4"/><circle cx="185.4" cy="737.8" r="3.4"/><circle cx="168.2" cy="733.1" r="3.4"/><circle cx="281.3" cy="731.8" r="3.4"/><circle cx="150.0" cy="740.8" r="3.4"/><circle cx="208.6" cy="723.1" r="3.4"/><circle cx="223.3" cy="763.8" r="3.4"/><circle cx="192.1" cy="747.3" r="3.4"/><circle cx="322.7" cy="764.3" r="3.4"/><circle cx="325.8" cy="761.0" r="3.4"/><circle cx="317.5" cy="727.2" r="3.4"/><circle cx="294.3" cy="743.2" r="3.4"/><circle cx="282.3" cy="739.7" r="3.4"/><circle cx="326.7" cy="749.5" r="3.4"/><circle cx="280.0" cy="729.9" r="3.4"/><circle cx="292.0" cy="731.6" r="3.4"/><circle cx="216.5" cy="747.7" r="3.4"/><circle cx="144.0" cy="725.9" r="3.4"/><circle cx="215.5" cy="741.8" r="3.4"/><circle cx="126.3" cy="755.0" r="3.4"/><circle cx="258.9" cy="737.5" r="3.4"/><circle cx="266.9" cy="732.6" r="3.4"/><circle cx="250.0" cy="766.0" r="3.4"/><circle cx="285.3" cy="753.1" r="3.4"/><circle cx="294.2" cy="757.3" r="3.4"/><circle cx="162.3" cy="742.0" r="3.4"/><circle cx="194.2" cy="728.3" r="3.4"/><circle cx="247.3" cy="756.2" r="3.4"/><circle cx="292.3" cy="719.8" r="3.4"/><circle cx="335.6" cy="743.8" r="3.4"/><circle cx="265.0" cy="717.5" r="3.4"/><circle cx="216.2" cy="718.9" r="3.4"/><circle cx="302.5" cy="725.6" r="3.4"/><circle cx="208.0" cy="729.1" r="3.4"/><circle cx="178.2" cy="732.2" r="3.4"/><circle cx="187.5" cy="728.4" r="3.4"/><circle cx="137.1" cy="746.1" r="3.4"/><circle cx="170.8" cy="720.5" r="3.4"/><circle cx="253.7" cy="764.2" r="3.4"/><circle cx="160.0" cy="726.4" r="3.4"/><circle cx="229.7" cy="724.6" r="3.4"/><circle cx="217.5" cy="754.5" r="3.4"/><circle cx="135.5" cy="727.2" r="3.4"/><circle cx="240.8" cy="737.1" r="3.4"/><circle cx="237.9" cy="761.4" r="3.4"/><circle cx="260.8" cy="738.2" r="3.4"/><circle cx="285.2" cy="747.1" r="3.4"/><circle cx="136.2" cy="719.2" r="3.4"/><circle cx="227.1" cy="726.4" r="3.4"/><circle cx="306.0" cy="763.5" r="3.4"/><circle cx="233.0" cy="719.3" r="3.4"/><circle cx="203.9" cy="760.4" r="3.4"/><circle cx="157.6" cy="762.3" r="3.4"/><circle cx="244.2" cy="719.0" r="3.4"/><circle cx="290.2" cy="757.2" r="3.4"/><circle cx="199.5" cy="756.4" r="3.4"/><circle cx="247.2" cy="741.0" r="3.4"/><circle cx="129.4" cy="760.4" r="3.4"/><circle cx="149.4" cy="760.6" r="3.4"/><circle cx="221.8" cy="745.9" r="3.4"/><circle cx="251.0" cy="735.1" r="3.4"/><circle cx="175.1" cy="755.5" r="3.4"/><circle cx="315.8" cy="731.3" r="3.4"/><circle cx="182.5" cy="746.9" r="3.4"/><circle cx="230.9" cy="728.9" r="3.4"/><circle cx="275.1" cy="756.6" r="3.4"/><circle cx="137.3" cy="730.2" r="3.4"/><circle cx="147.6" cy="764.8" r="3.4"/><circle cx="275.3" cy="764.3" r="3.4"/><circle cx="174.5" cy="721.3" r="3.4"/><circle cx="285.9" cy="719.4" r="3.4"/><circle cx="161.0" cy="745.9" r="3.4"/><circle cx="217.0" cy="728.2" r="3.4"/><circle cx="187.5" cy="758.9" r="3.4"/><circle cx="310.4" cy="757.4" r="3.4"/><circle cx="258.4" cy="725.1" r="3.4"/><circle cx="192.5" cy="739.1" r="3.4"/><circle cx="309.7" cy="753.1" r="3.4"/><circle cx="285.2" cy="763.1" r="3.4"/><circle cx="147.4" cy="739.6" r="3.4"/><circle cx="327.3" cy="726.1" r="3.4"/><circle cx="298.6" cy="748.5" r="3.4"/><circle cx="131.7" cy="727.0" r="3.4"/><circle cx="297.3" cy="759.4" r="3.4"/><circle cx="283.6" cy="729.1" r="3.4"/><circle cx="219.4" cy="755.2" r="3.4"/><circle cx="274.9" cy="733.6" r="3.4"/><circle cx="307.6" cy="744.2" r="3.4"/><circle cx="266.0" cy="726.4" r="3.4"/><circle cx="125.9" cy="733.8" r="3.4"/><circle cx="334.5" cy="747.9" r="3.4"/><circle cx="271.2" cy="739.3" r="3.4"/><circle cx="178.8" cy="740.1" r="3.4"/><circle cx="128.6" cy="745.0" r="3.4"/><circle cx="228.4" cy="760.2" r="3.4"/><circle cx="254.7" cy="725.1" r="3.4"/><circle cx="187.7" cy="741.3" r="3.4"/><circle cx="267.5" cy="747.1" r="3.4"/><circle cx="226.9" cy="764.5" r="3.4"/><circle cx="287.1" cy="758.3" r="3.4"/><circle cx="177.3" cy="749.2" r="3.4"/><circle cx="213.6" cy="727.3" r="3.4"/><circle cx="256.2" cy="744.2" r="3.4"/><circle cx="257.3" cy="763.3" r="3.4"/><circle cx="178.5" cy="763.5" r="3.4"/><circle cx="165.7" cy="742.8" r="3.4"/><circle cx="250.7" cy="757.3" r="3.4"/><circle cx="334.5" cy="728.0" r="3.4"/><circle cx="230.2" cy="732.7" r="3.4"/><circle cx="276.7" cy="760.0" r="3.4"/><circle cx="288.7" cy="752.0" r="3.4"/><circle cx="275.1" cy="740.1" r="3.4"/><circle cx="204.7" cy="744.8" r="3.4"/><circle cx="239.3" cy="732.3" r="3.4"/><circle cx="154.9" cy="720.4" r="3.4"/><circle cx="202.5" cy="741.0" r="3.4"/><circle cx="161.0" cy="722.9" r="3.4"/><circle cx="129.8" cy="753.0" r="3.4"/><circle cx="191.9" cy="753.6" r="3.4"/><circle cx="192.3" cy="724.8" r="3.4"/><circle cx="302.9" cy="741.3" r="3.4"/><circle cx="196.4" cy="741.3" r="3.4"/><circle cx="283.4" cy="744.5" r="3.4"/><circle cx="169.3" cy="744.5" r="3.4"/><circle cx="158.3" cy="754.1" r="3.4"/><circle cx="186.0" cy="731.6" r="3.4"/><circle cx="304.3" cy="730.1" r="3.4"/><circle cx="330.8" cy="741.0" r="3.4"/><circle cx="175.0" cy="749.7" r="3.4"/><circle cx="244.5" cy="723.5" r="3.4"/><circle cx="141.0" cy="747.6" r="3.4"/><circle cx="334.4" cy="732.0" r="3.4"/><circle cx="144.0" cy="764.8" r="3.4"/><circle cx="170.3" cy="758.7" r="3.4"/><circle cx="185.2" cy="717.9" r="3.4"/><circle cx="146.2" cy="726.4" r="3.4"/><circle cx="232.9" cy="722.7" r="3.4"/><circle cx="213.1" cy="747.2" r="3.4"/><circle cx="252.3" cy="760.5" r="3.4"/><circle cx="245.3" cy="728.4" r="3.4"/><circle cx="282.4" cy="724.1" r="3.4"/><circle cx="256.1" cy="729.3" r="3.4"/><circle cx="202.5" cy="725.5" r="3.4"/><circle cx="261.3" cy="745.8" r="3.4"/><circle cx="188.8" cy="746.8" r="3.4"/><circle cx="154.2" cy="754.9" r="3.4"/><circle cx="209.6" cy="738.8" r="3.4"/><circle cx="160.8" cy="762.5" r="3.4"/><circle cx="135.2" cy="741.9" r="3.4"/><circle cx="152.9" cy="730.4" r="3.4"/><circle cx="291.4" cy="761.9" r="3.4"/><circle cx="161.6" cy="753.2" r="3.4"/><circle cx="133.2" cy="738.4" r="3.4"/><circle cx="326.8" cy="765.0" r="3.4"/><circle cx="238.1" cy="727.9" r="3.4"/><circle cx="242.6" cy="743.0" r="3.4"/><circle cx="330.3" cy="734.8" r="3.4"/><circle cx="328.9" cy="760.7" r="3.4"/><circle cx="119.3" cy="733.6" r="3.4"/><circle cx="312.1" cy="723.5" r="3.4"/><circle cx="216.3" cy="738.2" r="3.4"/><circle cx="219.6" cy="749.0" r="3.4"/><circle cx="174.5" cy="725.6" r="3.4"/><circle cx="194.2" cy="743.4" r="3.4"/><circle cx="141.4" cy="727.9" r="3.4"/><circle cx="145.3" cy="760.5" r="3.4"/><circle cx="137.8" cy="727.1" r="3.4"/><circle cx="198.8" cy="725.0" r="3.4"/><circle cx="185.7" cy="747.1" r="3.4"/><circle cx="200.8" cy="760.1" r="3.4"/><circle cx="237.0" cy="752.7" r="3.4"/><circle cx="188.5" cy="761.8" r="3.4"/><circle cx="263.0" cy="757.0" r="3.4"/><circle cx="168.1" cy="718.2" r="3.4"/><circle cx="138.5" cy="757.3" r="3.4"/><circle cx="302.1" cy="764.8" r="3.4"/><circle cx="288.0" cy="737.5" r="3.4"/><circle cx="290.6" cy="726.6" r="3.4"/><circle cx="301.0" cy="729.7" r="3.4"/><circle cx="192.0" cy="733.6" r="3.4"/><circle cx="327.3" cy="720.7" r="3.4"/><circle cx="247.1" cy="750.1" r="3.4"/><circle cx="140.6" cy="761.4" r="3.4"/><circle cx="236.7" cy="723.2" r="3.4"/><circle cx="165.8" cy="757.8" r="3.4"/><circle cx="205.9" cy="722.9" r="3.4"/><circle cx="292.0" cy="737.4" r="3.4"/><circle cx="188.2" cy="719.2" r="3.4"/><circle cx="273.4" cy="759.2" r="3.4"/><circle cx="330.0" cy="724.2" r="3.4"/><circle cx="328.4" cy="745.7" r="3.4"/><circle cx="332.9" cy="718.4" r="3.4"/><circle cx="151.3" cy="724.9" r="3.4"/><circle cx="276.4" cy="746.0" r="3.4"/><circle cx="233.3" cy="762.0" r="3.4"/><circle cx="135.4" cy="757.6" r="3.4"/><circle cx="220.7" cy="758.5" r="3.4"/><circle cx="154.4" cy="724.6" r="3.4"/><circle cx="309.4" cy="718.9" r="3.4"/><circle cx="140.8" cy="754.7" r="3.4"/><circle cx="249.7" cy="729.2" r="3.4"/><circle cx="223.9" cy="755.6" r="3.4"/><circle cx="266.3" cy="741.7" r="3.4"/><circle cx="314.7" cy="742.5" r="3.4"/><circle cx="288.3" cy="746.6" r="3.4"/><circle cx="254.1" cy="738.8" r="3.4"/><circle cx="238.7" cy="757.4" r="3.4"/><circle cx="288.5" cy="761.9" r="3.4"/><circle cx="266.6" cy="756.9" r="3.4"/><circle cx="333.4" cy="739.0" r="3.4"/><circle cx="249.4" cy="760.4" r="3.4"/><circle cx="171.0" cy="763.7" r="3.4"/><circle cx="230.0" cy="747.8" r="3.4"/><circle cx="157.0" cy="760.0" r="3.4"/><circle cx="209.1" cy="762.0" r="3.4"/><circle cx="200.2" cy="744.6" r="3.4"/><circle cx="317.6" cy="757.7" r="3.4"/><circle cx="307.0" cy="729.4" r="3.4"/><circle cx="325.2" cy="744.7" r="3.4"/><circle cx="162.1" cy="737.3" r="3.4"/><circle cx="212.7" cy="718.4" r="3.4"/><circle cx="271.3" cy="732.7" r="3.4"/><circle cx="131.8" cy="758.9" r="3.4"/><circle cx="214.5" cy="757.0" r="3.4"/><circle cx="257.6" cy="754.2" r="3.4"/><circle cx="136.1" cy="722.0" r="3.4"/><circle cx="215.8" cy="723.8" r="3.4"/><circle cx="243.0" cy="732.5" r="3.4"/><circle cx="129.7" cy="739.1" r="3.4"/><circle cx="173.3" cy="745.0" r="3.4"/><circle cx="210.0" cy="746.8" r="3.4"/><circle cx="211.0" cy="740.7" r="3.4"/><circle cx="230.5" cy="755.2" r="3.4"/><circle cx="172.9" cy="760.3" r="3.4"/><circle cx="245.1" cy="744.0" r="3.4"/><circle cx="333.2" cy="722.9" r="3.4"/><circle cx="196.2" cy="721.9" r="3.4"/><circle cx="182.0" cy="740.1" r="3.4"/><circle cx="311.0" cy="728.0" r="3.4"/><circle cx="288.5" cy="731.1" r="3.4"/><circle cx="330.2" cy="748.8" r="3.4"/><circle cx="185.9" cy="723.0" r="3.4"/><circle cx="292.0" cy="752.5" r="3.4"/><circle cx="163.3" cy="757.9" r="3.4"/><circle cx="306.2" cy="740.1" r="3.4"/><circle cx="305.9" cy="724.8" r="3.4"/><circle cx="205.9" cy="732.1" r="3.4"/><circle cx="197.9" cy="760.9" r="3.4"/><circle cx="323.4" cy="748.3" r="3.4"/><circle cx="240.5" cy="746.5" r="3.4"/><circle cx="235.5" cy="727.5" r="3.4"/><circle cx="283.3" cy="759.0" r="3.4"/><circle cx="148.3" cy="744.9" r="3.4"/><circle cx="217.7" cy="741.6" r="3.4"/><circle cx="278.1" cy="734.4" r="3.4"/><circle cx="197.5" cy="765.0" r="3.4"/><circle cx="320.0" cy="762.8" r="3.4"/><circle cx="154.5" cy="739.1" r="3.4"/><circle cx="250.8" cy="741.6" r="3.4"/><circle cx="259.0" cy="758.0" r="3.4"/><circle cx="219.5" cy="738.9" r="3.4"/><circle cx="171.8" cy="741.6" r="3.4"/><circle cx="174.8" cy="740.0" r="3.4"/><circle cx="161.3" cy="731.4" r="3.4"/><circle cx="294.8" cy="732.0" r="3.4"/><circle cx="164.5" cy="738.7" r="3.4"/><circle cx="279.4" cy="744.9" r="3.4"/><circle cx="174.3" cy="765.1" r="3.4"/><circle cx="333.3" cy="762.4" r="3.4"/><circle cx="195.5" cy="748.9" r="3.4"/><circle cx="143.9" cy="733.9" r="3.4"/><circle cx="232.6" cy="744.2" r="3.4"/><circle cx="315.9" cy="737.6" r="3.4"/><circle cx="167.9" cy="725.1" r="3.4"/><circle cx="302.8" cy="749.3" r="3.4"/><circle cx="245.2" cy="759.1" r="3.4"/><circle cx="199.3" cy="748.9" r="3.4"/><circle cx="314.0" cy="727.1" r="3.4"/><circle cx="204.9" cy="748.0" r="3.4"/><circle cx="304.3" cy="759.7" r="3.4"/><circle cx="309.6" cy="732.1" r="3.4"/><circle cx="197.4" cy="744.4" r="3.4"/><circle cx="183.0" cy="726.8" r="3.4"/><circle cx="188.4" cy="753.2" r="3.4"/><circle cx="140.2" cy="740.4" r="3.4"/><circle cx="320.3" cy="749.1" r="3.4"/><circle cx="302.0" cy="733.6" r="3.4"/><circle cx="301.0" cy="760.0" r="3.4"/><circle cx="151.3" cy="747.8" r="3.4"/><circle cx="282.5" cy="749.0" r="3.4"/><circle cx="225.9" cy="756.4" r="3.4"/><circle cx="174.6" cy="733.5" r="3.4"/><circle cx="232.3" cy="758.6" r="3.4"/><circle cx="321.2" cy="743.8" r="3.4"/><circle cx="189.0" cy="722.4" r="3.4"/><circle cx="158.3" cy="738.1" r="3.4"/><circle cx="150.8" cy="764.0" r="3.4"/><circle cx="265.4" cy="737.7" r="3.4"/><circle cx="228.9" cy="729.8" r="3.4"/><circle cx="309.0" cy="762.2" r="3.4"/><circle cx="170.9" cy="726.6" r="3.4"/><circle cx="235.3" cy="743.4" r="3.4"/><circle cx="180.2" cy="728.6" r="3.4"/><circle cx="316.0" cy="747.0" r="3.4"/><circle cx="306.8" cy="734.0" r="3.4"/><circle cx="182.3" cy="722.9" r="3.4"/><circle cx="162.6" cy="726.3" r="3.4"/><circle cx="253.1" cy="748.9" r="3.4"/><circle cx="195.3" cy="733.2" r="3.4"/><circle cx="211.4" cy="727.4" r="3.4"/><circle cx="320.5" cy="723.2" r="3.4"/><circle cx="279.6" cy="761.1" r="3.4"/><circle cx="302.8" cy="756.3" r="3.4"/><circle cx="311.5" cy="743.4" r="3.4"/><circle cx="298.8" cy="740.9" r="3.4"/><circle cx="183.0" cy="742.6" r="3.4"/><circle cx="202.4" cy="764.6" r="3.4"/><circle cx="261.7" cy="753.9" r="3.4"/><circle cx="307.5" cy="759.9" r="3.4"/><circle cx="121.3" cy="761.0" r="3.4"/><circle cx="304.8" cy="745.7" r="3.4"/><circle cx="223.4" cy="726.1" r="3.4"/><circle cx="202.8" cy="748.3" r="3.4"/><circle cx="271.2" cy="721.4" r="3.4"/><circle cx="319.4" cy="754.6" r="3.4"/><circle cx="277.1" cy="729.8" r="3.4"/><circle cx="311.9" cy="730.6" r="3.4"/><circle cx="181.6" cy="716.8" r="3.4"/><circle cx="285.6" cy="723.1" r="3.4"/><circle cx="176.6" cy="744.8" r="3.4"/><circle cx="233.4" cy="753.4" r="3.4"/><circle cx="121.0" cy="730.1" r="3.4"/><circle cx="271.1" cy="725.2" r="3.4"/><circle cx="319.6" cy="739.3" r="3.4"/><circle cx="136.7" cy="761.8" r="3.4"/><circle cx="161.0" cy="718.0" r="3.4"/><circle cx="326.8" cy="733.5" r="3.4"/><circle cx="323.4" cy="725.2" r="3.4"/><circle cx="137.1" cy="753.9" r="3.4"/><circle cx="273.5" cy="744.1" r="3.4"/><circle cx="271.5" cy="756.1" r="3.4"/><circle cx="177.8" cy="720.6" r="3.4"/><circle cx="290.4" cy="742.0" r="3.4"/><circle cx="292.2" cy="722.5" r="3.4"/><circle cx="175.6" cy="759.8" r="3.4"/><circle cx="265.0" cy="747.2" r="3.4"/><circle cx="190.0" cy="726.2" r="3.4"/><circle cx="264.8" cy="721.4" r="3.4"/><circle cx="310.3" cy="747.8" r="3.4"/><circle cx="132.6" cy="730.1" r="3.4"/><circle cx="317.3" cy="762.3" r="3.4"/><circle cx="247.3" cy="733.8" r="3.4"/><circle cx="156.7" cy="723.1" r="3.4"/><circle cx="323.1" cy="739.3" r="3.4"/><circle cx="274.8" cy="748.8" r="3.4"/><circle cx="263.2" cy="727.7" r="3.4"/><circle cx="244.4" cy="754.9" r="3.4"/><circle cx="147.1" cy="722.3" r="3.4"/><circle cx="128.0" cy="728.6" r="3.4"/><circle cx="260.9" cy="730.9" r="3.4"/><circle cx="159.7" cy="757.8" r="3.4"/><circle cx="216.9" cy="761.9" r="3.4"/>
</g>
<g class="b3">
<circle cx="261.1" cy="728.8" r="1.9"/><circle cx="201.9" cy="726.5" r="1.9"/><circle cx="158.7" cy="728.8" r="1.9"/><circle cx="201.9" cy="741.4" r="1.9"/><circle cx="329.9" cy="741.4" r="1.9"/><circle cx="261.1" cy="744.2" r="1.9"/><circle cx="227.5" cy="741.3" r="1.9"/><circle cx="201.9" cy="756.9" r="1.9"/><circle cx="329.9" cy="726.2" r="1.9"/><circle cx="278.7" cy="756.7" r="1.9"/><circle cx="261.1" cy="759.5" r="1.9"/><circle cx="125.1" cy="757.1" r="1.9"/><circle cx="312.3" cy="759.5" r="1.9"/><circle cx="209.9" cy="728.8" r="1.9"/><circle cx="312.3" cy="744.2" r="1.9"/><circle cx="253.1" cy="757.3" r="1.9"/><circle cx="227.5" cy="756.7" r="1.9"/><circle cx="253.1" cy="741.9" r="1.9"/><circle cx="158.7" cy="759.5" r="1.9"/><circle cx="209.9" cy="759.5" r="1.9"/><circle cx="176.3" cy="726.0" r="1.9"/><circle cx="150.7" cy="741.6" r="1.9"/><circle cx="150.7" cy="726.3" r="1.9"/><circle cx="278.7" cy="741.9" r="1.9"/><circle cx="278.7" cy="726.1" r="1.9"/><circle cx="227.5" cy="726.1" r="1.9"/><circle cx="304.3" cy="742.0" r="1.9"/><circle cx="304.3" cy="757.1" r="1.9"/><circle cx="176.3" cy="757.6" r="1.9"/><circle cx="125.1" cy="741.7" r="1.9"/><circle cx="312.3" cy="728.8" r="1.9"/><circle cx="158.7" cy="744.2" r="1.9"/><circle cx="125.1" cy="726.3" r="1.9"/><circle cx="209.9" cy="744.2" r="1.9"/><circle cx="176.3" cy="741.2" r="1.9"/><circle cx="150.7" cy="757.2" r="1.9"/><circle cx="329.9" cy="757.1" r="1.9"/><circle cx="253.1" cy="726.7" r="1.9"/><circle cx="304.3" cy="726.6" r="1.9"/>
</g></g><g stroke="#333" stroke-width="0.9" opacity="0.75"><line x1="116.1" y1="722.3" x2="336.3" y2="722.3"/><line x1="116.1" y1="737.7" x2="336.3" y2="737.7"/><line x1="116.1" y1="753.0" x2="336.3" y2="753.0"/><line x1="116.1" y1="768.4" x2="336.3" y2="768.4"/><line x1="116.1" y1="722.3" x2="116.1" y2="768.4"/><line x1="141.9" y1="722.3" x2="141.9" y2="768.4"/><line x1="167.4" y1="722.3" x2="167.4" y2="768.4"/><line x1="183.7" y1="722.3" x2="183.7" y2="768.4"/><line x1="232" y1="722.3" x2="232" y2="768.4"/><line x1="258" y1="722.3" x2="258" y2="768.4"/><line x1="336.3" y1="722.3" x2="336.3" y2="768.4"/></g><g filter="url(#soft)"><g class="c">
<circle cx="510.3" cy="705.9" r="3.3"/><circle cx="582.7" cy="678.0" r="3.3"/><circle cx="514.5" cy="675.7" r="3.3"/><circle cx="533.0" cy="685.1" r="3.3"/><circle cx="510.3" cy="689.0" r="3.3"/><circle cx="604.7" cy="714.9" r="3.3"/><circle cx="502.4" cy="709.6" r="3.3"/><circle cx="624.1" cy="686.2" r="3.3"/><circle cx="543.8" cy="677.3" r="3.3"/><circle cx="567.6" cy="744.3" r="3.3"/><circle cx="507.1" cy="680.3" r="3.3"/><circle cx="464.4" cy="743.2" r="3.3"/><circle cx="533.4" cy="680.3" r="3.3"/><circle cx="494.6" cy="738.8" r="3.3"/><circle cx="598.3" cy="678.0" r="3.3"/><circle cx="555.5" cy="681.1" r="3.3"/><circle cx="490.3" cy="689.8" r="3.3"/><circle cx="616.3" cy="684.6" r="3.3"/><circle cx="472.2" cy="676.5" r="3.3"/><circle cx="528.4" cy="743.5" r="3.3"/><circle cx="583.4" cy="692.8" r="3.3"/><circle cx="537.5" cy="739.8" r="3.3"/><circle cx="610.1" cy="677.2" r="3.3"/><circle cx="498.4" cy="686.0" r="3.3"/><circle cx="605.2" cy="743.6" r="3.3"/><circle cx="620.8" cy="684.1" r="3.3"/><circle cx="575.1" cy="677.3" r="3.3"/><circle cx="625.0" cy="713.5" r="3.3"/><circle cx="624.0" cy="747.0" r="3.3"/><circle cx="491.0" cy="738.6" r="3.3"/><circle cx="480.2" cy="676.1" r="3.3"/><circle cx="511.2" cy="750.6" r="3.3"/><circle cx="620.2" cy="713.6" r="3.3"/><circle cx="594.1" cy="738.7" r="3.3"/><circle cx="487.4" cy="750.6" r="3.3"/><circle cx="598.3" cy="681.5" r="3.3"/><circle cx="517.6" cy="751.1" r="3.3"/><circle cx="612.5" cy="681.5" r="3.3"/><circle cx="589.8" cy="743.1" r="3.3"/><circle cx="506.6" cy="738.9" r="3.3"/><circle cx="567.1" cy="739.4" r="3.3"/><circle cx="606.2" cy="710.0" r="3.3"/><circle cx="502.2" cy="743.1" r="3.3"/><circle cx="487.3" cy="743.7" r="3.3"/><circle cx="498.2" cy="693.4" r="3.3"/><circle cx="485.1" cy="680.7" r="3.3"/><circle cx="456.6" cy="680.9" r="3.3"/><circle cx="580.0" cy="738.4" r="3.3"/><circle cx="601.6" cy="717.8" r="3.3"/><circle cx="497.5" cy="721.3" r="3.3"/><circle cx="463.6" cy="709.3" r="3.3"/><circle cx="494.4" cy="706.2" r="3.3"/><circle cx="525.7" cy="750.2" r="3.3"/><circle cx="469.0" cy="738.6" r="3.3"/><circle cx="498.4" cy="739.6" r="3.3"/><circle cx="478.9" cy="718.1" r="3.3"/><circle cx="544.2" cy="717.5" r="3.3"/><circle cx="623.7" cy="710.4" r="3.3"/><circle cx="624.2" cy="688.9" r="3.3"/><circle cx="623.2" cy="742.3" r="3.3"/><circle cx="513.6" cy="688.9" r="3.3"/><circle cx="496.1" cy="742.2" r="3.3"/><circle cx="621.1" cy="696.4" r="3.3"/><circle cx="613.1" cy="718.0" r="3.3"/><circle cx="563.5" cy="696.1" r="3.3"/><circle cx="521.2" cy="684.6" r="3.3"/><circle cx="465.1" cy="707.0" r="3.3"/><circle cx="486.9" cy="710.9" r="3.3"/><circle cx="583.7" cy="739.2" r="3.3"/><circle cx="549.0" cy="689.0" r="3.3"/><circle cx="490.9" cy="691.8" r="3.3"/><circle cx="518.9" cy="684.4" r="3.3"/><circle cx="514.5" cy="716.2" r="3.3"/><circle cx="616.3" cy="708.2" r="3.3"/><circle cx="487.5" cy="746.4" r="3.3"/><circle cx="491.9" cy="677.9" r="3.3"/><circle cx="555.8" cy="685.6" r="3.3"/><circle cx="567.2" cy="718.5" r="3.3"/><circle cx="601.8" cy="709.6" r="3.3"/><circle cx="616.4" cy="677.0" r="3.3"/><circle cx="597.1" cy="691.3" r="3.3"/><circle cx="479.2" cy="688.3" r="3.3"/><circle cx="495.0" cy="752.4" r="3.3"/><circle cx="560.4" cy="692.7" r="3.3"/><circle cx="484.9" cy="743.4" r="3.3"/><circle cx="566.7" cy="692.0" r="3.3"/><circle cx="521.2" cy="738.9" r="3.3"/><circle cx="556.7" cy="690.8" r="3.3"/><circle cx="504.2" cy="753.8" r="3.3"/><circle cx="578.3" cy="750.2" r="3.3"/><circle cx="465.1" cy="684.8" r="3.3"/><circle cx="486.7" cy="718.2" r="3.3"/><circle cx="563.4" cy="682.9" r="3.3"/><circle cx="593.6" cy="684.5" r="3.3"/><circle cx="586.9" cy="714.8" r="3.3"/><circle cx="544.9" cy="739.1" r="3.3"/><circle cx="456.0" cy="717.3" r="3.3"/><circle cx="541.0" cy="677.4" r="3.3"/><circle cx="549.2" cy="710.8" r="3.3"/><circle cx="494.9" cy="710.7" r="3.3"/><circle cx="548.6" cy="735.6" r="3.3"/><circle cx="471.9" cy="738.3" r="3.3"/><circle cx="458.0" cy="710.7" r="3.3"/><circle cx="624.4" cy="695.3" r="3.3"/><circle cx="503.5" cy="724.6" r="3.3"/><circle cx="552.0" cy="681.0" r="3.3"/><circle cx="524.9" cy="742.5" r="3.3"/><circle cx="514.0" cy="706.8" r="3.3"/><circle cx="475.5" cy="710.2" r="3.3"/><circle cx="586.9" cy="706.3" r="3.3"/><circle cx="476.4" cy="743.1" r="3.3"/><circle cx="513.6" cy="739.3" r="3.3"/><circle cx="483.5" cy="739.2" r="3.3"/><circle cx="563.0" cy="707.0" r="3.3"/><circle cx="574.5" cy="693.1" r="3.3"/><circle cx="461.5" cy="677.1" r="3.3"/><circle cx="517.8" cy="735.1" r="3.3"/><circle cx="499.8" cy="743.6" r="3.3"/><circle cx="465.9" cy="714.0" r="3.3"/><circle cx="486.8" cy="706.3" r="3.3"/><circle cx="567.4" cy="689.0" r="3.3"/><circle cx="532.3" cy="713.7" r="3.3"/><circle cx="616.8" cy="747.1" r="3.3"/><circle cx="483.7" cy="721.4" r="3.3"/><circle cx="612.9" cy="720.8" r="3.3"/><circle cx="524.5" cy="738.3" r="3.3"/><circle cx="553.0" cy="714.7" r="3.3"/><circle cx="578.8" cy="706.5" r="3.3"/><circle cx="585.5" cy="682.5" r="3.3"/><circle cx="502.6" cy="734.9" r="3.3"/><circle cx="539.7" cy="742.3" r="3.3"/><circle cx="509.5" cy="693.2" r="3.3"/><circle cx="578.3" cy="692.1" r="3.3"/><circle cx="495.2" cy="693.2" r="3.3"/><circle cx="548.6" cy="678.3" r="3.3"/><circle cx="521.3" cy="750.4" r="3.3"/><circle cx="488.4" cy="739.3" r="3.3"/><circle cx="468.0" cy="688.2" r="3.3"/><circle cx="582.3" cy="711.0" r="3.3"/><circle cx="529.7" cy="683.7" r="3.3"/><circle cx="499.9" cy="709.7" r="3.3"/><circle cx="620.3" cy="711.1" r="3.3"/><circle cx="522.4" cy="713.3" r="3.3"/><circle cx="601.3" cy="676.5" r="3.3"/><circle cx="457.2" cy="744.2" r="3.3"/><circle cx="601.1" cy="746.8" r="3.3"/><circle cx="521.8" cy="692.0" r="3.3"/><circle cx="563.1" cy="743.2" r="3.3"/><circle cx="596.7" cy="713.1" r="3.3"/><circle cx="555.9" cy="742.7" r="3.3"/><circle cx="597.8" cy="723.0" r="3.3"/><circle cx="560.2" cy="681.8" r="3.3"/><circle cx="482.9" cy="716.9" r="3.3"/><circle cx="506.1" cy="696.7" r="3.3"/><circle cx="484.7" cy="750.1" r="3.3"/><circle cx="613.0" cy="742.4" r="3.3"/><circle cx="507.5" cy="677.5" r="3.3"/><circle cx="612.7" cy="706.9" r="3.3"/><circle cx="518.5" cy="716.8" r="3.3"/><circle cx="602.0" cy="742.0" r="3.3"/><circle cx="552.8" cy="735.8" r="3.3"/><circle cx="510.9" cy="713.7" r="3.3"/><circle cx="469.1" cy="710.8" r="3.3"/><circle cx="571.7" cy="691.8" r="3.3"/><circle cx="620.6" cy="725.7" r="3.3"/><circle cx="608.5" cy="750.5" r="3.3"/><circle cx="564.5" cy="710.0" r="3.3"/><circle cx="578.6" cy="742.5" r="3.3"/><circle cx="605.0" cy="706.6" r="3.3"/><circle cx="566.9" cy="696.0" r="3.3"/><circle cx="611.7" cy="677.7" r="3.3"/><circle cx="484.7" cy="687.8" r="3.3"/><circle cx="460.1" cy="750.6" r="3.3"/><circle cx="502.7" cy="715.4" r="3.3"/><circle cx="596.7" cy="734.6" r="3.3"/><circle cx="609.2" cy="739.9" r="3.3"/><circle cx="609.1" cy="717.8" r="3.3"/><circle cx="589.9" cy="677.6" r="3.3"/><circle cx="563.6" cy="721.0" r="3.3"/><circle cx="461.3" cy="721.4" r="3.3"/><circle cx="497.9" cy="689.9" r="3.3"/><circle cx="532.5" cy="679.2" r="3.3"/><circle cx="625.4" cy="750.9" r="3.3"/><circle cx="480.1" cy="712.5" r="3.3"/><circle cx="583.4" cy="719.2" r="3.3"/><circle cx="620.2" cy="747.7" r="3.3"/><circle cx="545.2" cy="683.1" r="3.3"/><circle cx="593.8" cy="710.4" r="3.3"/><circle cx="571.5" cy="708.9" r="3.3"/><circle cx="601.8" cy="736.2" r="3.3"/><circle cx="472.2" cy="710.0" r="3.3"/><circle cx="510.5" cy="734.7" r="3.3"/><circle cx="597.4" cy="717.6" r="3.3"/><circle cx="491.1" cy="719.3" r="3.3"/><circle cx="553.1" cy="706.0" r="3.3"/><circle cx="552.6" cy="721.9" r="3.3"/><circle cx="613.1" cy="750.8" r="3.3"/><circle cx="541.3" cy="723.3" r="3.3"/><circle cx="518.1" cy="681.2" r="3.3"/><circle cx="510.8" cy="718.1" r="3.3"/><circle cx="459.4" cy="736.3" r="3.3"/><circle cx="529.1" cy="707.6" r="3.3"/><circle cx="504.0" cy="705.9" r="3.3"/><circle cx="575.2" cy="711.2" r="3.3"/><circle cx="608.7" cy="708.7" r="3.3"/><circle cx="502.0" cy="717.9" r="3.3"/><circle cx="556.1" cy="722.2" r="3.3"/><circle cx="567.2" cy="713.4" r="3.3"/><circle cx="616.5" cy="718.0" r="3.3"/><circle cx="608.5" cy="734.1" r="3.3"/><circle cx="495.4" cy="677.2" r="3.3"/><circle cx="571.1" cy="751.0" r="3.3"/><circle cx="515.4" cy="721.2" r="3.3"/><circle cx="457.5" cy="738.6" r="3.3"/><circle cx="597.1" cy="746.3" r="3.3"/><circle cx="620.8" cy="682.7" r="3.3"/><circle cx="571.8" cy="713.8" r="3.3"/><circle cx="540.9" cy="739.3" r="3.3"/><circle cx="506.4" cy="684.4" r="3.3"/><circle cx="460.6" cy="706.5" r="3.3"/><circle cx="518.1" cy="743.5" r="3.3"/><circle cx="578.4" cy="686.1" r="3.3"/><circle cx="544.5" cy="750.0" r="3.3"/><circle cx="510.4" cy="726.5" r="3.3"/><circle cx="541.5" cy="686.0" r="3.3"/><circle cx="518.1" cy="678.1" r="3.3"/><circle cx="616.2" cy="724.6" r="3.3"/><circle cx="566.9" cy="677.0" r="3.3"/><circle cx="555.4" cy="714.7" r="3.3"/><circle cx="460.3" cy="746.5" r="3.3"/><circle cx="518.6" cy="722.3" r="3.3"/><circle cx="598.2" cy="706.5" r="3.3"/><circle cx="522.4" cy="717.7" r="3.3"/><circle cx="529.1" cy="711.0" r="3.3"/><circle cx="617.3" cy="736.3" r="3.3"/><circle cx="601.1" cy="692.7" r="3.3"/><circle cx="469.3" cy="718.2" r="3.3"/><circle cx="567.9" cy="711.9" r="3.3"/><circle cx="525.6" cy="718.2" r="3.3"/><circle cx="506.2" cy="693.1" r="3.3"/><circle cx="526.1" cy="711.1" r="3.3"/><circle cx="502.9" cy="697.1" r="3.3"/><circle cx="548.4" cy="740.1" r="3.3"/><circle cx="574.6" cy="680.8" r="3.3"/><circle cx="559.4" cy="719.1" r="3.3"/><circle cx="543.8" cy="711.2" r="3.3"/><circle cx="609.3" cy="680.1" r="3.3"/><circle cx="529.1" cy="713.5" r="3.3"/><circle cx="555.6" cy="688.9" r="3.3"/><circle cx="469.0" cy="684.2" r="3.3"/><circle cx="466.0" cy="747.6" r="3.3"/><circle cx="564.0" cy="678.3" r="3.3"/><circle cx="514.0" cy="750.8" r="3.3"/><circle cx="469.1" cy="692.9" r="3.3"/><circle cx="522.7" cy="721.1" r="3.3"/><circle cx="616.2" cy="739.5" r="3.3"/><circle cx="500.5" cy="713.7" r="3.3"/><circle cx="502.9" cy="739.8" r="3.3"/><circle cx="530.1" cy="677.1" r="3.3"/><circle cx="548.1" cy="751.1" r="3.3"/><circle cx="581.7" cy="721.0" r="3.3"/><circle cx="491.3" cy="680.9" r="3.3"/><circle cx="475.0" cy="676.4" r="3.3"/><circle cx="590.5" cy="739.7" r="3.3"/><circle cx="483.0" cy="683.3" r="3.3"/><circle cx="478.9" cy="711.3" r="3.3"/><circle cx="560.4" cy="753.7" r="3.3"/><circle cx="586.9" cy="681.2" r="3.3"/><circle cx="461.7" cy="711.6" r="3.3"/><circle cx="540.6" cy="707.2" r="3.3"/><circle cx="513.2" cy="742.5" r="3.3"/><circle cx="518.2" cy="688.6" r="3.3"/><circle cx="471.8" cy="684.3" r="3.3"/><circle cx="554.7" cy="739.9" r="3.3"/><circle cx="509.9" cy="748.6" r="3.3"/><circle cx="465.2" cy="721.0" r="3.3"/><circle cx="480.4" cy="680.2" r="3.3"/><circle cx="616.9" cy="688.3" r="3.3"/><circle cx="496.0" cy="713.5" r="3.3"/><circle cx="597.5" cy="685.2" r="3.3"/><circle cx="537.7" cy="743.1" r="3.3"/><circle cx="574.9" cy="750.0" r="3.3"/><circle cx="585.8" cy="740.3" r="3.3"/><circle cx="487.5" cy="680.6" r="3.3"/><circle cx="593.9" cy="681.5" r="3.3"/><circle cx="624.5" cy="677.9" r="3.3"/><circle cx="605.2" cy="737.0" r="3.3"/><circle cx="609.4" cy="713.7" r="3.3"/><circle cx="621.5" cy="707.0" r="3.3"/><circle cx="593.5" cy="746.1" r="3.3"/><circle cx="483.9" cy="714.2" r="3.3"/><circle cx="473.0" cy="743.4" r="3.3"/><circle cx="471.6" cy="681.1" r="3.3"/><circle cx="551.6" cy="746.6" r="3.3"/><circle cx="541.8" cy="693.0" r="3.3"/><circle cx="545.4" cy="715.2" r="3.3"/><circle cx="574.0" cy="738.4" r="3.3"/><circle cx="564.4" cy="751.9" r="3.3"/><circle cx="601.0" cy="750.7" r="3.3"/><circle cx="537.2" cy="746.0" r="3.3"/><circle cx="612.9" cy="746.8" r="3.3"/><circle cx="499.0" cy="734.6" r="3.3"/><circle cx="492.0" cy="721.0" r="3.3"/><circle cx="491.4" cy="750.5" r="3.3"/><circle cx="555.9" cy="705.8" r="3.3"/><circle cx="514.7" cy="679.2" r="3.3"/><circle cx="499.4" cy="678.4" r="3.3"/><circle cx="506.8" cy="711.3" r="3.3"/><circle cx="517.4" cy="706.0" r="3.3"/><circle cx="579.4" cy="722.4" r="3.3"/><circle cx="583.3" cy="680.8" r="3.3"/><circle cx="571.9" cy="680.9" r="3.3"/><circle cx="560.5" cy="725.4" r="3.3"/><circle cx="502.9" cy="685.5" r="3.3"/><circle cx="521.7" cy="681.1" r="3.3"/><circle cx="487.7" cy="735.5" r="3.3"/><circle cx="457.0" cy="689.1" r="3.3"/><circle cx="460.5" cy="689.9" r="3.3"/><circle cx="544.3" cy="746.8" r="3.3"/><circle cx="537.1" cy="711.2" r="3.3"/><circle cx="510.5" cy="739.0" r="3.3"/><circle cx="532.5" cy="710.7" r="3.3"/><circle cx="582.5" cy="713.8" r="3.3"/><circle cx="603.5" cy="717.8" r="3.3"/><circle cx="461.4" cy="685.9" r="3.3"/><circle cx="514.7" cy="734.5" r="3.3"/><circle cx="468.6" cy="742.9" r="3.3"/><circle cx="522.6" cy="747.0" r="3.3"/><circle cx="589.3" cy="713.5" r="3.3"/><circle cx="506.0" cy="743.0" r="3.3"/><circle cx="575.4" cy="685.2" r="3.3"/><circle cx="494.4" cy="717.5" r="3.3"/><circle cx="479.1" cy="747.3" r="3.3"/><circle cx="483.5" cy="707.1" r="3.3"/><circle cx="495.4" cy="721.6" r="3.3"/><circle cx="529.4" cy="680.9" r="3.3"/><circle cx="529.1" cy="735.7" r="3.3"/><circle cx="601.1" cy="687.3" r="3.3"/><circle cx="548.8" cy="681.1" r="3.3"/><circle cx="589.5" cy="684.3" r="3.3"/><circle cx="524.2" cy="736.0" r="3.3"/><circle cx="476.3" cy="714.3" r="3.3"/><circle cx="529.9" cy="740.0" r="3.3"/><circle cx="468.1" cy="751.3" r="3.3"/><circle cx="605.9" cy="720.9" r="3.3"/><circle cx="536.5" cy="717.9" r="3.3"/><circle cx="559.8" cy="714.5" r="3.3"/><circle cx="608.4" cy="706.2" r="3.3"/><circle cx="586.7" cy="677.2" r="3.3"/><circle cx="525.4" cy="692.3" r="3.3"/><circle cx="612.5" cy="738.7" r="3.3"/><circle cx="552.6" cy="687.8" r="3.3"/><circle cx="465.4" cy="749.3" r="3.3"/><circle cx="468.9" cy="707.0" r="3.3"/><circle cx="624.7" cy="682.3" r="3.3"/><circle cx="548.5" cy="722.6" r="3.3"/><circle cx="602.2" cy="684.8" r="3.3"/><circle cx="594.5" cy="743.1" r="3.3"/><circle cx="608.1" cy="685.7" r="3.3"/><circle cx="602.3" cy="721.2" r="3.3"/><circle cx="560.2" cy="743.0" r="3.3"/><circle cx="492.3" cy="684.3" r="3.3"/><circle cx="605.7" cy="682.2" r="3.3"/><circle cx="567.4" cy="722.9" r="3.3"/><circle cx="541.1" cy="711.9" r="3.3"/><circle cx="461.0" cy="718.3" r="3.3"/><circle cx="559.9" cy="685.2" r="3.3"/><circle cx="548.3" cy="692.4" r="3.3"/><circle cx="488.0" cy="677.9" r="3.3"/><circle cx="567.6" cy="735.5" r="3.3"/><circle cx="499.4" cy="718.4" r="3.3"/><circle cx="536.7" cy="677.0" r="3.3"/><circle cx="612.4" cy="693.0" r="3.3"/><circle cx="586.5" cy="735.8" r="3.3"/><circle cx="541.9" cy="718.8" r="3.3"/><circle cx="525.3" cy="688.6" r="3.3"/><circle cx="569.9" cy="717.2" r="3.3"/><circle cx="608.9" cy="691.7" r="3.3"/><circle cx="559.9" cy="695.6" r="3.3"/><circle cx="469.5" cy="721.7" r="3.3"/><circle cx="562.7" cy="739.2" r="3.3"/><circle cx="556.5" cy="747.5" r="3.3"/><circle cx="525.5" cy="677.2" r="3.3"/><circle cx="456.8" cy="706.6" r="3.3"/><circle cx="483.9" cy="710.4" r="3.3"/><circle cx="457.2" cy="734.6" r="3.3"/><circle cx="597.9" cy="710.5" r="3.3"/><circle cx="536.2" cy="684.2" r="3.3"/><circle cx="464.1" cy="681.4" r="3.3"/><circle cx="509.6" cy="722.0" r="3.3"/><circle cx="541.2" cy="681.7" r="3.3"/><circle cx="568.2" cy="727.0" r="3.3"/><circle cx="624.1" cy="739.1" r="3.3"/><circle cx="559.5" cy="722.0" r="3.3"/><circle cx="490.4" cy="743.8" r="3.3"/><circle cx="491.0" cy="714.7" r="3.3"/><circle cx="502.9" cy="677.9" r="3.3"/><circle cx="509.9" cy="683.6" r="3.3"/><circle cx="537.6" cy="705.3" r="3.3"/><circle cx="461.2" cy="738.7" r="3.3"/><circle cx="616.0" cy="754.2" r="3.3"/><circle cx="563.5" cy="755.0" r="3.3"/><circle cx="606.4" cy="685.9" r="3.3"/><circle cx="624.2" cy="692.6" r="3.3"/><circle cx="571.7" cy="743.6" r="3.3"/><circle cx="572.2" cy="735.8" r="3.3"/><circle cx="552.1" cy="709.5" r="3.3"/><circle cx="571.6" cy="678.4" r="3.3"/><circle cx="537.3" cy="688.4" r="3.3"/><circle cx="487.5" cy="692.2" r="3.3"/><circle cx="593.9" cy="689.0" r="3.3"/><circle cx="505.5" cy="717.8" r="3.3"/><circle cx="616.7" cy="697.2" r="3.3"/><circle cx="579.1" cy="688.5" r="3.3"/><circle cx="476.3" cy="685.6" r="3.3"/><circle cx="564.9" cy="717.3" r="3.3"/><circle cx="503.1" cy="747.7" r="3.3"/><circle cx="505.9" cy="724.5" r="3.3"/><circle cx="548.4" cy="717.6" r="3.3"/><circle cx="502.9" cy="682.0" r="3.3"/><circle cx="483.2" cy="735.1" r="3.3"/><circle cx="495.3" cy="685.3" r="3.3"/><circle cx="616.2" cy="722.1" r="3.3"/><circle cx="513.6" cy="684.8" r="3.3"/><circle cx="617.1" cy="691.2" r="3.3"/><circle cx="566.8" cy="749.9" r="3.3"/><circle cx="498.7" cy="682.1" r="3.3"/><circle cx="464.4" cy="736.6" r="3.3"/><circle cx="460.3" cy="681.7" r="3.3"/><circle cx="502.0" cy="721.4" r="3.3"/><circle cx="484.2" cy="748.7" r="3.3"/><circle cx="575.5" cy="706.3" r="3.3"/><circle cx="619.5" cy="743.8" r="3.3"/><circle cx="617.3" cy="751.6" r="3.3"/><circle cx="578.6" cy="681.0" r="3.3"/><circle cx="624.1" cy="722.7" r="3.3"/><circle cx="606.0" cy="690.1" r="3.3"/><circle cx="582.2" cy="750.9" r="3.3"/><circle cx="457.5" cy="720.3" r="3.3"/><circle cx="606.0" cy="691.6" r="3.3"/><circle cx="551.5" cy="752.1" r="3.3"/><circle cx="560.3" cy="707.0" r="3.3"/><circle cx="521.8" cy="735.0" r="3.3"/><circle cx="547.8" cy="713.5" r="3.3"/><circle cx="476.3" cy="705.7" r="3.3"/><circle cx="525.2" cy="747.0" r="3.3"/><circle cx="558.8" cy="738.2" r="3.3"/><circle cx="593.3" cy="705.8" r="3.3"/><circle cx="600.5" cy="739.0" r="3.3"/><circle cx="540.9" cy="745.7" r="3.3"/><circle cx="499.1" cy="747.2" r="3.3"/><circle cx="544.1" cy="707.0" r="3.3"/><circle cx="464.5" cy="676.2" r="3.3"/><circle cx="505.8" cy="725.7" r="3.3"/><circle cx="624.3" cy="725.0" r="3.3"/><circle cx="522.0" cy="688.5" r="3.3"/><circle cx="544.5" cy="735.8" r="3.3"/><circle cx="544.5" cy="681.5" r="3.3"/><circle cx="612.4" cy="684.4" r="3.3"/><circle cx="563.8" cy="692.9" r="3.3"/><circle cx="606.1" cy="745.6" r="3.3"/><circle cx="460.5" cy="691.7" r="3.3"/><circle cx="498.5" cy="750.2" r="3.3"/><circle cx="526.1" cy="679.3" r="3.3"/><circle cx="547.8" cy="683.8" r="3.3"/><circle cx="616.2" cy="710.9" r="3.3"/><circle cx="533.5" cy="736.1" r="3.3"/><circle cx="520.8" cy="709.3" r="3.3"/><circle cx="472.6" cy="735.8" r="3.3"/><circle cx="487.9" cy="721.7" r="3.3"/><circle cx="552.6" cy="718.8" r="3.3"/><circle cx="570.6" cy="721.6" r="3.3"/><circle cx="463.5" cy="717.7" r="3.3"/><circle cx="609.1" cy="688.5" r="3.3"/><circle cx="574.0" cy="688.7" r="3.3"/><circle cx="473.7" cy="714.2" r="3.3"/><circle cx="522.9" cy="707.0" r="3.3"/><circle cx="518.3" cy="740.2" r="3.3"/><circle cx="594.9" cy="715.4" r="3.3"/><circle cx="555.6" cy="678.6" r="3.3"/><circle cx="479.9" cy="740.1" r="3.3"/><circle cx="620.7" cy="750.7" r="3.3"/><circle cx="575.7" cy="722.2" r="3.3"/><circle cx="536.0" cy="714.3" r="3.3"/><circle cx="541.2" cy="688.3" r="3.3"/><circle cx="581.8" cy="743.5" r="3.3"/><circle cx="456.9" cy="750.4" r="3.3"/><circle cx="479.4" cy="685.7" r="3.3"/><circle cx="625.5" cy="718.5" r="3.3"/><circle cx="544.0" cy="688.7" r="3.3"/><circle cx="624.3" cy="755.2" r="3.3"/><circle cx="593.9" cy="718.5" r="3.3"/><circle cx="490.7" cy="711.2" r="3.3"/><circle cx="494.8" cy="747.0" r="3.3"/><circle cx="587.1" cy="709.5" r="3.3"/><circle cx="545.7" cy="721.8" r="3.3"/><circle cx="509.0" cy="681.1" r="3.3"/><circle cx="563.8" cy="688.6" r="3.3"/><circle cx="487.7" cy="689.2" r="3.3"/><circle cx="499.8" cy="705.8" r="3.3"/><circle cx="559.6" cy="709.8" r="3.3"/><circle cx="510.4" cy="697.0" r="3.3"/><circle cx="518.3" cy="692.0" r="3.3"/><circle cx="613.4" cy="734.8" r="3.3"/><circle cx="579.2" cy="715.1" r="3.3"/><circle cx="590.3" cy="707.0" r="3.3"/><circle cx="457.5" cy="676.5" r="3.3"/><circle cx="552.8" cy="685.8" r="3.3"/><circle cx="525.8" cy="683.1" r="3.3"/><circle cx="578.5" cy="718.2" r="3.3"/><circle cx="566.6" cy="746.7" r="3.3"/><circle cx="464.6" cy="688.2" r="3.3"/><circle cx="593.8" cy="677.7" r="3.3"/><circle cx="556.2" cy="718.2" r="3.3"/><circle cx="535.2" cy="736.3" r="3.3"/><circle cx="503.3" cy="750.6" r="3.3"/><circle cx="620.6" cy="690.0" r="3.3"/><circle cx="491.5" cy="733.8" r="3.3"/><circle cx="506.1" cy="734.7" r="3.3"/><circle cx="533.4" cy="706.6" r="3.3"/><circle cx="612.5" cy="713.9" r="3.3"/><circle cx="495.4" cy="680.9" r="3.3"/><circle cx="464.5" cy="692.5" r="3.3"/><circle cx="511.2" cy="743.2" r="3.3"/><circle cx="562.3" cy="736.7" r="3.3"/><circle cx="526.9" cy="721.9" r="3.3"/><circle cx="552.4" cy="677.2" r="3.3"/><circle cx="623.5" cy="736.4" r="3.3"/><circle cx="571.3" cy="706.5" r="3.3"/><circle cx="616.1" cy="714.2" r="3.3"/><circle cx="457.5" cy="692.8" r="3.3"/><circle cx="556.1" cy="749.4" r="3.3"/><circle cx="616.6" cy="744.1" r="3.3"/><circle cx="491.3" cy="707.3" r="3.3"/><circle cx="543.9" cy="742.0" r="3.3"/><circle cx="480.3" cy="742.6" r="3.3"/><circle cx="474.9" cy="738.6" r="3.3"/><circle cx="506.1" cy="754.6" r="3.3"/><circle cx="556.5" cy="735.0" r="3.3"/><circle cx="472.6" cy="706.6" r="3.3"/><circle cx="491.2" cy="746.3" r="3.3"/><circle cx="616.8" cy="680.4" r="3.3"/><circle cx="574.5" cy="742.5" r="3.3"/><circle cx="506.3" cy="688.0" r="3.3"/><circle cx="577.9" cy="709.9" r="3.3"/><circle cx="582.0" cy="684.5" r="3.3"/><circle cx="464.1" cy="739.6" r="3.3"/><circle cx="483.1" cy="676.6" r="3.3"/><circle cx="582.6" cy="708.0" r="3.3"/><circle cx="597.6" cy="742.2" r="3.3"/><circle cx="575.2" cy="747.0" r="3.3"/><circle cx="561.0" cy="688.5" r="3.3"/><circle cx="518.0" cy="714.2" r="3.3"/><circle cx="591.3" cy="679.4" r="3.3"/><circle cx="579.2" cy="734.2" r="3.3"/><circle cx="522.8" cy="677.5" r="3.3"/><circle cx="494.8" cy="688.1" r="3.3"/><circle cx="609.1" cy="746.5" r="3.3"/><circle cx="522.1" cy="742.9" r="3.3"/><circle cx="604.9" cy="677.8" r="3.3"/><circle cx="601.5" cy="714.4" r="3.3"/><circle cx="563.0" cy="746.7" r="3.3"/><circle cx="456.7" cy="685.6" r="3.3"/><circle cx="456.3" cy="715.3" r="3.3"/><circle cx="552.9" cy="693.2" r="3.3"/><circle cx="526.4" cy="705.2" r="3.3"/><circle cx="506.1" cy="747.9" r="3.3"/><circle cx="541.7" cy="751.6" r="3.3"/><circle cx="610.2" cy="723.2" r="3.3"/><circle cx="489.1" cy="684.2" r="3.3"/><circle cx="560.6" cy="734.4" r="3.3"/><circle cx="476.4" cy="680.5" r="3.3"/><circle cx="621.2" cy="718.1" r="3.3"/><circle cx="479.9" cy="734.9" r="3.3"/><circle cx="623.6" cy="706.7" r="3.3"/><circle cx="570.9" cy="737.9" r="3.3"/><circle cx="566.3" cy="753.9" r="3.3"/><circle cx="552.9" cy="742.1" r="3.3"/><circle cx="548.3" cy="745.8" r="3.3"/><circle cx="620.8" cy="677.8" r="3.3"/><circle cx="503.2" cy="688.7" r="3.3"/><circle cx="593.7" cy="736.0" r="3.3"/><circle cx="525.8" cy="714.9" r="3.3"/><circle cx="579.1" cy="677.5" r="3.3"/><circle cx="620.6" cy="753.8" r="3.3"/><circle cx="564.1" cy="680.1" r="3.3"/><circle cx="541.2" cy="734.8" r="3.3"/><circle cx="510.3" cy="710.3" r="3.3"/><circle cx="480.2" cy="706.7" r="3.3"/><circle cx="571.1" cy="689.2" r="3.3"/><circle cx="570.8" cy="748.2" r="3.3"/><circle cx="620.3" cy="734.8" r="3.3"/><circle cx="605.2" cy="751.9" r="3.3"/><circle cx="597.6" cy="737.9" r="3.3"/><circle cx="468.9" cy="735.4" r="3.3"/><circle cx="514.4" cy="715.3" r="3.3"/><circle cx="514.4" cy="693.1" r="3.3"/><circle cx="468.0" cy="747.4" r="3.3"/><circle cx="533.5" cy="739.0" r="3.3"/><circle cx="575.6" cy="718.4" r="3.3"/><circle cx="567.8" cy="684.5" r="3.3"/><circle cx="605.0" cy="738.0" r="3.3"/><circle cx="620.7" cy="739.2" r="3.3"/><circle cx="590.3" cy="734.3" r="3.3"/><circle cx="563.3" cy="726.3" r="3.3"/><circle cx="484.1" cy="692.6" r="3.3"/><circle cx="488.3" cy="714.6" r="3.3"/><circle cx="609.6" cy="743.0" r="3.3"/><circle cx="468.5" cy="680.7" r="3.3"/><circle cx="548.8" cy="743.9" r="3.3"/><circle cx="457.1" cy="746.4" r="3.3"/><circle cx="570.6" cy="685.2" r="3.3"/><circle cx="493.7" cy="735.1" r="3.3"/><circle cx="620.6" cy="722.6" r="3.3"/><circle cx="517.8" cy="746.6" r="3.3"/><circle cx="532.3" cy="742.3" r="3.3"/><circle cx="544.9" cy="692.3" r="3.3"/><circle cx="582.4" cy="735.2" r="3.3"/><circle cx="601.4" cy="707.0" r="3.3"/><circle cx="583.3" cy="688.3" r="3.3"/><circle cx="574.1" cy="733.3" r="3.3"/><circle cx="551.9" cy="739.2" r="3.3"/>
</g>
<g class="g">
<circle cx="469.2" cy="701.9" r="3.55"/><circle cx="536.9" cy="751.5" r="3.55"/><circle cx="575.4" cy="759.2" r="3.55"/><circle cx="495.4" cy="734.9" r="3.55"/><circle cx="590.7" cy="734.8" r="3.55"/><circle cx="597.8" cy="701.3" r="3.55"/><circle cx="593.9" cy="726.5" r="3.55"/><circle cx="469.3" cy="727.3" r="3.55"/><circle cx="601.4" cy="760.7" r="3.55"/><circle cx="570.5" cy="735.1" r="3.55"/><circle cx="503.0" cy="701.7" r="3.55"/><circle cx="477.2" cy="751.5" r="3.55"/><circle cx="534.2" cy="698.0" r="3.55"/><circle cx="612.7" cy="705.4" r="3.55"/><circle cx="578.0" cy="705.7" r="3.55"/><circle cx="579.3" cy="753.9" r="3.55"/><circle cx="535.9" cy="705.2" r="3.55"/><circle cx="540.4" cy="756.2" r="3.55"/><circle cx="548.5" cy="736.1" r="3.55"/><circle cx="471.9" cy="701.9" r="3.55"/><circle cx="613.2" cy="764.0" r="3.55"/><circle cx="499.5" cy="706.9" r="3.55"/><circle cx="624.5" cy="696.6" r="3.55"/><circle cx="518.7" cy="755.3" r="3.55"/><circle cx="533.8" cy="759.5" r="3.55"/><circle cx="590.0" cy="761.1" r="3.55"/><circle cx="502.9" cy="727.2" r="3.55"/><circle cx="570.5" cy="755.7" r="3.55"/><circle cx="526.1" cy="754.7" r="3.55"/><circle cx="483.3" cy="764.0" r="3.55"/><circle cx="529.2" cy="693.0" r="3.55"/><circle cx="525.8" cy="697.5" r="3.55"/><circle cx="619.4" cy="725.6" r="3.55"/><circle cx="586.6" cy="726.2" r="3.55"/><circle cx="583.8" cy="754.5" r="3.55"/><circle cx="487.2" cy="727.7" r="3.55"/><circle cx="532.6" cy="693.4" r="3.55"/><circle cx="475.7" cy="698.6" r="3.55"/><circle cx="616.2" cy="702.1" r="3.55"/><circle cx="534.0" cy="751.7" r="3.55"/><circle cx="491.6" cy="698.7" r="3.55"/><circle cx="586.2" cy="696.6" r="3.55"/><circle cx="519.0" cy="702.5" r="3.55"/><circle cx="517.7" cy="726.8" r="3.55"/><circle cx="590.0" cy="702.2" r="3.55"/><circle cx="529.8" cy="723.3" r="3.55"/><circle cx="613.8" cy="730.9" r="3.55"/><circle cx="484.0" cy="759.5" r="3.55"/><circle cx="571.5" cy="752.5" r="3.55"/><circle cx="480.5" cy="735.6" r="3.55"/><circle cx="571.1" cy="764.0" r="3.55"/><circle cx="586.6" cy="759.8" r="3.55"/><circle cx="545.3" cy="759.9" r="3.55"/><circle cx="511.0" cy="755.3" r="3.55"/><circle cx="578.3" cy="697.8" r="3.55"/><circle cx="509.9" cy="730.6" r="3.55"/><circle cx="556.0" cy="731.2" r="3.55"/><circle cx="476.2" cy="727.5" r="3.55"/><circle cx="594.5" cy="705.3" r="3.55"/><circle cx="548.4" cy="731.2" r="3.55"/><circle cx="601.7" cy="701.8" r="3.55"/><circle cx="566.6" cy="697.8" r="3.55"/><circle cx="460.5" cy="764.3" r="3.55"/><circle cx="487.4" cy="693.7" r="3.55"/><circle cx="551.8" cy="705.1" r="3.55"/><circle cx="502.1" cy="756.2" r="3.55"/><circle cx="606.1" cy="697.7" r="3.55"/><circle cx="528.8" cy="764.5" r="3.55"/><circle cx="555.1" cy="760.2" r="3.55"/><circle cx="506.1" cy="695.7" r="3.55"/><circle cx="487.8" cy="697.1" r="3.55"/><circle cx="623.6" cy="726.8" r="3.55"/><circle cx="612.9" cy="697.0" r="3.55"/><circle cx="505.9" cy="756.6" r="3.55"/><circle cx="517.6" cy="705.7" r="3.55"/><circle cx="617.2" cy="759.4" r="3.55"/><circle cx="490.9" cy="704.2" r="3.55"/><circle cx="467.9" cy="730.6" r="3.55"/><circle cx="532.1" cy="722.3" r="3.55"/><circle cx="593.1" cy="732.3" r="3.55"/><circle cx="578.2" cy="764.6" r="3.55"/><circle cx="468.0" cy="693.7" r="3.55"/><circle cx="520.8" cy="726.5" r="3.55"/><circle cx="578.6" cy="730.9" r="3.55"/><circle cx="465.4" cy="693.0" r="3.55"/><circle cx="544.1" cy="753.0" r="3.55"/><circle cx="541.0" cy="734.7" r="3.55"/><circle cx="566.7" cy="726.8" r="3.55"/><circle cx="495.2" cy="730.5" r="3.55"/><circle cx="469.5" cy="760.3" r="3.55"/><circle cx="540.1" cy="692.5" r="3.55"/><circle cx="479.8" cy="722.1" r="3.55"/><circle cx="491.0" cy="726.8" r="3.55"/><circle cx="602.1" cy="731.3" r="3.55"/><circle cx="465.1" cy="727.7" r="3.55"/><circle cx="510.6" cy="696.7" r="3.55"/><circle cx="570.9" cy="730.5" r="3.55"/><circle cx="555.6" cy="735.1" r="3.55"/><circle cx="542.0" cy="702.7" r="3.55"/><circle cx="574.1" cy="723.0" r="3.55"/><circle cx="593.5" cy="721.9" r="3.55"/><circle cx="472.2" cy="693.0" r="3.55"/><circle cx="483.8" cy="755.0" r="3.55"/><circle cx="574.4" cy="751.4" r="3.55"/><circle cx="586.6" cy="705.2" r="3.55"/><circle cx="479.1" cy="756.0" r="3.55"/><circle cx="475.1" cy="694.6" r="3.55"/><circle cx="540.3" cy="704.5" r="3.55"/><circle cx="520.9" cy="705.8" r="3.55"/><circle cx="605.9" cy="764.7" r="3.55"/><circle cx="461.2" cy="759.5" r="3.55"/><circle cx="494.6" cy="759.3" r="3.55"/><circle cx="457.2" cy="764.0" r="3.55"/><circle cx="563.3" cy="702.6" r="3.55"/><circle cx="486.4" cy="764.1" r="3.55"/><circle cx="555.5" cy="754.7" r="3.55"/><circle cx="544.8" cy="697.2" r="3.55"/><circle cx="586.1" cy="730.7" r="3.55"/><circle cx="479.4" cy="751.9" r="3.55"/><circle cx="613.2" cy="727.7" r="3.55"/><circle cx="548.6" cy="702.4" r="3.55"/><circle cx="529.8" cy="697.5" r="3.55"/><circle cx="540.6" cy="760.8" r="3.55"/><circle cx="605.9" cy="756.1" r="3.55"/><circle cx="479.4" cy="697.0" r="3.55"/><circle cx="541.7" cy="697.2" r="3.55"/><circle cx="494.7" cy="726.8" r="3.55"/><circle cx="491.6" cy="730.9" r="3.55"/><circle cx="552.6" cy="726.4" r="3.55"/><circle cx="620.6" cy="701.8" r="3.55"/><circle cx="472.0" cy="756.0" r="3.55"/><circle cx="574.6" cy="734.5" r="3.55"/><circle cx="464.6" cy="704.5" r="3.55"/><circle cx="479.8" cy="759.3" r="3.55"/><circle cx="609.6" cy="731.3" r="3.55"/><circle cx="616.7" cy="725.8" r="3.55"/><circle cx="475.2" cy="731.3" r="3.55"/><circle cx="465.2" cy="755.9" r="3.55"/><circle cx="600.4" cy="735.3" r="3.55"/><circle cx="601.3" cy="756.2" r="3.55"/><circle cx="548.0" cy="704.9" r="3.55"/><circle cx="602.3" cy="705.3" r="3.55"/><circle cx="589.6" cy="731.4" r="3.55"/><circle cx="543.9" cy="755.1" r="3.55"/><circle cx="589.6" cy="692.3" r="3.55"/><circle cx="455.9" cy="728.5" r="3.55"/><circle cx="525.3" cy="760.3" r="3.55"/><circle cx="521.7" cy="693.1" r="3.55"/><circle cx="556.6" cy="705.9" r="3.55"/><circle cx="571.0" cy="698.0" r="3.55"/><circle cx="495.3" cy="756.4" r="3.55"/><circle cx="499.1" cy="754.6" r="3.55"/><circle cx="460.0" cy="702.2" r="3.55"/><circle cx="464.6" cy="759.8" r="3.55"/><circle cx="590.1" cy="727.2" r="3.55"/><circle cx="490.5" cy="759.9" r="3.55"/><circle cx="574.2" cy="763.5" r="3.55"/><circle cx="601.4" cy="762.2" r="3.55"/><circle cx="532.7" cy="702.2" r="3.55"/><circle cx="469.3" cy="756.3" r="3.55"/><circle cx="460.5" cy="735.5" r="3.55"/><circle cx="609.0" cy="707.2" r="3.55"/><circle cx="587.3" cy="734.8" r="3.55"/><circle cx="608.6" cy="764.6" r="3.55"/><circle cx="571.0" cy="722.4" r="3.55"/><circle cx="552.6" cy="763.3" r="3.55"/><circle cx="601.5" cy="751.0" r="3.55"/><circle cx="506.0" cy="725.4" r="3.55"/><circle cx="498.9" cy="735.6" r="3.55"/><circle cx="594.3" cy="751.6" r="3.55"/><circle cx="513.9" cy="765.5" r="3.55"/><circle cx="464.7" cy="721.8" r="3.55"/><circle cx="456.9" cy="702.5" r="3.55"/><circle cx="554.9" cy="762.4" r="3.55"/><circle cx="590.4" cy="751.9" r="3.55"/><circle cx="517.1" cy="762.4" r="3.55"/><circle cx="594.6" cy="763.9" r="3.55"/><circle cx="577.5" cy="734.6" r="3.55"/><circle cx="567.6" cy="701.0" r="3.55"/><circle cx="517.7" cy="750.9" r="3.55"/><circle cx="475.4" cy="722.0" r="3.55"/><circle cx="491.1" cy="701.3" r="3.55"/><circle cx="517.7" cy="759.7" r="3.55"/><circle cx="476.4" cy="760.4" r="3.55"/><circle cx="593.9" cy="702.0" r="3.55"/><circle cx="566.8" cy="756.1" r="3.55"/><circle cx="513.7" cy="722.0" r="3.55"/><circle cx="457.3" cy="706.2" r="3.55"/><circle cx="525.1" cy="751.4" r="3.55"/><circle cx="460.4" cy="725.8" r="3.55"/><circle cx="548.8" cy="726.5" r="3.55"/><circle cx="609.0" cy="755.8" r="3.55"/><circle cx="545.4" cy="693.8" r="3.55"/><circle cx="582.8" cy="723.1" r="3.55"/><circle cx="587.5" cy="692.2" r="3.55"/><circle cx="624.5" cy="732.2" r="3.55"/><circle cx="578.2" cy="722.3" r="3.55"/><circle cx="503.0" cy="760.4" r="3.55"/><circle cx="601.8" cy="692.9" r="3.55"/><circle cx="551.4" cy="757.8" r="3.55"/><circle cx="482.7" cy="700.7" r="3.55"/><circle cx="498.7" cy="763.3" r="3.55"/><circle cx="460.8" cy="705.5" r="3.55"/><circle cx="526.2" cy="702.3" r="3.55"/><circle cx="537.0" cy="722.8" r="3.55"/><circle cx="507.0" cy="701.7" r="3.55"/><circle cx="498.8" cy="701.5" r="3.55"/><circle cx="471.8" cy="734.6" r="3.55"/><circle cx="559.5" cy="696.1" r="3.55"/><circle cx="480.8" cy="704.1" r="3.55"/><circle cx="564.0" cy="756.4" r="3.55"/><circle cx="473.3" cy="723.0" r="3.55"/><circle cx="610.6" cy="697.9" r="3.55"/><circle cx="507.5" cy="730.4" r="3.55"/><circle cx="469.1" cy="763.5" r="3.55"/><circle cx="537.7" cy="727.0" r="3.55"/><circle cx="578.6" cy="700.9" r="3.55"/><circle cx="510.1" cy="726.0" r="3.55"/><circle cx="567.1" cy="731.5" r="3.55"/><circle cx="563.3" cy="728.7" r="3.55"/><circle cx="463.7" cy="735.4" r="3.55"/><circle cx="605.1" cy="727.8" r="3.55"/><circle cx="596.7" cy="730.8" r="3.55"/><circle cx="537.2" cy="730.4" r="3.55"/><circle cx="582.9" cy="696.5" r="3.55"/><circle cx="559.0" cy="700.7" r="3.55"/><circle cx="581.5" cy="759.5" r="3.55"/><circle cx="548.2" cy="756.5" r="3.55"/><circle cx="457.4" cy="694.4" r="3.55"/><circle cx="574.6" cy="725.2" r="3.55"/><circle cx="536.1" cy="696.9" r="3.55"/><circle cx="521.3" cy="701.5" r="3.55"/><circle cx="502.9" cy="731.4" r="3.55"/><circle cx="460.7" cy="697.8" r="3.55"/><circle cx="494.2" cy="764.2" r="3.55"/><circle cx="605.5" cy="701.1" r="3.55"/><circle cx="624.8" cy="755.8" r="3.55"/><circle cx="471.9" cy="726.8" r="3.55"/><circle cx="570.6" cy="693.6" r="3.55"/><circle cx="536.6" cy="693.4" r="3.55"/><circle cx="533.5" cy="756.0" r="3.55"/><circle cx="528.8" cy="754.1" r="3.55"/><circle cx="533.1" cy="763.8" r="3.55"/><circle cx="518.3" cy="730.6" r="3.55"/><circle cx="460.9" cy="755.3" r="3.55"/><circle cx="526.6" cy="734.5" r="3.55"/><circle cx="544.5" cy="764.1" r="3.55"/><circle cx="597.0" cy="698.4" r="3.55"/><circle cx="483.6" cy="730.6" r="3.55"/><circle cx="598.3" cy="759.8" r="3.55"/><circle cx="593.4" cy="696.7" r="3.55"/><circle cx="530.5" cy="751.6" r="3.55"/><circle cx="544.6" cy="726.5" r="3.55"/><circle cx="559.9" cy="755.2" r="3.55"/><circle cx="587.0" cy="763.9" r="3.55"/><circle cx="540.6" cy="726.5" r="3.55"/><circle cx="472.5" cy="764.6" r="3.55"/><circle cx="487.7" cy="756.1" r="3.55"/><circle cx="563.1" cy="758.6" r="3.55"/><circle cx="465.8" cy="730.7" r="3.55"/><circle cx="464.2" cy="752.0" r="3.55"/><circle cx="582.4" cy="693.1" r="3.55"/><circle cx="624.3" cy="759.3" r="3.55"/><circle cx="480.0" cy="694.6" r="3.55"/><circle cx="544.2" cy="733.9" r="3.55"/><circle cx="472.1" cy="697.4" r="3.55"/><circle cx="616.8" cy="757.0" r="3.55"/><circle cx="467.6" cy="698.9" r="3.55"/><circle cx="601.5" cy="698.3" r="3.55"/><circle cx="533.1" cy="730.3" r="3.55"/><circle cx="495.5" cy="697.9" r="3.55"/><circle cx="516.9" cy="723.3" r="3.55"/><circle cx="468.7" cy="705.1" r="3.55"/><circle cx="567.6" cy="759.3" r="3.55"/><circle cx="464.5" cy="700.8" r="3.55"/><circle cx="532.8" cy="726.9" r="3.55"/><circle cx="598.6" cy="726.7" r="3.55"/><circle cx="479.6" cy="702.3" r="3.55"/><circle cx="484.2" cy="725.3" r="3.55"/><circle cx="483.8" cy="751.9" r="3.55"/><circle cx="582.7" cy="763.5" r="3.55"/><circle cx="467.9" cy="722.5" r="3.55"/><circle cx="564.0" cy="731.1" r="3.55"/><circle cx="537.2" cy="760.1" r="3.55"/><circle cx="590.3" cy="755.6" r="3.55"/><circle cx="623.8" cy="701.9" r="3.55"/><circle cx="571.0" cy="759.7" r="3.55"/><circle cx="494.3" cy="701.0" r="3.55"/><circle cx="608.8" cy="699.6" r="3.55"/><circle cx="586.2" cy="755.6" r="3.55"/><circle cx="514.6" cy="701.8" r="3.55"/><circle cx="601.1" cy="724.1" r="3.55"/><circle cx="460.4" cy="693.5" r="3.55"/><circle cx="587.4" cy="724.1" r="3.55"/><circle cx="461.1" cy="752.4" r="3.55"/><circle cx="610.1" cy="761.3" r="3.55"/><circle cx="514.1" cy="726.6" r="3.55"/><circle cx="608.7" cy="727.1" r="3.55"/><circle cx="616.5" cy="697.8" r="3.55"/><circle cx="582.6" cy="706.2" r="3.55"/><circle cx="487.6" cy="705.8" r="3.55"/><circle cx="514.0" cy="755.4" r="3.55"/><circle cx="536.5" cy="763.0" r="3.55"/><circle cx="520.9" cy="697.9" r="3.55"/><circle cx="487.7" cy="734.6" r="3.55"/><circle cx="498.4" cy="731.7" r="3.55"/><circle cx="621.3" cy="759.9" r="3.55"/><circle cx="588.7" cy="696.8" r="3.55"/><circle cx="490.7" cy="755.1" r="3.55"/><circle cx="612.8" cy="755.2" r="3.55"/><circle cx="574.8" cy="730.3" r="3.55"/><circle cx="573.7" cy="755.3" r="3.55"/><circle cx="473.0" cy="760.0" r="3.55"/><circle cx="530.3" cy="759.2" r="3.55"/><circle cx="552.3" cy="701.8" r="3.55"/><circle cx="541.1" cy="752.1" r="3.55"/><circle cx="457.0" cy="751.6" r="3.55"/><circle cx="533.1" cy="735.2" r="3.55"/><circle cx="513.8" cy="759.9" r="3.55"/><circle cx="594.7" cy="760.1" r="3.55"/><circle cx="532.7" cy="705.9" r="3.55"/><circle cx="503.1" cy="696.6" r="3.55"/><circle cx="514.5" cy="751.8" r="3.55"/><circle cx="513.9" cy="697.7" r="3.55"/><circle cx="602.2" cy="726.8" r="3.55"/><circle cx="464.1" cy="698.7" r="3.55"/><circle cx="495.4" cy="706.2" r="3.55"/><circle cx="594.1" cy="694.2" r="3.55"/><circle cx="544.3" cy="705.4" r="3.55"/><circle cx="525.2" cy="706.3" r="3.55"/><circle cx="536.0" cy="701.9" r="3.55"/><circle cx="582.7" cy="735.8" r="3.55"/><circle cx="578.8" cy="755.9" r="3.55"/><circle cx="463.6" cy="763.1" r="3.55"/><circle cx="457.6" cy="733.9" r="3.55"/><circle cx="480.5" cy="727.4" r="3.55"/><circle cx="521.7" cy="756.0" r="3.55"/><circle cx="589.9" cy="722.7" r="3.55"/><circle cx="581.6" cy="727.3" r="3.55"/><circle cx="529.4" cy="730.3" r="3.55"/><circle cx="571.5" cy="727.4" r="3.55"/><circle cx="483.8" cy="722.1" r="3.55"/><circle cx="482.3" cy="734.3" r="3.55"/><circle cx="525.1" cy="729.9" r="3.55"/><circle cx="583.0" cy="752.3" r="3.55"/><circle cx="579.1" cy="726.3" r="3.55"/><circle cx="570.6" cy="701.3" r="3.55"/><circle cx="522.2" cy="762.5" r="3.55"/><circle cx="457.3" cy="760.3" r="3.55"/><circle cx="522.0" cy="734.8" r="3.55"/><circle cx="488.0" cy="700.6" r="3.55"/><circle cx="505.8" cy="759.6" r="3.55"/><circle cx="621.4" cy="755.2" r="3.55"/><circle cx="476.1" cy="755.8" r="3.55"/><circle cx="498.3" cy="698.7" r="3.55"/><circle cx="606.1" cy="706.7" r="3.55"/><circle cx="456.9" cy="723.6" r="3.55"/><circle cx="573.8" cy="693.6" r="3.55"/><circle cx="620.8" cy="730.1" r="3.55"/><circle cx="555.2" cy="701.2" r="3.55"/><circle cx="516.8" cy="694.1" r="3.55"/><circle cx="578.2" cy="760.7" r="3.55"/><circle cx="598.2" cy="735.4" r="3.55"/><circle cx="510.2" cy="759.6" r="3.55"/><circle cx="475.5" cy="734.8" r="3.55"/><circle cx="540.8" cy="730.8" r="3.55"/><circle cx="512.9" cy="693.1" r="3.55"/><circle cx="590.0" cy="763.6" r="3.55"/><circle cx="540.6" cy="765.0" r="3.55"/><circle cx="456.2" cy="698.5" r="3.55"/><circle cx="574.8" cy="706.7" r="3.55"/><circle cx="545.0" cy="723.5" r="3.55"/><circle cx="551.8" cy="734.2" r="3.55"/><circle cx="612.1" cy="734.8" r="3.55"/><circle cx="525.6" cy="726.5" r="3.55"/><circle cx="522.5" cy="752.2" r="3.55"/><circle cx="480.5" cy="731.5" r="3.55"/><circle cx="606.2" cy="759.0" r="3.55"/><circle cx="560.3" cy="726.5" r="3.55"/><circle cx="491.3" cy="764.8" r="3.55"/><circle cx="489.8" cy="735.0" r="3.55"/><circle cx="560.1" cy="729.9" r="3.55"/><circle cx="537.3" cy="756.0" r="3.55"/><circle cx="598.6" cy="723.3" r="3.55"/><circle cx="596.7" cy="763.4" r="3.55"/><circle cx="518.5" cy="735.4" r="3.55"/><circle cx="487.2" cy="759.3" r="3.55"/><circle cx="549.3" cy="698.3" r="3.55"/><circle cx="522.9" cy="730.2" r="3.55"/><circle cx="548.6" cy="763.1" r="3.55"/><circle cx="598.7" cy="693.0" r="3.55"/><circle cx="529.5" cy="734.8" r="3.55"/><circle cx="522.0" cy="760.7" r="3.55"/><circle cx="483.1" cy="697.9" r="3.55"/><circle cx="620.5" cy="697.7" r="3.55"/><circle cx="517.4" cy="697.8" r="3.55"/><circle cx="552.5" cy="760.1" r="3.55"/><circle cx="477.1" cy="763.1" r="3.55"/><circle cx="521.3" cy="722.4" r="3.55"/><circle cx="471.5" cy="731.4" r="3.55"/><circle cx="583.8" cy="730.7" r="3.55"/><circle cx="486.8" cy="723.5" r="3.55"/><circle cx="544.1" cy="730.9" r="3.55"/><circle cx="613.5" cy="759.1" r="3.55"/><circle cx="525.2" cy="763.7" r="3.55"/><circle cx="597.6" cy="757.3" r="3.55"/><circle cx="548.3" cy="759.8" r="3.55"/><circle cx="571.1" cy="705.7" r="3.55"/><circle cx="483.2" cy="693.7" r="3.55"/><circle cx="457.7" cy="730.7" r="3.55"/><circle cx="469.5" cy="735.2" r="3.55"/><circle cx="605.1" cy="735.3" r="3.55"/><circle cx="468.2" cy="752.1" r="3.55"/><circle cx="586.4" cy="700.1" r="3.55"/><circle cx="593.5" cy="756.0" r="3.55"/><circle cx="541.0" cy="724.0" r="3.55"/><circle cx="472.6" cy="752.5" r="3.55"/><circle cx="612.9" cy="700.8" r="3.55"/><circle cx="555.8" cy="698.5" r="3.55"/><circle cx="514.0" cy="734.2" r="3.55"/><circle cx="555.1" cy="725.8" r="3.55"/><circle cx="477.3" cy="705.0" r="3.55"/><circle cx="526.1" cy="692.8" r="3.55"/><circle cx="460.5" cy="722.7" r="3.55"/><circle cx="498.7" cy="759.0" r="3.55"/><circle cx="487.5" cy="731.0" r="3.55"/><circle cx="593.3" cy="734.6" r="3.55"/><circle cx="510.0" cy="702.0" r="3.55"/><circle cx="528.8" cy="705.7" r="3.55"/><circle cx="457.7" cy="755.9" r="3.55"/><circle cx="488.0" cy="752.0" r="3.55"/><circle cx="479.5" cy="763.3" r="3.55"/><circle cx="529.2" cy="702.4" r="3.55"/><circle cx="544.1" cy="699.6" r="3.55"/><circle cx="551.0" cy="731.9" r="3.55"/><circle cx="609.2" cy="734.0" r="3.55"/><circle cx="605.7" cy="729.8" r="3.55"/><circle cx="483.5" cy="706.9" r="3.55"/><circle cx="536.4" cy="735.3" r="3.55"/><circle cx="564.5" cy="698.3" r="3.55"/><circle cx="578.6" cy="693.4" r="3.55"/><circle cx="597.8" cy="705.5" r="3.55"/><circle cx="498.5" cy="725.4" r="3.55"/><circle cx="583.1" cy="701.0" r="3.55"/><circle cx="560.1" cy="759.5" r="3.55"/><circle cx="471.8" cy="705.3" r="3.55"/><circle cx="475.7" cy="701.0" r="3.55"/><circle cx="525.1" cy="723.9" r="3.55"/><circle cx="574.5" cy="700.6" r="3.55"/><circle cx="574.0" cy="697.4" r="3.55"/><circle cx="586.2" cy="753.3" r="3.55"/><circle cx="459.9" cy="730.4" r="3.55"/><circle cx="513.3" cy="730.4" r="3.55"/><circle cx="552.7" cy="697.3" r="3.55"/><circle cx="616.7" cy="729.7" r="3.55"/><circle cx="590.1" cy="706.6" r="3.55"/><circle cx="529.4" cy="725.6" r="3.55"/><circle cx="598.2" cy="752.0" r="3.55"/><circle cx="514.1" cy="704.9" r="3.55"/>
</g>
<g class="b2">
<circle cx="473.1" cy="755.1" r="2.4"/><circle cx="469.6" cy="758.1" r="2.4"/><circle cx="587.1" cy="726.2" r="2.4"/><circle cx="530.2" cy="755.1" r="2.4"/><circle cx="580.1" cy="697.4" r="2.4"/><circle cx="479.1" cy="728.2" r="2.4"/><circle cx="526.7" cy="758.1" r="2.4"/><circle cx="468.1" cy="701.9" r="2.4"/><circle cx="533.2" cy="729.7" r="2.4"/><circle cx="533.2" cy="700.4" r="2.4"/><circle cx="583.6" cy="758.1" r="2.4"/><circle cx="526.7" cy="729.2" r="2.4"/><circle cx="471.1" cy="702.9" r="2.4"/><circle cx="523.2" cy="755.6" r="2.4"/><circle cx="532.2" cy="732.7" r="2.4"/><circle cx="471.1" cy="761.1" r="2.4"/><circle cx="476.1" cy="729.7" r="2.4"/><circle cx="590.1" cy="758.6" r="2.4"/><circle cx="469.6" cy="729.2" r="2.4"/><circle cx="475.1" cy="703.4" r="2.4"/><circle cx="583.6" cy="729.2" r="2.4"/><circle cx="475.1" cy="761.6" r="2.4"/><circle cx="585.1" cy="732.2" r="2.4"/><circle cx="580.1" cy="726.7" r="2.4"/><circle cx="525.2" cy="760.1" r="2.4"/><circle cx="473.1" cy="696.9" r="2.4"/><circle cx="580.1" cy="755.6" r="2.4"/><circle cx="589.1" cy="761.6" r="2.4"/><circle cx="473.1" cy="726.2" r="2.4"/><circle cx="530.2" cy="726.2" r="2.4"/><circle cx="471.1" cy="732.2" r="2.4"/><circle cx="479.1" cy="757.1" r="2.4"/><circle cx="530.2" cy="696.9" r="2.4"/><circle cx="528.2" cy="732.2" r="2.4"/><circle cx="585.1" cy="761.1" r="2.4"/><circle cx="525.2" cy="701.9" r="2.4"/><circle cx="476.1" cy="758.6" r="2.4"/><circle cx="582.1" cy="760.1" r="2.4"/><circle cx="590.1" cy="700.4" r="2.4"/><circle cx="523.2" cy="697.4" r="2.4"/><circle cx="582.1" cy="731.2" r="2.4"/><circle cx="533.2" cy="758.6" r="2.4"/><circle cx="587.1" cy="755.1" r="2.4"/><circle cx="528.2" cy="761.1" r="2.4"/><circle cx="475.1" cy="732.7" r="2.4"/><circle cx="528.2" cy="702.9" r="2.4"/><circle cx="585.1" cy="702.9" r="2.4"/><circle cx="468.1" cy="731.2" r="2.4"/><circle cx="523.2" cy="726.7" r="2.4"/><circle cx="583.6" cy="699.9" r="2.4"/><circle cx="476.1" cy="700.4" r="2.4"/><circle cx="525.2" cy="731.2" r="2.4"/><circle cx="589.1" cy="732.7" r="2.4"/><circle cx="536.2" cy="728.2" r="2.4"/><circle cx="536.2" cy="698.9" r="2.4"/><circle cx="582.1" cy="701.9" r="2.4"/><circle cx="536.2" cy="757.1" r="2.4"/><circle cx="587.1" cy="696.9" r="2.4"/><circle cx="532.2" cy="761.6" r="2.4"/><circle cx="466.1" cy="755.6" r="2.4"/><circle cx="593.1" cy="757.1" r="2.4"/><circle cx="589.1" cy="703.4" r="2.4"/><circle cx="469.6" cy="699.9" r="2.4"/><circle cx="593.1" cy="728.2" r="2.4"/><circle cx="466.1" cy="726.7" r="2.4"/><circle cx="593.1" cy="698.9" r="2.4"/><circle cx="532.2" cy="703.4" r="2.4"/><circle cx="466.1" cy="697.4" r="2.4"/><circle cx="590.1" cy="729.7" r="2.4"/><circle cx="526.7" cy="699.9" r="2.4"/><circle cx="468.1" cy="760.1" r="2.4"/><circle cx="479.1" cy="698.9" r="2.4"/>
</g></g><g stroke="#222" stroke-width="1" opacity="0.8"><line x1="456.6" y1="680.4" x2="627.6" y2="680.4"/><line x1="456.6" y1="709.7" x2="627.6" y2="709.7"/><line x1="456.6" y1="738.6" x2="627.6" y2="738.6"/><line x1="456.6" y1="767.8" x2="627.6" y2="767.8"/><line x1="456.6" y1="680.4" x2="456.6" y2="767.8"/><line x1="513.7" y1="680.4" x2="513.7" y2="767.8"/><line x1="570.6" y1="680.4" x2="570.6" y2="767.8"/><line x1="627.6" y1="680.4" x2="627.6" y2="767.8"/></g><g opacity="0.999"><text transform="translate(9.8,533.2) scale(0.86,1)" font-size="33" font-weight="bold" fill="#0c0c0c">e</text><text x="346.5" y="513.4" font-size="30.5" font-weight="bold" fill="#0c0c0c">f</text></g><g filter="url(#wsh)"><ellipse cx="579.5" cy="743.5" rx="8.6" ry="7.4" fill="#fff"/><path d="M573.5 748.5 L572 753 L577.5 750.5Z" fill="#fff"/><ellipse cx="588.2" cy="749.6" rx="7.3" ry="6.2" fill="#fff" stroke="#9aa" stroke-width="0.5"/><path d="M592 754.5 L594.5 757.6 L589 755.6Z" fill="#fff"/><circle cx="576.6" cy="741.6" r="1" fill="#777"/><circle cx="582.6" cy="741.6" r="1" fill="#777"/><circle cx="585.8" cy="748" r="0.85" fill="#777"/><circle cx="590.6" cy="748" r="0.85" fill="#777"/><text x="599.5" y="753.2" font-size="16.3" fill="#fff" stroke="#fff" stroke-width="0.3">化学加</text></g>
</svg>
</body></html>
